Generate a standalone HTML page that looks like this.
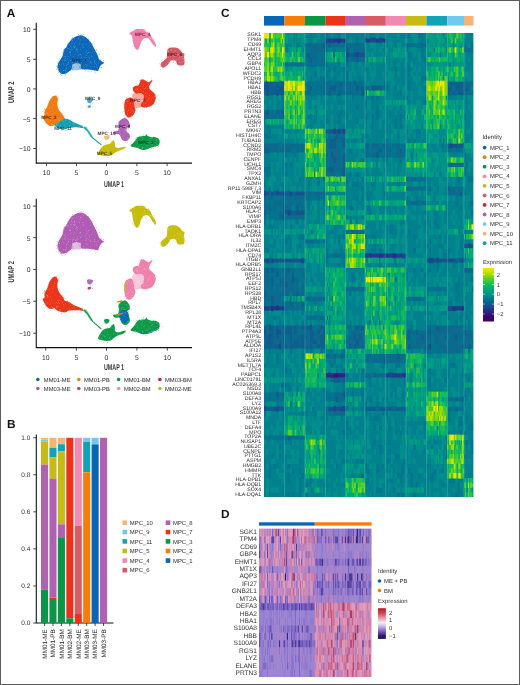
<!DOCTYPE html><html><head><meta charset="utf-8"><style>html,body{margin:0;padding:0;background:#fff;width:520px;height:685px;overflow:hidden}svg{display:block;will-change:transform}text{font-family:"Liberation Sans",sans-serif;text-rendering:geometricPrecision}</style></head><body>
<svg width="520" height="685" viewBox="0 0 520 685">
<rect x="0" y="0" width="520" height="685" fill="#fff"/>
<text x="6.80" y="16.60" font-size="11.8" text-anchor="start" fill="#111" font-weight="bold" >A</text>
<text x="7.10" y="428.00" font-size="11.8" text-anchor="start" fill="#111" font-weight="bold" >B</text>
<text x="221.00" y="16.80" font-size="11.8" text-anchor="start" fill="#111" font-weight="bold" >C</text>
<text x="221.00" y="517.80" font-size="11.8" text-anchor="start" fill="#111" font-weight="bold" >D</text>
<path d="M36.25,22.8 V163.1 H192" fill="none" stroke="#111" stroke-width="1.1"/>
<line x1="33.05" y1="29.3" x2="36.25" y2="29.3" stroke="#222" stroke-width="0.8"/>
<text x="30.50" y="32.20" font-size="6.8" text-anchor="end" fill="#333" >10</text>
<line x1="33.05" y1="59.3" x2="36.25" y2="59.3" stroke="#222" stroke-width="0.8"/>
<text x="30.50" y="62.20" font-size="6.8" text-anchor="end" fill="#333" >5</text>
<line x1="33.05" y1="88.9" x2="36.25" y2="88.9" stroke="#222" stroke-width="0.8"/>
<text x="30.50" y="91.80" font-size="6.8" text-anchor="end" fill="#333" >0</text>
<line x1="33.05" y1="118.6" x2="36.25" y2="118.6" stroke="#222" stroke-width="0.8"/>
<text x="30.50" y="121.50" font-size="6.8" text-anchor="end" fill="#333" >−5</text>
<line x1="33.05" y1="148.5" x2="36.25" y2="148.5" stroke="#222" stroke-width="0.8"/>
<text x="30.50" y="151.40" font-size="6.8" text-anchor="end" fill="#333" >−10</text>
<line x1="46.5" y1="163.1" x2="46.5" y2="166.1" stroke="#222" stroke-width="0.8"/>
<text x="46.50" y="175.40" font-size="6.8" text-anchor="middle" fill="#333" >10</text>
<line x1="76.5" y1="163.1" x2="76.5" y2="166.1" stroke="#222" stroke-width="0.8"/>
<text x="76.50" y="175.40" font-size="6.8" text-anchor="middle" fill="#333" >5</text>
<line x1="106.5" y1="163.1" x2="106.5" y2="166.1" stroke="#222" stroke-width="0.8"/>
<text x="106.50" y="175.40" font-size="6.8" text-anchor="middle" fill="#333" >0</text>
<line x1="136.9" y1="163.1" x2="136.9" y2="166.1" stroke="#222" stroke-width="0.8"/>
<text x="136.90" y="175.40" font-size="6.8" text-anchor="middle" fill="#333" >5</text>
<line x1="167.1" y1="163.1" x2="167.1" y2="166.1" stroke="#222" stroke-width="0.8"/>
<text x="167.10" y="175.40" font-size="6.8" text-anchor="middle" fill="#333" >10</text>
<text x="0" y="0" font-size="8.4" font-weight="bold" fill="#333" text-anchor="middle" transform="translate(114,186.8) scale(0.64,1)">UMAP 1</text>
<text x="0" y="0" font-size="8.4" font-weight="bold" fill="#333" text-anchor="middle" transform="translate(14.1,92.4) rotate(-90) scale(0.68,1)">UMAP 2</text>
<g >
<path d="M133.5,93.2 C134.3,92.8 135.9,93.8 137.0,93.8 C138.1,93.8 139.0,92.9 140.0,93.0 C141.0,93.1 142.5,93.6 143.1,94.5 C143.7,95.4 143.8,97.1 143.8,98.3 C143.8,99.5 143.6,100.5 143.1,101.4 C142.6,102.3 141.1,102.8 140.8,103.7 C140.5,104.6 142.0,106.1 141.5,106.8 C141.0,107.5 139.1,107.7 138.0,107.8 C136.9,107.9 135.5,108.1 134.8,107.2 C134.1,106.3 134.1,103.6 133.8,102.2 C133.5,100.8 133.4,100.1 133.1,99.1 C132.8,98.1 131.9,97.0 132.0,96.0 C132.1,95.0 132.7,93.6 133.5,93.2 Z" fill="#ec3419" fill-opacity="0.42"/>
<path d="M71.5,69.8 C70.9,68.8 71.8,65.5 72.5,64.5 C73.2,63.5 74.7,63.5 76.0,63.5 C77.3,63.5 79.6,63.5 80.5,64.5 C81.4,65.5 82.2,68.2 81.5,69.2 C80.8,70.2 77.7,70.1 76.0,70.2 C74.3,70.3 72.1,70.8 71.5,69.8 Z" fill="#0c68b8" fill-opacity="0.4"/>
<path d="M83.0,127.0 C83.3,126.6 85.2,126.2 86.0,126.5 C86.8,126.8 87.2,127.9 88.0,129.0 C88.8,130.1 89.8,131.8 90.5,133.0 C91.2,134.2 92.4,135.8 92.5,136.5 C92.6,137.2 91.7,137.9 91.0,137.5 C90.3,137.1 89.3,135.2 88.5,134.0 C87.7,132.8 86.8,131.3 86.0,130.5 C85.2,129.7 84.5,129.6 84.0,129.0 C83.5,128.4 82.7,127.4 83.0,127.0 Z" fill="#14a0b4" fill-opacity="0.55"/>
<path d="M69.0,71.5 C69.9,70.8 70.9,70.7 71.5,69.5 C72.1,68.3 71.8,65.5 72.5,64.5 C73.2,63.5 74.7,63.5 76.0,63.5 C77.3,63.5 79.6,63.6 80.5,64.5 C81.4,65.4 80.2,68.2 81.5,69.0 C82.8,69.8 85.8,69.2 88.0,69.5 C90.2,69.8 93.3,70.2 95.0,70.5 C96.7,70.8 97.3,71.3 98.0,71.0 C98.7,70.7 98.5,69.5 99.0,68.5 C99.5,67.5 100.2,65.9 101.0,65.0 C101.8,64.1 103.8,63.6 104.0,63.0 C104.2,62.4 102.8,62.2 102.0,61.5 C101.2,60.8 99.7,59.9 99.0,59.0 C98.3,58.1 98.7,57.5 98.0,56.0 C97.3,54.5 96.3,52.4 95.0,50.0 C93.7,47.6 91.9,43.9 90.4,41.8 C88.9,39.7 87.4,38.3 85.8,37.2 C84.2,36.1 82.3,35.4 80.6,35.3 C78.9,35.2 77.0,36.2 75.5,36.8 C74.0,37.4 73.2,37.8 71.9,39.0 C70.7,40.2 69.0,42.6 68.0,44.0 C67.0,45.4 66.8,46.6 66.1,47.6 C65.4,48.6 64.6,48.6 64.0,50.0 C63.4,51.4 63.2,54.2 62.5,56.0 C61.8,57.8 60.2,59.7 59.5,61.0 C58.8,62.3 58.3,62.8 58.0,64.0 C57.7,65.2 57.3,66.8 57.5,68.0 C57.7,69.2 58.2,70.5 59.0,71.5 C59.8,72.5 60.8,73.7 62.0,74.0 C63.2,74.3 64.8,73.9 66.0,73.5 C67.2,73.1 68.1,72.2 69.0,71.5 Z" fill="#0c68b8" />
<path d="M129.6,33.2 C129.9,32.7 131.1,32.0 131.9,31.5 C132.7,31.0 133.8,30.6 134.5,30.2 C135.2,29.8 134.3,29.4 135.8,29.2 C137.3,29.0 142.0,28.9 143.6,29.2 C145.2,29.5 144.7,30.6 145.6,31.2 C146.5,31.8 148.0,32.2 148.9,32.8 C149.8,33.4 150.3,33.9 150.8,34.8 C151.3,35.7 151.4,36.9 152.1,38.1 C152.8,39.3 154.2,40.7 154.8,42.0 C155.5,43.3 156.0,45.2 156.0,46.0 C156.0,46.8 155.5,47.1 154.8,46.6 C154.2,46.1 153.1,44.6 152.1,43.3 C151.1,42.0 150.0,39.6 148.9,38.7 C147.8,37.8 146.7,37.9 145.6,38.1 C144.5,38.3 143.2,39.0 142.3,40.0 C141.4,41.0 140.9,42.7 140.4,44.0 C139.9,45.3 139.7,46.9 139.1,47.9 C138.5,48.9 137.8,49.7 137.1,49.8 C136.4,49.9 135.8,49.4 135.2,48.5 C134.6,47.6 133.9,46.1 133.5,44.6 C133.1,43.1 132.8,40.9 132.5,39.4 C132.2,37.9 132.3,36.3 131.9,35.5 C131.5,34.7 130.3,34.9 129.9,34.5 C129.5,34.1 129.3,33.7 129.6,33.2 Z" fill="#ee80ac" />
<path d="M168.4,48.6 C169.1,48.0 170.0,47.6 171.3,47.5 C172.7,47.4 175.1,47.4 176.5,47.8 C177.9,48.2 179.0,49.0 179.9,49.8 C180.8,50.6 181.4,52.0 182.2,52.7 C183.0,53.4 184.2,53.1 184.5,53.8 C184.8,54.5 184.0,55.6 184.0,56.7 C184.0,57.9 184.5,59.4 184.5,60.7 C184.5,62.1 184.6,64.0 184.0,64.8 C183.4,65.6 182.2,65.4 181.1,65.4 C180.0,65.4 178.5,65.5 177.6,64.8 C176.7,64.1 176.6,62.1 175.9,61.3 C175.2,60.5 174.5,60.3 173.6,60.2 C172.7,60.1 171.4,60.3 170.7,60.7 C170.0,61.1 170.0,61.8 169.5,62.5 C169.0,63.2 168.6,64.0 167.8,64.8 C167.0,65.6 165.8,66.6 164.9,67.1 C164.0,67.6 163.3,68.1 162.6,67.7 C161.9,67.3 160.8,65.7 160.6,64.8 C160.4,63.9 160.9,63.3 161.5,62.5 C162.1,61.7 163.4,61.0 164.3,60.2 C165.2,59.4 166.2,58.8 166.7,57.8 C167.2,56.8 167.1,55.5 167.2,54.4 C167.3,53.2 167.0,51.9 167.2,50.9 C167.4,49.9 167.7,49.2 168.4,48.6 Z" fill="#d25a64" />
<path d="M140.8,79.8 C141.4,79.2 142.3,79.4 143.1,79.5 C143.9,79.6 144.5,80.1 145.4,80.6 C146.3,81.0 147.5,82.3 148.5,82.2 C149.5,82.1 150.9,80.4 151.5,80.2 C152.1,80.0 152.6,80.3 152.3,81.0 C152.1,81.7 150.5,83.3 150.0,84.5 C149.5,85.7 148.8,87.1 149.2,88.3 C149.6,89.5 151.4,90.5 152.3,91.4 C153.2,92.3 154.0,92.7 154.6,93.7 C155.2,94.7 155.8,96.1 155.8,97.5 C155.8,98.9 155.2,100.9 154.6,102.2 C154.0,103.5 153.3,104.4 152.3,105.2 C151.3,106.0 149.8,106.4 148.5,106.8 C147.2,107.2 145.8,107.5 144.6,107.5 C143.4,107.5 142.1,107.4 141.5,106.8 C140.9,106.2 140.5,104.6 140.8,103.7 C141.1,102.8 142.6,102.3 143.1,101.4 C143.6,100.5 143.8,99.5 143.8,98.3 C143.8,97.1 143.7,95.4 143.1,94.5 C142.5,93.6 141.0,93.0 140.0,92.9 C139.0,92.8 137.7,93.7 136.9,93.7 C136.1,93.7 135.6,93.4 135.0,92.9 C134.4,92.4 133.4,91.5 133.1,90.6 C132.8,89.7 132.7,88.3 133.1,87.5 C133.5,86.7 134.5,86.4 135.4,86.0 C136.3,85.6 137.8,85.7 138.5,85.2 C139.2,84.7 139.2,83.8 139.6,82.9 C140.0,82.0 140.2,80.4 140.8,79.8 Z" fill="#ec3419" />
<path d="M127.7,98.3 C128.5,98.0 129.9,97.4 130.8,97.5 C131.7,97.6 132.6,98.3 133.1,99.1 C133.6,99.9 133.6,100.9 133.8,102.2 C134.1,103.5 134.3,105.5 134.6,106.8 C134.9,108.1 135.4,108.8 135.4,109.8 C135.4,110.8 135.1,111.9 134.6,112.9 C134.1,113.9 133.2,115.2 132.3,116.0 C131.4,116.8 130.2,117.5 129.2,117.5 C128.2,117.5 127.0,117.0 126.2,116.0 C125.4,115.0 124.9,112.9 124.6,111.4 C124.3,109.9 124.2,108.3 124.2,106.8 C124.2,105.3 124.3,103.5 124.6,102.2 C124.9,100.9 125.7,99.8 126.2,99.1 C126.7,98.4 126.9,98.6 127.7,98.3 Z" fill="#ec3419" />
<path d="M122.4,118.7 C123.4,118.2 124.4,117.9 125.3,118.1 C126.2,118.3 126.9,119.0 127.6,119.8 C128.3,120.6 129.0,121.6 129.4,122.7 C129.8,123.8 130.1,125.4 129.9,126.2 C129.7,127.0 128.8,126.8 128.2,127.3 C127.6,127.8 126.7,128.2 126.5,129.0 C126.3,129.8 126.5,131.1 127.0,132.0 C127.5,132.9 128.9,133.3 129.4,134.2 C129.9,135.0 130.1,136.1 129.9,137.1 C129.7,138.1 129.0,139.3 128.2,140.0 C127.4,140.7 126.3,141.2 125.3,141.2 C124.3,141.2 123.2,140.7 122.4,140.0 C121.6,139.3 121.3,138.1 120.7,137.1 C120.1,136.1 120.0,134.7 119.0,134.2 C118.0,133.7 115.9,134.5 114.9,134.2 C113.9,133.9 113.3,133.0 113.2,132.5 C113.1,132.0 113.5,131.7 114.3,131.4 C115.1,131.1 117.0,131.5 117.8,130.8 C118.6,130.1 118.9,128.6 119.0,127.3 C119.1,126.0 118.3,124.3 118.4,123.3 C118.5,122.2 118.8,121.8 119.5,121.0 C120.2,120.2 121.4,119.2 122.4,118.7 Z" fill="#ac64b4" />
<path d="M130.6,145.6 C130.7,144.9 132.4,143.9 133.2,143.0 C134.0,142.1 134.4,141.4 135.2,140.4 C136.0,139.4 136.8,137.9 137.8,137.2 C138.8,136.5 139.9,136.4 141.1,136.2 C142.3,136.0 144.1,136.1 145.0,135.8 C145.9,135.5 145.9,134.2 146.3,134.2 C146.7,134.2 146.7,135.3 147.6,135.8 C148.5,136.3 150.2,137.0 151.5,137.2 C152.8,137.4 154.3,136.9 155.5,137.2 C156.7,137.5 158.0,138.1 158.7,138.8 C159.4,139.6 159.7,140.7 159.7,141.7 C159.7,142.7 159.4,144.2 158.7,145.0 C158.0,145.8 156.7,146.2 155.5,146.6 C154.3,147.0 152.8,147.2 151.5,147.6 C150.2,148.0 148.9,148.5 147.6,148.9 C146.3,149.3 145.0,149.9 143.7,149.9 C142.4,149.9 141.1,149.3 139.8,148.9 C138.5,148.5 137.0,147.9 135.8,147.6 C134.6,147.3 133.5,147.3 132.6,147.0 C131.7,146.7 130.5,146.3 130.6,145.6 Z" fill="#0e9a48" />
<path d="M98.2,152.8 C98.4,151.9 99.4,150.5 100.2,149.3 C101.0,148.2 102.0,146.7 103.0,145.9 C104.0,145.1 105.3,144.8 106.5,144.5 C107.7,144.2 109.0,144.3 109.9,143.8 C110.8,143.3 111.4,142.3 112.0,141.7 C112.6,141.1 113.2,140.1 113.7,140.3 C114.2,140.5 114.5,141.9 114.8,143.1 C115.1,144.2 114.7,146.4 115.5,147.2 C116.3,148.0 118.3,147.9 119.6,147.9 C120.9,147.9 122.0,147.1 123.1,146.9 C124.1,146.7 125.9,146.5 125.9,146.9 C125.9,147.3 124.3,148.7 123.1,149.3 C121.9,149.9 120.3,150.1 118.9,150.7 C117.5,151.3 116.1,152.0 114.8,152.8 C113.5,153.6 112.7,154.9 111.3,155.5 C109.9,156.1 108.0,156.2 106.5,156.2 C105.0,156.2 103.6,155.7 102.3,155.5 C101.0,155.3 99.5,155.3 98.8,154.9 C98.1,154.5 98.0,153.7 98.2,152.8 Z" fill="#c6bc0a" />
<path d="M55.0,95.5 C56.0,95.4 56.8,96.4 57.3,97.2 C57.8,98.0 57.9,99.0 57.9,100.1 C57.9,101.1 57.3,102.2 57.3,103.5 C57.3,104.8 57.5,106.3 57.9,107.6 C58.3,108.8 58.8,109.8 59.6,111.0 C60.4,112.2 61.7,113.4 62.5,114.5 C63.3,115.6 63.8,116.5 64.2,117.4 C64.6,118.3 65.2,118.9 64.8,119.7 C64.4,120.5 63.1,121.2 61.9,122.0 C60.6,122.8 58.8,123.6 57.3,124.3 C55.8,125.0 54.1,125.8 52.7,126.0 C51.3,126.2 49.9,126.1 48.7,125.5 C47.6,124.9 46.7,123.7 45.8,122.6 C44.9,121.5 44.0,120.1 43.5,119.1 C43.0,118.1 42.7,117.5 42.9,116.8 C43.1,116.1 44.3,116.1 44.6,115.1 C44.9,114.1 44.3,112.2 44.6,111.0 C44.9,109.8 45.7,109.2 46.3,108.2 C46.9,107.2 47.6,105.9 48.1,104.7 C48.6,103.5 48.6,102.4 49.2,101.2 C49.8,100.0 50.5,98.8 51.5,97.8 C52.5,96.8 54.0,95.6 55.0,95.5 Z" fill="#f27a10" />
<path d="M55.0,124.5 C55.5,123.5 58.2,122.6 59.8,121.6 C61.4,120.6 63.0,119.0 64.6,118.7 C66.2,118.4 67.8,119.1 69.4,119.7 C71.0,120.3 72.6,121.8 74.2,122.6 C75.8,123.4 77.6,123.9 79.0,124.5 C80.4,125.1 82.2,125.8 82.8,126.4 C83.4,127.0 83.6,127.7 82.8,127.9 C82.0,128.1 79.6,127.5 78.0,127.4 C76.4,127.3 74.8,127.3 73.2,127.4 C71.6,127.5 69.7,127.6 68.4,127.9 C67.1,128.2 66.8,129.2 65.5,129.3 C64.2,129.5 62.1,129.1 60.7,128.8 C59.3,128.5 57.9,128.1 56.9,127.4 C55.9,126.7 54.5,125.5 55.0,124.5 Z" fill="#14a0b4" />
<path d="M87.0,99.0 C87.3,98.3 89.0,98.2 90.0,98.3 C91.0,98.3 93.0,98.8 93.3,99.3 C93.6,99.8 92.5,100.8 92.0,101.5 C91.5,102.2 91.2,103.0 90.5,103.2 C89.8,103.4 88.6,103.2 88.0,102.5 C87.4,101.8 86.7,99.7 87.0,99.0 Z" fill="#48a8d4" />
<path d="M87.7,106.0 C88.0,105.6 89.4,105.2 90.0,105.3 C90.6,105.4 91.3,106.0 91.2,106.5 C91.1,107.0 90.0,107.8 89.5,108.0 C89.0,108.2 88.2,107.9 87.9,107.6 C87.6,107.3 87.4,106.4 87.7,106.0 Z" fill="#48a8d4" />
<path d="M104.0,136.5 C104.2,135.8 106.1,135.6 107.0,135.6 C107.9,135.6 109.2,135.9 109.4,136.5 C109.7,137.1 109.2,138.4 108.5,139.0 C107.8,139.6 106.2,140.2 105.5,139.8 C104.8,139.4 103.8,137.2 104.0,136.5 Z" fill="#f8b678" />
<path d="M84.5,127.5 L87.5,130.5 L90.3,134.5 L92.8,138.0 L96.3,140.8 L101.0,144.7" fill="none" stroke="#14a0b4" stroke-width="1.1" stroke-linecap="round" stroke-dasharray="2.2 0.8"/>
<path fill="#fff" fill-opacity="0.6" d="M63.2,63.1h0.5v0.5h-0.5zM79.7,42.0h0.6v0.6h-0.6zM96.9,55.2h0.5v0.5h-0.5zM74.0,58.5h0.3v0.3h-0.3zM71.8,54.5h0.3v0.3h-0.3zM62.6,68.8h0.3v0.3h-0.3zM83.5,47.6h0.5v0.5h-0.5zM94.1,66.4h0.5v0.5h-0.5zM65.1,73.6h0.6v0.6h-0.6zM76.0,48.6h0.5v0.5h-0.5zM59.4,64.4h0.6v0.6h-0.6zM80.5,54.3h0.5v0.5h-0.5zM86.5,57.2h0.5v0.5h-0.5zM72.7,59.0h0.4v0.4h-0.4zM97.2,67.0h0.4v0.4h-0.4zM90.4,62.5h0.6v0.6h-0.6zM80.3,49.1h0.4v0.4h-0.4zM58.1,68.3h0.6v0.6h-0.6zM69.7,51.1h0.4v0.4h-0.4zM93.7,53.7h0.4v0.4h-0.4zM65.6,69.8h0.6v0.6h-0.6zM82.6,44.6h0.6v0.6h-0.6zM85.7,61.1h0.6v0.6h-0.6zM85.2,43.8h0.4v0.4h-0.4zM78.0,38.6h0.6v0.6h-0.6zM82.8,46.8h0.5v0.5h-0.5zM57.8,66.4h0.4v0.4h-0.4zM74.9,46.1h0.6v0.6h-0.6zM70.0,54.8h0.5v0.5h-0.5zM86.1,55.0h0.6v0.6h-0.6zM91.2,55.8h0.5v0.5h-0.5zM57.8,68.7h0.6v0.6h-0.6zM73.1,46.5h0.6v0.6h-0.6zM58.3,68.7h0.6v0.6h-0.6zM78.0,60.1h0.3v0.3h-0.3zM88.3,52.1h0.5v0.5h-0.5zM74.9,50.2h0.4v0.4h-0.4zM67.5,63.8h0.6v0.6h-0.6zM92.5,52.7h0.4v0.4h-0.4zM74.7,54.1h0.5v0.5h-0.5zM79.7,54.3h0.6v0.6h-0.6zM94.3,62.2h0.6v0.6h-0.6zM91.2,62.8h0.4v0.4h-0.4zM86.8,69.2h0.6v0.6h-0.6zM70.9,46.2h0.4v0.4h-0.4zM62.1,57.0h0.3v0.3h-0.3zM93.5,53.0h0.3v0.3h-0.3zM72.1,61.0h0.5v0.5h-0.5zM71.4,43.7h0.6v0.6h-0.6zM62.6,62.7h0.4v0.4h-0.4zM85.9,44.7h0.4v0.4h-0.4zM77.4,59.9h0.4v0.4h-0.4zM83.1,36.5h0.4v0.4h-0.4zM73.9,38.3h0.6v0.6h-0.6zM97.7,56.0h0.3v0.3h-0.3zM64.3,50.3h0.5v0.5h-0.5zM66.3,68.2h0.6v0.6h-0.6zM87.1,53.4h0.6v0.6h-0.6zM72.2,44.4h0.4v0.4h-0.4zM70.1,60.3h0.6v0.6h-0.6zM81.4,62.6h0.4v0.4h-0.4zM90.2,61.5h0.4v0.4h-0.4zM75.9,63.2h0.6v0.6h-0.6zM73.0,56.1h0.5v0.5h-0.5zM63.6,64.0h0.5v0.5h-0.5zM63.0,70.3h0.6v0.6h-0.6zM102.1,62.7h0.4v0.4h-0.4zM86.7,59.4h0.6v0.6h-0.6zM83.6,67.0h0.6v0.6h-0.6zM63.9,56.4h0.6v0.6h-0.6zM73.5,38.2h0.3v0.3h-0.3zM76.7,58.2h0.3v0.3h-0.3zM89.4,41.7h0.3v0.3h-0.3zM76.8,60.9h0.6v0.6h-0.6zM93.9,61.4h0.4v0.4h-0.4zM77.1,49.2h0.5v0.5h-0.5zM68.4,56.3h0.5v0.5h-0.5zM96.6,65.2h0.6v0.6h-0.6zM89.4,58.3h0.5v0.5h-0.5zM66.4,65.1h0.6v0.6h-0.6zM74.9,60.4h0.5v0.5h-0.5zM74.2,43.5h0.6v0.6h-0.6zM64.9,70.2h0.6v0.6h-0.6zM68.4,62.8h0.4v0.4h-0.4zM80.6,64.2h0.4v0.4h-0.4zM90.5,47.3h0.5v0.5h-0.5zM73.8,40.9h0.3v0.3h-0.3zM61.0,71.7h0.5v0.5h-0.5zM85.7,52.1h0.5v0.5h-0.5zM87.9,60.7h0.4v0.4h-0.4zM78.5,55.3h0.4v0.4h-0.4zM88.3,52.6h0.4v0.4h-0.4zM85.3,58.4h0.3v0.3h-0.3zM80.2,39.7h0.6v0.6h-0.6zM71.7,47.0h0.4v0.4h-0.4zM62.5,60.2h0.6v0.6h-0.6zM82.6,37.5h0.4v0.4h-0.4zM91.2,56.4h0.3v0.3h-0.3zM67.2,59.1h0.3v0.3h-0.3zM65.2,58.1h0.6v0.6h-0.6zM81.8,62.0h0.3v0.3h-0.3zM70.4,46.5h0.6v0.6h-0.6zM95.0,58.2h0.4v0.4h-0.4zM92.3,56.0h0.4v0.4h-0.4zM72.4,62.0h0.5v0.5h-0.5zM96.1,66.0h0.4v0.4h-0.4zM89.3,52.1h0.4v0.4h-0.4zM76.8,63.2h0.5v0.5h-0.5zM79.4,57.2h0.4v0.4h-0.4zM64.9,54.4h0.4v0.4h-0.4zM71.8,40.6h0.6v0.6h-0.6zM76.8,41.3h0.3v0.3h-0.3zM65.7,71.1h0.4v0.4h-0.4zM89.5,42.6h0.5v0.5h-0.5zM74.2,44.8h0.5v0.5h-0.5zM98.2,63.2h0.5v0.5h-0.5zM90.2,66.8h0.5v0.5h-0.5zM71.7,49.3h0.6v0.6h-0.6zM68.8,44.2h0.6v0.6h-0.6zM86.7,65.6h0.6v0.6h-0.6zM80.7,63.7h0.5v0.5h-0.5zM77.1,62.0h0.4v0.4h-0.4zM70.0,52.2h0.5v0.5h-0.5zM76.2,49.8h0.6v0.6h-0.6zM91.3,69.6h0.6v0.6h-0.6zM68.0,60.2h0.4v0.4h-0.4zM73.0,60.6h0.6v0.6h-0.6zM69.1,67.3h0.3v0.3h-0.3zM72.4,39.8h0.4v0.4h-0.4zM84.6,57.1h0.6v0.6h-0.6zM99.0,60.1h0.4v0.4h-0.4zM96.1,70.5h0.6v0.6h-0.6zM70.5,51.7h0.6v0.6h-0.6zM78.7,63.3h0.6v0.6h-0.6zM64.3,59.8h0.6v0.6h-0.6zM58.9,64.2h0.5v0.5h-0.5zM83.3,37.7h0.6v0.6h-0.6zM77.6,58.0h0.4v0.4h-0.4zM86.3,50.1h0.5v0.5h-0.5zM70.2,66.4h0.4v0.4h-0.4zM68.2,48.1h0.5v0.5h-0.5zM67.1,47.6h0.4v0.4h-0.4zM98.4,61.7h0.5v0.5h-0.5zM95.0,63.0h0.4v0.4h-0.4zM86.8,65.6h0.5v0.5h-0.5zM94.0,60.6h0.6v0.6h-0.6zM68.4,62.3h0.6v0.6h-0.6zM59.5,64.6h0.4v0.4h-0.4zM93.9,51.2h0.5v0.5h-0.5zM88.3,60.4h0.3v0.3h-0.3zM65.2,56.3h0.5v0.5h-0.5zM81.3,57.1h0.6v0.6h-0.6zM77.1,51.1h0.5v0.5h-0.5zM89.9,44.0h0.5v0.5h-0.5zM69.8,49.1h0.4v0.4h-0.4zM80.3,58.5h0.6v0.6h-0.6zM74.1,47.5h0.4v0.4h-0.4zM85.7,64.5h0.5v0.5h-0.5zM86.1,39.8h0.4v0.4h-0.4zM85.3,61.1h0.5v0.5h-0.5zM72.5,62.3h0.4v0.4h-0.4zM81.5,40.3h0.3v0.3h-0.3zM88.8,56.8h0.6v0.6h-0.6zM79.6,36.1h0.6v0.6h-0.6zM67.6,48.3h0.5v0.5h-0.5zM75.4,61.6h0.6v0.6h-0.6zM76.1,61.1h0.3v0.3h-0.3zM96.2,63.9h0.4v0.4h-0.4zM79.3,44.4h0.6v0.6h-0.6zM74.5,47.6h0.6v0.6h-0.6zM69.4,52.2h0.6v0.6h-0.6zM71.8,42.5h0.4v0.4h-0.4zM65.1,60.4h0.5v0.5h-0.5zM76.3,42.4h0.4v0.4h-0.4zM151.8,38.3h0.5v0.5h-0.5zM143.4,30.5h0.4v0.4h-0.4zM152.4,39.5h0.3v0.3h-0.3zM132.1,33.6h0.4v0.4h-0.4zM145.1,31.3h0.5v0.5h-0.5zM142.3,36.2h0.3v0.3h-0.3zM144.3,33.8h0.5v0.5h-0.5zM153.5,41.0h0.6v0.6h-0.6zM133.2,31.1h0.3v0.3h-0.3zM149.5,33.8h0.4v0.4h-0.4zM138.3,39.6h0.4v0.4h-0.4zM153.8,42.1h0.4v0.4h-0.4zM147.3,33.4h0.4v0.4h-0.4zM137.3,29.8h0.3v0.3h-0.3zM134.4,36.6h0.6v0.6h-0.6zM135.8,48.2h0.4v0.4h-0.4zM148.1,33.5h0.4v0.4h-0.4zM135.7,46.2h0.4v0.4h-0.4zM153.7,44.7h0.6v0.6h-0.6zM143.8,33.7h0.5v0.5h-0.5zM148.3,37.7h0.5v0.5h-0.5zM139.1,41.2h0.4v0.4h-0.4zM144.6,36.1h0.6v0.6h-0.6zM131.7,35.2h0.4v0.4h-0.4zM135.2,41.1h0.5v0.5h-0.5zM149.9,38.5h0.6v0.6h-0.6zM145.3,36.4h0.3v0.3h-0.3zM154.2,44.3h0.4v0.4h-0.4zM135.0,47.9h0.4v0.4h-0.4zM149.1,37.3h0.6v0.6h-0.6zM151.0,36.2h0.6v0.6h-0.6zM140.4,30.3h0.5v0.5h-0.5zM143.4,37.7h0.6v0.6h-0.6zM144.8,31.2h0.5v0.5h-0.5zM133.4,42.2h0.4v0.4h-0.4zM136.9,37.3h0.5v0.5h-0.5zM139.2,30.3h0.3v0.3h-0.3zM140.0,43.0h0.6v0.6h-0.6zM133.7,39.3h0.4v0.4h-0.4zM135.4,31.6h0.3v0.3h-0.3zM150.3,37.9h0.6v0.6h-0.6zM133.6,43.7h0.6v0.6h-0.6zM146.9,34.7h0.6v0.6h-0.6zM177.3,55.0h0.6v0.6h-0.6zM173.7,56.5h0.6v0.6h-0.6zM167.7,54.1h0.5v0.5h-0.5zM180.9,62.6h0.5v0.5h-0.5zM161.6,63.4h0.5v0.5h-0.5zM166.8,57.4h0.5v0.5h-0.5zM179.5,55.9h0.6v0.6h-0.6zM180.6,57.7h0.5v0.5h-0.5zM172.5,57.8h0.3v0.3h-0.3zM183.5,58.6h0.5v0.5h-0.5zM184.2,59.0h0.5v0.5h-0.5zM168.7,56.3h0.3v0.3h-0.3zM167.1,65.1h0.5v0.5h-0.5zM176.3,59.8h0.6v0.6h-0.6zM167.9,52.2h0.4v0.4h-0.4zM170.5,57.7h0.4v0.4h-0.4zM168.0,51.0h0.6v0.6h-0.6zM177.4,54.7h0.6v0.6h-0.6zM181.6,59.4h0.5v0.5h-0.5zM170.1,49.3h0.4v0.4h-0.4zM179.4,57.5h0.5v0.5h-0.5zM169.5,60.3h0.6v0.6h-0.6zM182.7,56.5h0.6v0.6h-0.6zM173.8,57.9h0.5v0.5h-0.5zM180.2,54.3h0.5v0.5h-0.5zM178.1,54.6h0.4v0.4h-0.4zM182.6,62.6h0.4v0.4h-0.4zM182.6,57.8h0.4v0.4h-0.4zM180.8,56.0h0.5v0.5h-0.5zM168.4,50.0h0.5v0.5h-0.5zM182.4,58.5h0.5v0.5h-0.5zM168.6,60.2h0.3v0.3h-0.3zM179.7,62.1h0.6v0.6h-0.6zM168.2,57.6h0.5v0.5h-0.5zM178.3,59.4h0.6v0.6h-0.6zM171.3,50.2h0.6v0.6h-0.6zM167.6,51.5h0.6v0.6h-0.6zM181.1,56.0h0.5v0.5h-0.5zM170.6,55.9h0.5v0.5h-0.5zM171.3,49.1h0.5v0.5h-0.5zM183.3,61.1h0.5v0.5h-0.5zM183.1,58.1h0.5v0.5h-0.5zM166.1,64.5h0.4v0.4h-0.4zM173.4,59.4h0.5v0.5h-0.5zM171.1,52.2h0.5v0.5h-0.5zM175.5,50.3h0.6v0.6h-0.6zM141.7,103.1h0.4v0.4h-0.4zM138.2,87.9h0.4v0.4h-0.4zM143.3,101.7h0.6v0.6h-0.6zM137.2,89.6h0.6v0.6h-0.6zM147.6,87.8h0.5v0.5h-0.5zM137.1,88.9h0.6v0.6h-0.6zM141.2,83.4h0.3v0.3h-0.3zM154.9,96.0h0.6v0.6h-0.6zM144.0,79.9h0.3v0.3h-0.3zM140.0,89.2h0.6v0.6h-0.6zM144.7,88.4h0.6v0.6h-0.6zM141.5,103.0h0.5v0.5h-0.5zM145.3,103.0h0.6v0.6h-0.6zM145.4,93.4h0.6v0.6h-0.6zM143.5,85.2h0.5v0.5h-0.5zM135.6,89.3h0.6v0.6h-0.6zM143.9,88.2h0.4v0.4h-0.4zM143.5,95.5h0.5v0.5h-0.5zM147.5,100.6h0.6v0.6h-0.6zM143.1,105.1h0.4v0.4h-0.4zM141.5,91.2h0.4v0.4h-0.4zM143.9,102.6h0.3v0.3h-0.3zM143.3,91.0h0.6v0.6h-0.6zM148.6,99.5h0.5v0.5h-0.5zM136.5,90.2h0.6v0.6h-0.6zM150.9,92.2h0.4v0.4h-0.4zM148.5,104.0h0.6v0.6h-0.6zM152.5,97.3h0.4v0.4h-0.4zM149.7,97.5h0.5v0.5h-0.5zM142.1,93.9h0.3v0.3h-0.3zM138.5,85.7h0.6v0.6h-0.6zM155.0,98.2h0.5v0.5h-0.5zM148.1,83.8h0.6v0.6h-0.6zM143.9,87.9h0.4v0.4h-0.4zM154.1,96.1h0.5v0.5h-0.5zM149.4,95.3h0.6v0.6h-0.6zM146.1,86.1h0.4v0.4h-0.4zM133.9,90.7h0.5v0.5h-0.5zM148.3,98.2h0.6v0.6h-0.6zM148.6,86.6h0.5v0.5h-0.5zM152.2,104.6h0.4v0.4h-0.4zM140.4,85.4h0.3v0.3h-0.3zM136.4,87.8h0.4v0.4h-0.4zM143.9,104.9h0.4v0.4h-0.4zM143.5,103.8h0.5v0.5h-0.5zM151.0,99.0h0.4v0.4h-0.4zM150.8,81.2h0.6v0.6h-0.6zM142.8,84.0h0.4v0.4h-0.4zM152.8,96.4h0.4v0.4h-0.4zM144.1,99.1h0.3v0.3h-0.3zM142.6,86.1h0.5v0.5h-0.5zM137.8,91.2h0.6v0.6h-0.6zM154.0,102.3h0.5v0.5h-0.5zM146.0,103.7h0.4v0.4h-0.4zM140.3,81.2h0.5v0.5h-0.5zM146.6,96.5h0.5v0.5h-0.5zM142.1,80.8h0.5v0.5h-0.5zM139.3,86.2h0.6v0.6h-0.6zM128.0,99.4h0.3v0.3h-0.3zM127.5,111.2h0.5v0.5h-0.5zM130.1,107.9h0.6v0.6h-0.6zM133.9,103.1h0.3v0.3h-0.3zM125.7,108.9h0.5v0.5h-0.5zM125.6,107.4h0.3v0.3h-0.3zM128.3,98.8h0.4v0.4h-0.4zM125.7,101.4h0.4v0.4h-0.4zM127.3,103.2h0.4v0.4h-0.4zM130.9,106.1h0.4v0.4h-0.4zM132.0,103.6h0.3v0.3h-0.3zM133.1,105.7h0.5v0.5h-0.5zM133.1,114.8h0.4v0.4h-0.4zM132.9,111.3h0.6v0.6h-0.6zM130.5,112.2h0.6v0.6h-0.6zM132.5,99.3h0.4v0.4h-0.4zM127.4,113.8h0.5v0.5h-0.5zM128.4,110.3h0.6v0.6h-0.6zM132.7,99.3h0.3v0.3h-0.3zM131.5,115.2h0.6v0.6h-0.6zM126.6,101.4h0.5v0.5h-0.5zM132.3,113.3h0.5v0.5h-0.5zM131.9,109.8h0.6v0.6h-0.6zM130.0,103.0h0.4v0.4h-0.4zM127.3,101.5h0.5v0.5h-0.5zM125.7,105.2h0.5v0.5h-0.5zM131.4,100.8h0.6v0.6h-0.6zM126.3,115.3h0.6v0.6h-0.6zM123.2,131.8h0.4v0.4h-0.4zM127.8,138.1h0.6v0.6h-0.6zM124.9,126.1h0.5v0.5h-0.5zM119.3,130.0h0.5v0.5h-0.5zM124.7,129.3h0.6v0.6h-0.6zM120.9,124.2h0.4v0.4h-0.4zM124.5,124.5h0.3v0.3h-0.3zM118.9,124.4h0.4v0.4h-0.4zM125.5,130.3h0.6v0.6h-0.6zM124.7,132.7h0.5v0.5h-0.5zM127.7,139.5h0.5v0.5h-0.5zM122.0,136.3h0.4v0.4h-0.4zM126.1,121.9h0.6v0.6h-0.6zM118.7,132.1h0.6v0.6h-0.6zM123.6,119.0h0.3v0.3h-0.3zM125.6,128.0h0.5v0.5h-0.5zM128.2,124.6h0.5v0.5h-0.5zM121.6,119.7h0.3v0.3h-0.3zM121.2,125.2h0.6v0.6h-0.6zM120.5,136.0h0.3v0.3h-0.3zM127.6,137.4h0.5v0.5h-0.5zM119.4,125.4h0.6v0.6h-0.6zM122.0,130.5h0.4v0.4h-0.4zM119.2,127.0h0.5v0.5h-0.5zM128.0,139.1h0.6v0.6h-0.6zM126.8,122.8h0.4v0.4h-0.4zM122.7,124.5h0.6v0.6h-0.6zM120.4,134.5h0.6v0.6h-0.6zM125.7,129.7h0.3v0.3h-0.3zM115.7,131.3h0.5v0.5h-0.5zM126.1,130.6h0.3v0.3h-0.3zM124.1,126.4h0.5v0.5h-0.5zM126.6,125.9h0.4v0.4h-0.4zM124.7,129.6h0.3v0.3h-0.3zM122.9,126.2h0.6v0.6h-0.6zM152.5,137.7h0.3v0.3h-0.3zM137.6,141.5h0.4v0.4h-0.4zM153.8,145.9h0.5v0.5h-0.5zM142.0,139.1h0.5v0.5h-0.5zM138.6,146.8h0.4v0.4h-0.4zM143.4,142.3h0.5v0.5h-0.5zM157.6,144.7h0.6v0.6h-0.6zM141.1,148.7h0.3v0.3h-0.3zM137.3,143.5h0.6v0.6h-0.6zM156.4,139.0h0.4v0.4h-0.4zM142.2,137.2h0.5v0.5h-0.5zM141.7,139.9h0.4v0.4h-0.4zM151.9,144.2h0.5v0.5h-0.5zM149.9,144.0h0.5v0.5h-0.5zM147.6,148.7h0.5v0.5h-0.5zM152.4,140.8h0.6v0.6h-0.6zM145.1,145.2h0.3v0.3h-0.3zM153.6,139.8h0.3v0.3h-0.3zM149.6,138.6h0.4v0.4h-0.4zM153.3,146.5h0.3v0.3h-0.3zM149.3,137.9h0.4v0.4h-0.4zM141.3,141.0h0.5v0.5h-0.5zM147.9,144.8h0.5v0.5h-0.5zM146.2,140.5h0.3v0.3h-0.3zM156.5,140.1h0.3v0.3h-0.3zM148.6,142.6h0.4v0.4h-0.4zM150.8,138.3h0.6v0.6h-0.6zM135.7,140.5h0.5v0.5h-0.5zM141.5,143.8h0.5v0.5h-0.5zM156.0,139.0h0.6v0.6h-0.6zM140.9,140.6h0.3v0.3h-0.3zM142.3,147.0h0.6v0.6h-0.6zM144.6,141.4h0.5v0.5h-0.5zM146.7,145.7h0.6v0.6h-0.6zM143.9,142.6h0.4v0.4h-0.4zM142.5,147.3h0.6v0.6h-0.6zM150.8,138.5h0.3v0.3h-0.3zM157.5,144.2h0.4v0.4h-0.4zM144.9,147.7h0.4v0.4h-0.4zM135.0,146.4h0.5v0.5h-0.5zM151.1,141.7h0.6v0.6h-0.6zM141.4,136.4h0.6v0.6h-0.6zM152.4,142.6h0.3v0.3h-0.3zM145.0,149.5h0.4v0.4h-0.4zM140.4,136.7h0.4v0.4h-0.4zM142.5,148.3h0.5v0.5h-0.5zM145.5,149.3h0.4v0.4h-0.4zM110.6,155.0h0.3v0.3h-0.3zM100.9,149.9h0.4v0.4h-0.4zM108.5,155.8h0.6v0.6h-0.6zM119.3,149.7h0.4v0.4h-0.4zM102.5,150.3h0.5v0.5h-0.5zM101.2,155.2h0.4v0.4h-0.4zM106.8,150.3h0.6v0.6h-0.6zM105.5,154.7h0.4v0.4h-0.4zM110.6,154.6h0.6v0.6h-0.6zM107.2,147.4h0.5v0.5h-0.5zM104.5,151.2h0.5v0.5h-0.5zM109.3,153.0h0.6v0.6h-0.6zM99.0,152.8h0.5v0.5h-0.5zM109.1,155.7h0.3v0.3h-0.3zM101.6,153.5h0.5v0.5h-0.5zM113.5,148.8h0.6v0.6h-0.6zM106.5,148.6h0.4v0.4h-0.4zM107.9,150.0h0.5v0.5h-0.5zM110.2,147.7h0.3v0.3h-0.3zM112.6,153.7h0.3v0.3h-0.3zM103.6,147.0h0.3v0.3h-0.3zM112.4,143.1h0.3v0.3h-0.3zM104.5,146.3h0.5v0.5h-0.5zM104.9,152.1h0.6v0.6h-0.6zM111.4,150.0h0.4v0.4h-0.4zM106.6,154.0h0.5v0.5h-0.5zM114.0,144.7h0.6v0.6h-0.6zM104.6,152.1h0.6v0.6h-0.6zM107.0,144.6h0.3v0.3h-0.3zM103.4,150.7h0.4v0.4h-0.4zM116.8,150.0h0.5v0.5h-0.5zM110.4,151.6h0.4v0.4h-0.4zM105.5,147.6h0.3v0.3h-0.3zM60.9,117.9h0.5v0.5h-0.5zM47.0,114.7h0.6v0.6h-0.6zM52.0,119.6h0.4v0.4h-0.4zM52.7,110.8h0.4v0.4h-0.4zM46.3,112.6h0.4v0.4h-0.4zM47.7,106.1h0.3v0.3h-0.3zM47.6,120.4h0.5v0.5h-0.5zM55.6,118.2h0.3v0.3h-0.3zM53.6,124.8h0.5v0.5h-0.5zM56.3,119.8h0.6v0.6h-0.6zM57.4,120.7h0.4v0.4h-0.4zM48.5,114.7h0.5v0.5h-0.5zM60.6,115.9h0.3v0.3h-0.3zM49.0,121.4h0.4v0.4h-0.4zM45.9,121.3h0.3v0.3h-0.3zM56.5,115.6h0.3v0.3h-0.3zM58.9,118.2h0.5v0.5h-0.5zM51.4,118.0h0.4v0.4h-0.4zM50.5,99.3h0.4v0.4h-0.4zM52.3,124.2h0.6v0.6h-0.6zM58.1,119.4h0.5v0.5h-0.5zM52.7,124.8h0.5v0.5h-0.5zM50.9,124.3h0.4v0.4h-0.4zM62.5,119.8h0.6v0.6h-0.6zM64.0,117.0h0.3v0.3h-0.3zM50.7,102.7h0.5v0.5h-0.5zM54.2,102.5h0.3v0.3h-0.3zM49.2,118.4h0.5v0.5h-0.5zM47.0,113.3h0.5v0.5h-0.5zM47.6,119.6h0.5v0.5h-0.5zM51.7,98.6h0.4v0.4h-0.4zM57.8,122.4h0.5v0.5h-0.5zM49.5,107.0h0.6v0.6h-0.6zM50.1,111.3h0.4v0.4h-0.4zM52.2,104.9h0.3v0.3h-0.3zM49.9,115.1h0.3v0.3h-0.3zM58.2,117.4h0.4v0.4h-0.4zM53.1,104.4h0.6v0.6h-0.6zM51.0,123.8h0.5v0.5h-0.5zM56.5,123.6h0.6v0.6h-0.6zM59.9,113.7h0.4v0.4h-0.4zM45.6,111.5h0.4v0.4h-0.4zM56.9,117.4h0.6v0.6h-0.6zM59.0,120.8h0.6v0.6h-0.6zM45.3,118.4h0.4v0.4h-0.4zM45.7,118.9h0.5v0.5h-0.5zM51.8,115.9h0.4v0.4h-0.4zM46.5,112.9h0.5v0.5h-0.5zM53.3,125.4h0.5v0.5h-0.5zM47.3,107.3h0.4v0.4h-0.4zM52.9,120.7h0.3v0.3h-0.3zM49.2,108.1h0.4v0.4h-0.4zM45.7,116.0h0.4v0.4h-0.4zM55.5,120.7h0.3v0.3h-0.3zM49.9,120.4h0.5v0.5h-0.5zM54.7,112.8h0.5v0.5h-0.5zM52.2,106.8h0.5v0.5h-0.5zM57.1,123.8h0.5v0.5h-0.5zM54.8,119.5h0.4v0.4h-0.4zM52.6,109.7h0.4v0.4h-0.4zM54.9,97.9h0.3v0.3h-0.3zM54.2,100.7h0.5v0.5h-0.5zM50.7,114.5h0.4v0.4h-0.4zM59.5,114.2h0.4v0.4h-0.4zM56.6,124.6h0.6v0.6h-0.6zM65.6,125.2h0.3v0.3h-0.3zM72.8,123.0h0.5v0.5h-0.5zM74.4,125.7h0.5v0.5h-0.5zM60.0,126.9h0.4v0.4h-0.4zM63.1,123.2h0.4v0.4h-0.4zM63.2,121.4h0.5v0.5h-0.5zM69.3,125.4h0.5v0.5h-0.5zM79.3,126.5h0.6v0.6h-0.6zM59.6,126.1h0.6v0.6h-0.6zM68.2,119.9h0.3v0.3h-0.3zM76.8,126.6h0.4v0.4h-0.4zM82.1,127.4h0.4v0.4h-0.4zM73.8,123.6h0.6v0.6h-0.6zM72.4,125.7h0.4v0.4h-0.4zM71.7,126.7h0.3v0.3h-0.3zM63.9,125.4h0.4v0.4h-0.4zM56.4,125.8h0.4v0.4h-0.4zM73.1,124.1h0.3v0.3h-0.3zM59.5,127.1h0.6v0.6h-0.6zM65.1,120.4h0.6v0.6h-0.6zM56.8,124.9h0.5v0.5h-0.5zM69.2,120.9h0.5v0.5h-0.5zM58.4,123.3h0.4v0.4h-0.4zM61.5,127.5h0.3v0.3h-0.3zM70.3,122.7h0.6v0.6h-0.6zM56.6,124.4h0.4v0.4h-0.4zM90.8,100.5h0.3v0.3h-0.3zM89.5,99.3h0.4v0.4h-0.4zM92.5,100.5h0.3v0.3h-0.3zM89.8,106.8h0.4v0.4h-0.4zM106.1,138.4h0.5v0.5h-0.5zM105.8,137.7h0.5v0.5h-0.5z"/>
<path fill="#0c68b8" d="M100.4,59.8h0.3v0.3h-0.3zM100.8,59.2h0.4v0.4h-0.4zM85.0,70.3h0.4v0.4h-0.4zM64.2,49.2h0.5v0.5h-0.5zM83.4,34.4h0.5v0.5h-0.5zM100.4,66.9h0.5v0.5h-0.5zM91.9,43.6h0.5v0.5h-0.5zM101.3,67.1h0.5v0.5h-0.5zM104.7,63.8h0.4v0.4h-0.4zM63.7,49.5h0.4v0.4h-0.4zM64.4,75.2h0.3v0.3h-0.3zM80.8,34.1h0.5v0.5h-0.5zM91.3,43.0h0.3v0.3h-0.3zM58.7,72.5h0.5v0.5h-0.5zM57.6,68.7h0.5v0.5h-0.5zM60.0,73.9h0.5v0.5h-0.5zM82.0,35.8h0.5v0.5h-0.5zM95.3,72.7h0.5v0.5h-0.5zM88.5,39.5h0.6v0.6h-0.6zM56.4,69.1h0.5v0.5h-0.5zM79.8,34.8h0.4v0.4h-0.4zM97.9,54.6h0.4v0.4h-0.4zM90.9,71.0h0.5v0.5h-0.5zM87.8,38.8h0.5v0.5h-0.5zM57.5,63.4h0.4v0.4h-0.4zM72.7,66.0h0.5v0.5h-0.5zM73.3,67.4h0.3v0.3h-0.3zM78.1,65.2h0.5v0.5h-0.5zM63.3,50.0h0.5v0.5h-0.5zM87.9,37.3h0.5v0.5h-0.5zM91.3,70.1h0.3v0.3h-0.3zM67.8,42.0h0.4v0.4h-0.4zM92.8,43.2h0.4v0.4h-0.4zM70.8,38.6h0.5v0.5h-0.5zM62.9,50.7h0.4v0.4h-0.4zM60.6,56.1h0.3v0.3h-0.3zM67.5,43.8h0.6v0.6h-0.6zM103.4,60.4h0.6v0.6h-0.6zM57.5,62.7h0.6v0.6h-0.6zM72.1,67.9h0.4v0.4h-0.4zM99.0,53.8h0.6v0.6h-0.6zM97.6,53.0h0.3v0.3h-0.3zM72.2,37.4h0.4v0.4h-0.4zM94.5,71.8h0.5v0.5h-0.5zM73.5,67.5h0.5v0.5h-0.5zM96.7,50.1h0.6v0.6h-0.6zM59.4,58.3h0.4v0.4h-0.4zM57.1,65.6h0.4v0.4h-0.4zM79.4,67.3h0.4v0.4h-0.4zM62.7,53.6h0.5v0.5h-0.5zM66.2,73.5h0.5v0.5h-0.5zM65.1,74.4h0.6v0.6h-0.6zM71.0,71.0h0.3v0.3h-0.3zM71.0,39.2h0.3v0.3h-0.3zM82.1,69.5h0.5v0.5h-0.5zM81.7,34.2h0.4v0.4h-0.4zM79.9,68.6h0.5v0.5h-0.5zM58.5,71.8h0.5v0.5h-0.5zM94.8,70.7h0.5v0.5h-0.5zM96.0,49.0h0.5v0.5h-0.5zM58.3,59.8h0.4v0.4h-0.4zM72.6,67.2h0.4v0.4h-0.4zM92.1,43.9h0.5v0.5h-0.5zM101.7,60.8h0.4v0.4h-0.4zM58.6,61.2h0.5v0.5h-0.5zM79.7,66.3h0.6v0.6h-0.6zM79.9,35.1h0.4v0.4h-0.4zM88.8,71.4h0.5v0.5h-0.5zM61.8,75.4h0.4v0.4h-0.4zM97.9,52.3h0.4v0.4h-0.4zM63.9,48.8h0.5v0.5h-0.5zM55.9,66.2h0.6v0.6h-0.6zM100.4,60.0h0.5v0.5h-0.5zM76.6,65.4h0.4v0.4h-0.4zM66.5,73.4h0.3v0.3h-0.3zM101.7,59.4h0.4v0.4h-0.4zM72.5,68.7h0.5v0.5h-0.5zM60.8,73.3h0.6v0.6h-0.6zM72.5,37.0h0.5v0.5h-0.5zM67.7,44.3h0.5v0.5h-0.5zM78.2,34.3h0.5v0.5h-0.5zM62.6,52.2h0.5v0.5h-0.5zM59.2,59.7h0.3v0.3h-0.3zM61.5,75.0h0.6v0.6h-0.6zM101.6,67.5h0.4v0.4h-0.4zM60.9,74.0h0.4v0.4h-0.4zM81.5,70.4h0.3v0.3h-0.3zM79.5,67.1h0.6v0.6h-0.6zM101.2,58.8h0.3v0.3h-0.3zM87.7,70.8h0.5v0.5h-0.5z"/>
<path fill="#ee80ac" d="M145.3,29.4h0.6v0.6h-0.6zM142.0,27.8h0.4v0.4h-0.4zM139.6,27.6h0.4v0.4h-0.4zM153.7,38.1h0.5v0.5h-0.5zM146.0,39.4h0.4v0.4h-0.4zM132.0,45.8h0.6v0.6h-0.6zM154.5,38.9h0.5v0.5h-0.5zM153.3,38.1h0.4v0.4h-0.4zM133.7,46.5h0.4v0.4h-0.4zM150.5,43.0h0.4v0.4h-0.4zM130.7,30.8h0.5v0.5h-0.5zM142.6,40.6h0.5v0.5h-0.5zM132.3,45.4h0.4v0.4h-0.4zM137.0,27.8h0.3v0.3h-0.3zM148.6,31.5h0.5v0.5h-0.5zM145.5,40.2h0.5v0.5h-0.5zM149.7,41.9h0.4v0.4h-0.4zM128.9,34.0h0.4v0.4h-0.4zM140.7,27.6h0.4v0.4h-0.4zM154.3,47.3h0.4v0.4h-0.4zM133.7,29.2h0.4v0.4h-0.4zM138.6,49.7h0.6v0.6h-0.6zM131.3,38.9h0.3v0.3h-0.3zM149.0,31.3h0.3v0.3h-0.3z"/>
<path fill="#d25a64" d="M160.0,65.6h0.3v0.3h-0.3zM166.3,56.4h0.4v0.4h-0.4zM167.2,53.3h0.4v0.4h-0.4zM173.3,61.9h0.5v0.5h-0.5zM181.7,51.9h0.4v0.4h-0.4zM168.7,46.4h0.5v0.5h-0.5zM173.7,60.5h0.5v0.5h-0.5zM158.8,65.4h0.3v0.3h-0.3zM167.1,53.7h0.5v0.5h-0.5zM166.8,51.8h0.3v0.3h-0.3zM180.8,65.9h0.3v0.3h-0.3zM178.8,65.3h0.6v0.6h-0.6zM180.6,50.2h0.5v0.5h-0.5zM172.8,62.1h0.5v0.5h-0.5zM169.7,48.0h0.5v0.5h-0.5zM184.5,62.1h0.3v0.3h-0.3zM161.7,60.3h0.4v0.4h-0.4zM159.1,63.5h0.5v0.5h-0.5zM175.6,63.6h0.4v0.4h-0.4zM162.6,59.5h0.4v0.4h-0.4zM185.3,62.0h0.4v0.4h-0.4zM161.6,62.1h0.5v0.5h-0.5zM173.1,61.4h0.4v0.4h-0.4zM160.2,66.2h0.5v0.5h-0.5zM185.3,64.4h0.4v0.4h-0.4zM181.7,51.2h0.5v0.5h-0.5z"/>
<path fill="#ec3419" d="M139.2,80.7h0.4v0.4h-0.4zM141.1,79.3h0.5v0.5h-0.5zM139.2,93.4h0.4v0.4h-0.4zM142.9,99.5h0.5v0.5h-0.5zM147.1,80.3h0.5v0.5h-0.5zM139.3,105.5h0.4v0.4h-0.4zM151.5,78.6h0.5v0.5h-0.5zM139.2,83.0h0.4v0.4h-0.4zM140.6,104.4h0.4v0.4h-0.4zM139.8,81.5h0.4v0.4h-0.4zM138.1,94.7h0.5v0.5h-0.5zM154.7,103.9h0.5v0.5h-0.5zM154.9,93.9h0.5v0.5h-0.5zM156.3,96.5h0.3v0.3h-0.3zM141.6,99.7h0.3v0.3h-0.3zM139.3,83.2h0.3v0.3h-0.3zM149.6,87.5h0.5v0.5h-0.5zM137.4,84.3h0.5v0.5h-0.5zM142.6,99.2h0.5v0.5h-0.5zM137.0,83.5h0.3v0.3h-0.3zM143.5,79.5h0.5v0.5h-0.5zM146.1,107.3h0.6v0.6h-0.6zM149.0,106.7h0.5v0.5h-0.5zM156.4,102.4h0.4v0.4h-0.4zM142.6,109.0h0.5v0.5h-0.5zM140.8,103.6h0.4v0.4h-0.4zM156.7,95.4h0.4v0.4h-0.4zM148.8,80.3h0.3v0.3h-0.3zM150.2,86.1h0.3v0.3h-0.3zM132.7,87.1h0.3v0.3h-0.3zM139.5,104.7h0.3v0.3h-0.3zM150.0,80.7h0.4v0.4h-0.4zM123.6,103.8h0.4v0.4h-0.4zM124.9,113.8h0.6v0.6h-0.6zM137.0,111.5h0.3v0.3h-0.3zM125.2,100.2h0.6v0.6h-0.6zM124.0,115.5h0.5v0.5h-0.5zM135.6,110.6h0.5v0.5h-0.5zM123.1,111.0h0.5v0.5h-0.5zM131.1,118.1h0.3v0.3h-0.3zM133.4,98.8h0.3v0.3h-0.3zM136.4,106.9h0.5v0.5h-0.5zM126.2,97.5h0.5v0.5h-0.5zM122.6,102.7h0.5v0.5h-0.5zM134.2,100.9h0.3v0.3h-0.3zM134.8,100.3h0.4v0.4h-0.4zM134.5,100.4h0.5v0.5h-0.5zM125.8,116.9h0.5v0.5h-0.5zM135.3,103.7h0.4v0.4h-0.4z"/>
<path fill="#ac64b4" d="M127.9,129.2h0.3v0.3h-0.3zM128.1,131.6h0.3v0.3h-0.3zM124.5,117.6h0.6v0.6h-0.6zM126.8,129.5h0.4v0.4h-0.4zM126.9,141.2h0.5v0.5h-0.5zM129.7,137.8h0.4v0.4h-0.4zM128.2,128.2h0.6v0.6h-0.6zM120.3,139.9h0.3v0.3h-0.3zM117.8,127.4h0.6v0.6h-0.6zM130.9,126.0h0.6v0.6h-0.6zM119.9,119.1h0.4v0.4h-0.4zM128.1,129.1h0.5v0.5h-0.5zM116.4,130.6h0.5v0.5h-0.5zM130.8,136.4h0.5v0.5h-0.5zM115.6,135.1h0.3v0.3h-0.3zM127.3,130.7h0.3v0.3h-0.3zM127.4,142.1h0.4v0.4h-0.4zM125.5,142.5h0.5v0.5h-0.5zM113.4,130.5h0.5v0.5h-0.5zM130.0,122.4h0.3v0.3h-0.3z"/>
<path fill="#0e9a48" d="M137.3,137.3h0.5v0.5h-0.5zM137.0,137.4h0.6v0.6h-0.6zM143.0,135.4h0.4v0.4h-0.4zM153.2,136.4h0.3v0.3h-0.3zM158.5,146.2h0.4v0.4h-0.4zM160.7,139.3h0.4v0.4h-0.4zM136.2,149.7h0.4v0.4h-0.4zM135.3,138.0h0.4v0.4h-0.4zM151.4,148.2h0.6v0.6h-0.6zM130.6,145.9h0.3v0.3h-0.3zM136.9,137.2h0.4v0.4h-0.4zM143.1,134.0h0.5v0.5h-0.5zM145.6,151.0h0.5v0.5h-0.5zM139.2,135.8h0.5v0.5h-0.5zM153.5,136.8h0.5v0.5h-0.5zM150.6,149.1h0.3v0.3h-0.3zM134.9,139.6h0.4v0.4h-0.4zM135.4,147.7h0.4v0.4h-0.4zM131.6,146.6h0.3v0.3h-0.3zM141.7,134.9h0.4v0.4h-0.4zM146.8,151.0h0.3v0.3h-0.3zM158.2,146.1h0.4v0.4h-0.4zM159.7,139.9h0.3v0.3h-0.3zM161.1,142.3h0.5v0.5h-0.5zM131.9,143.2h0.3v0.3h-0.3zM136.2,137.0h0.5v0.5h-0.5z"/>
<path fill="#c6bc0a" d="M105.7,142.6h0.3v0.3h-0.3zM113.8,154.7h0.3v0.3h-0.3zM107.6,157.5h0.5v0.5h-0.5zM98.1,154.2h0.4v0.4h-0.4zM100.9,147.9h0.4v0.4h-0.4zM116.3,145.5h0.5v0.5h-0.5zM115.1,144.4h0.3v0.3h-0.3zM116.1,153.8h0.4v0.4h-0.4zM124.1,150.6h0.5v0.5h-0.5zM111.6,141.4h0.5v0.5h-0.5zM107.2,143.7h0.3v0.3h-0.3zM111.1,141.4h0.6v0.6h-0.6zM125.1,148.0h0.4v0.4h-0.4zM103.1,157.7h0.3v0.3h-0.3zM118.0,151.2h0.5v0.5h-0.5zM120.9,151.9h0.4v0.4h-0.4zM119.8,147.0h0.5v0.5h-0.5zM107.2,157.2h0.5v0.5h-0.5zM118.7,152.6h0.4v0.4h-0.4z"/>
<path fill="#f27a10" d="M51.9,96.3h0.6v0.6h-0.6zM44.0,113.6h0.4v0.4h-0.4zM53.2,96.5h0.5v0.5h-0.5zM65.4,119.6h0.5v0.5h-0.5zM44.7,109.0h0.4v0.4h-0.4zM43.0,110.8h0.4v0.4h-0.4zM40.8,117.0h0.5v0.5h-0.5zM59.2,107.3h0.4v0.4h-0.4zM54.7,127.2h0.4v0.4h-0.4zM47.0,104.7h0.6v0.6h-0.6zM56.2,94.9h0.6v0.6h-0.6zM60.0,107.6h0.3v0.3h-0.3zM52.8,127.6h0.3v0.3h-0.3zM63.7,114.8h0.5v0.5h-0.5zM65.5,116.3h0.3v0.3h-0.3zM49.7,125.8h0.3v0.3h-0.3zM58.2,96.6h0.4v0.4h-0.4zM58.8,101.9h0.3v0.3h-0.3zM58.0,98.5h0.6v0.6h-0.6zM41.8,115.8h0.4v0.4h-0.4zM45.1,122.0h0.5v0.5h-0.5zM62.4,113.0h0.6v0.6h-0.6zM63.8,115.4h0.4v0.4h-0.4zM58.3,104.2h0.4v0.4h-0.4zM48.1,103.1h0.6v0.6h-0.6zM45.6,123.4h0.5v0.5h-0.5zM44.2,109.1h0.6v0.6h-0.6zM48.5,101.3h0.4v0.4h-0.4zM44.1,108.7h0.5v0.5h-0.5zM42.9,121.5h0.5v0.5h-0.5zM42.4,111.2h0.5v0.5h-0.5zM64.8,115.7h0.5v0.5h-0.5zM44.1,112.1h0.3v0.3h-0.3zM42.9,117.5h0.6v0.6h-0.6zM64.6,118.1h0.5v0.5h-0.5z"/>
<path fill="#14a0b4" d="M57.6,122.4h0.4v0.4h-0.4zM81.9,125.3h0.6v0.6h-0.6zM71.1,119.0h0.4v0.4h-0.4zM56.2,121.7h0.5v0.5h-0.5zM58.2,128.3h0.3v0.3h-0.3zM69.8,119.7h0.5v0.5h-0.5zM64.3,117.9h0.4v0.4h-0.4zM77.0,129.5h0.4v0.4h-0.4zM64.1,118.5h0.4v0.4h-0.4zM67.6,118.3h0.5v0.5h-0.5zM65.8,130.6h0.4v0.4h-0.4zM69.4,129.1h0.4v0.4h-0.4zM61.2,130.2h0.6v0.6h-0.6zM66.7,128.8h0.3v0.3h-0.3zM54.6,126.6h0.5v0.5h-0.5zM54.3,124.3h0.3v0.3h-0.3z"/>
<path fill="#48a8d4" d="M86.8,101.9h0.5v0.5h-0.5zM90.7,96.9h0.3v0.3h-0.3zM94.2,99.1h0.3v0.3h-0.3zM92.0,103.5h0.5v0.5h-0.5zM89.2,105.4h0.5v0.5h-0.5zM90.6,104.2h0.6v0.6h-0.6zM92.5,106.5h0.5v0.5h-0.5z"/>
<path fill="#f8b678" d="M104.0,136.5h0.6v0.6h-0.6zM105.9,135.6h0.3v0.3h-0.3zM109.8,137.1h0.5v0.5h-0.5zM104.0,139.4h0.3v0.3h-0.3z"/>
</g>
<text x="79.5" y="61.5" font-size="4.6" font-weight="bold" text-anchor="middle" fill="#0a2a55" fill-opacity="0.85">MPC_1</text>
<text x="142.7" y="36" font-size="4.6" font-weight="bold" text-anchor="middle" fill="#6a1030" fill-opacity="0.85">MPC_4</text>
<text x="174.7" y="56" font-size="4.6" font-weight="bold" text-anchor="middle" fill="#5a1018" fill-opacity="0.85">MPC_6</text>
<text x="137.7" y="102" font-size="4.6" font-weight="bold" text-anchor="middle" fill="#222" fill-opacity="0.85">MPC_7</text>
<text x="122.7" y="128" font-size="4.6" font-weight="bold" text-anchor="middle" fill="#3a1040" fill-opacity="0.85">MPC_8</text>
<text x="146" y="143.5" font-size="4.6" font-weight="bold" text-anchor="middle" fill="#043018" fill-opacity="0.85">MPC_3</text>
<text x="104.5" y="154.5" font-size="4.6" font-weight="bold" text-anchor="middle" fill="#303000" fill-opacity="0.85">MPC_5</text>
<text x="49" y="119" font-size="4.6" font-weight="bold" text-anchor="middle" fill="#4a2000" fill-opacity="0.85">MPC_2</text>
<text x="63" y="130.2" font-size="4.6" font-weight="bold" text-anchor="middle" fill="#203038" fill-opacity="0.85">MPC_11</text>
<text x="92.6" y="99.7" font-size="4.6" font-weight="bold" text-anchor="middle" fill="#222" fill-opacity="0.85">MPC_9</text>
<text x="106.5" y="135.4" font-size="4.6" font-weight="bold" text-anchor="middle" fill="#222" fill-opacity="0.85">MPC_10</text>
<path d="M36.25,198.7 V347.6 H192" fill="none" stroke="#111" stroke-width="1.1"/>
<line x1="33.05" y1="206.1" x2="36.25" y2="206.1" stroke="#222" stroke-width="0.8"/>
<text x="30.50" y="209.00" font-size="6.8" text-anchor="end" fill="#333" >10</text>
<line x1="33.05" y1="237.6" x2="36.25" y2="237.6" stroke="#222" stroke-width="0.8"/>
<text x="30.50" y="240.50" font-size="6.8" text-anchor="end" fill="#333" >5</text>
<line x1="33.05" y1="269.4" x2="36.25" y2="269.4" stroke="#222" stroke-width="0.8"/>
<text x="30.50" y="272.30" font-size="6.8" text-anchor="end" fill="#333" >0</text>
<line x1="33.05" y1="301.2" x2="36.25" y2="301.2" stroke="#222" stroke-width="0.8"/>
<text x="30.50" y="304.10" font-size="6.8" text-anchor="end" fill="#333" >−5</text>
<line x1="33.05" y1="333.2" x2="36.25" y2="333.2" stroke="#222" stroke-width="0.8"/>
<text x="30.50" y="336.10" font-size="6.8" text-anchor="end" fill="#333" >−10</text>
<line x1="45.7" y1="347.6" x2="45.7" y2="350.6" stroke="#222" stroke-width="0.8"/>
<text x="45.70" y="359.60" font-size="6.8" text-anchor="middle" fill="#333" >10</text>
<line x1="76.4" y1="347.6" x2="76.4" y2="350.6" stroke="#222" stroke-width="0.8"/>
<text x="76.40" y="359.60" font-size="6.8" text-anchor="middle" fill="#333" >5</text>
<line x1="106.5" y1="347.6" x2="106.5" y2="350.6" stroke="#222" stroke-width="0.8"/>
<text x="106.50" y="359.60" font-size="6.8" text-anchor="middle" fill="#333" >0</text>
<line x1="136.9" y1="347.6" x2="136.9" y2="350.6" stroke="#222" stroke-width="0.8"/>
<text x="136.90" y="359.60" font-size="6.8" text-anchor="middle" fill="#333" >5</text>
<line x1="167.3" y1="347.6" x2="167.3" y2="350.6" stroke="#222" stroke-width="0.8"/>
<text x="167.30" y="359.60" font-size="6.8" text-anchor="middle" fill="#333" >10</text>
<text x="0" y="0" font-size="8.4" font-weight="bold" fill="#333" text-anchor="middle" transform="translate(114,369.8) scale(0.64,1)">UMAP 1</text>
<text x="0" y="0" font-size="8.4" font-weight="bold" fill="#333" text-anchor="middle" transform="translate(14.1,271.9) rotate(-90) scale(0.68,1)">UMAP 2</text>
<g transform="translate(0,174.85) scale(1,1.0635)">
<path d="M133.5,93.2 C134.3,92.8 135.9,93.8 137.0,93.8 C138.1,93.8 139.0,92.9 140.0,93.0 C141.0,93.1 142.5,93.6 143.1,94.5 C143.7,95.4 143.8,97.1 143.8,98.3 C143.8,99.5 143.6,100.5 143.1,101.4 C142.6,102.3 141.1,102.8 140.8,103.7 C140.5,104.6 142.0,106.1 141.5,106.8 C141.0,107.5 139.1,107.7 138.0,107.8 C136.9,107.9 135.5,108.1 134.8,107.2 C134.1,106.3 134.1,103.6 133.8,102.2 C133.5,100.8 133.4,100.1 133.1,99.1 C132.8,98.1 131.9,97.0 132.0,96.0 C132.1,95.0 132.7,93.6 133.5,93.2 Z" fill="#ee80ac" fill-opacity="0.42"/>
<path d="M71.5,69.8 C70.9,68.8 71.8,65.5 72.5,64.5 C73.2,63.5 74.7,63.5 76.0,63.5 C77.3,63.5 79.6,63.5 80.5,64.5 C81.4,65.5 82.2,68.2 81.5,69.2 C80.8,70.2 77.7,70.1 76.0,70.2 C74.3,70.3 72.1,70.8 71.5,69.8 Z" fill="#b05cb4" fill-opacity="0.4"/>
<path d="M83.0,127.0 C83.3,126.6 85.2,126.2 86.0,126.5 C86.8,126.8 87.2,127.9 88.0,129.0 C88.8,130.1 89.8,131.8 90.5,133.0 C91.2,134.2 92.4,135.8 92.5,136.5 C92.6,137.2 91.7,137.9 91.0,137.5 C90.3,137.1 89.3,135.2 88.5,134.0 C87.7,132.8 86.8,131.3 86.0,130.5 C85.2,129.7 84.5,129.6 84.0,129.0 C83.5,128.4 82.7,127.4 83.0,127.0 Z" fill="#0e9a48" fill-opacity="0.55"/>
<path d="M69.0,71.5 C69.9,70.8 70.9,70.7 71.5,69.5 C72.1,68.3 71.8,65.5 72.5,64.5 C73.2,63.5 74.7,63.5 76.0,63.5 C77.3,63.5 79.6,63.6 80.5,64.5 C81.4,65.4 80.2,68.2 81.5,69.0 C82.8,69.8 85.8,69.2 88.0,69.5 C90.2,69.8 93.3,70.2 95.0,70.5 C96.7,70.8 97.3,71.3 98.0,71.0 C98.7,70.7 98.5,69.5 99.0,68.5 C99.5,67.5 100.2,65.9 101.0,65.0 C101.8,64.1 103.8,63.6 104.0,63.0 C104.2,62.4 102.8,62.2 102.0,61.5 C101.2,60.8 99.7,59.9 99.0,59.0 C98.3,58.1 98.7,57.5 98.0,56.0 C97.3,54.5 96.3,52.4 95.0,50.0 C93.7,47.6 91.9,43.9 90.4,41.8 C88.9,39.7 87.4,38.3 85.8,37.2 C84.2,36.1 82.3,35.4 80.6,35.3 C78.9,35.2 77.0,36.2 75.5,36.8 C74.0,37.4 73.2,37.8 71.9,39.0 C70.7,40.2 69.0,42.6 68.0,44.0 C67.0,45.4 66.8,46.6 66.1,47.6 C65.4,48.6 64.6,48.6 64.0,50.0 C63.4,51.4 63.2,54.2 62.5,56.0 C61.8,57.8 60.2,59.7 59.5,61.0 C58.8,62.3 58.3,62.8 58.0,64.0 C57.7,65.2 57.3,66.8 57.5,68.0 C57.7,69.2 58.2,70.5 59.0,71.5 C59.8,72.5 60.8,73.7 62.0,74.0 C63.2,74.3 64.8,73.9 66.0,73.5 C67.2,73.1 68.1,72.2 69.0,71.5 Z" fill="#b05cb4" />
<path d="M129.6,33.2 C129.9,32.7 131.1,32.0 131.9,31.5 C132.7,31.0 133.8,30.6 134.5,30.2 C135.2,29.8 134.3,29.4 135.8,29.2 C137.3,29.0 142.0,28.9 143.6,29.2 C145.2,29.5 144.7,30.6 145.6,31.2 C146.5,31.8 148.0,32.2 148.9,32.8 C149.8,33.4 150.3,33.9 150.8,34.8 C151.3,35.7 151.4,36.9 152.1,38.1 C152.8,39.3 154.2,40.7 154.8,42.0 C155.5,43.3 156.0,45.2 156.0,46.0 C156.0,46.8 155.5,47.1 154.8,46.6 C154.2,46.1 153.1,44.6 152.1,43.3 C151.1,42.0 150.0,39.6 148.9,38.7 C147.8,37.8 146.7,37.9 145.6,38.1 C144.5,38.3 143.2,39.0 142.3,40.0 C141.4,41.0 140.9,42.7 140.4,44.0 C139.9,45.3 139.7,46.9 139.1,47.9 C138.5,48.9 137.8,49.7 137.1,49.8 C136.4,49.9 135.8,49.4 135.2,48.5 C134.6,47.6 133.9,46.1 133.5,44.6 C133.1,43.1 132.8,40.9 132.5,39.4 C132.2,37.9 132.3,36.3 131.9,35.5 C131.5,34.7 130.3,34.9 129.9,34.5 C129.5,34.1 129.3,33.7 129.6,33.2 Z" fill="#c6bc0a" />
<path d="M168.4,48.6 C169.1,48.0 170.0,47.6 171.3,47.5 C172.7,47.4 175.1,47.4 176.5,47.8 C177.9,48.2 179.0,49.0 179.9,49.8 C180.8,50.6 181.4,52.0 182.2,52.7 C183.0,53.4 184.2,53.1 184.5,53.8 C184.8,54.5 184.0,55.6 184.0,56.7 C184.0,57.9 184.5,59.4 184.5,60.7 C184.5,62.1 184.6,64.0 184.0,64.8 C183.4,65.6 182.2,65.4 181.1,65.4 C180.0,65.4 178.5,65.5 177.6,64.8 C176.7,64.1 176.6,62.1 175.9,61.3 C175.2,60.5 174.5,60.3 173.6,60.2 C172.7,60.1 171.4,60.3 170.7,60.7 C170.0,61.1 170.0,61.8 169.5,62.5 C169.0,63.2 168.6,64.0 167.8,64.8 C167.0,65.6 165.8,66.6 164.9,67.1 C164.0,67.6 163.3,68.1 162.6,67.7 C161.9,67.3 160.8,65.7 160.6,64.8 C160.4,63.9 160.9,63.3 161.5,62.5 C162.1,61.7 163.4,61.0 164.3,60.2 C165.2,59.4 166.2,58.8 166.7,57.8 C167.2,56.8 167.1,55.5 167.2,54.4 C167.3,53.2 167.0,51.9 167.2,50.9 C167.4,49.9 167.7,49.2 168.4,48.6 Z" fill="#c6bc0a" />
<path d="M140.8,79.8 C141.4,79.2 142.3,79.4 143.1,79.5 C143.9,79.6 144.5,80.1 145.4,80.6 C146.3,81.0 147.5,82.3 148.5,82.2 C149.5,82.1 150.9,80.4 151.5,80.2 C152.1,80.0 152.6,80.3 152.3,81.0 C152.1,81.7 150.5,83.3 150.0,84.5 C149.5,85.7 148.8,87.1 149.2,88.3 C149.6,89.5 151.4,90.5 152.3,91.4 C153.2,92.3 154.0,92.7 154.6,93.7 C155.2,94.7 155.8,96.1 155.8,97.5 C155.8,98.9 155.2,100.9 154.6,102.2 C154.0,103.5 153.3,104.4 152.3,105.2 C151.3,106.0 149.8,106.4 148.5,106.8 C147.2,107.2 145.8,107.5 144.6,107.5 C143.4,107.5 142.1,107.4 141.5,106.8 C140.9,106.2 140.5,104.6 140.8,103.7 C141.1,102.8 142.6,102.3 143.1,101.4 C143.6,100.5 143.8,99.5 143.8,98.3 C143.8,97.1 143.7,95.4 143.1,94.5 C142.5,93.6 141.0,93.0 140.0,92.9 C139.0,92.8 137.7,93.7 136.9,93.7 C136.1,93.7 135.6,93.4 135.0,92.9 C134.4,92.4 133.4,91.5 133.1,90.6 C132.8,89.7 132.7,88.3 133.1,87.5 C133.5,86.7 134.5,86.4 135.4,86.0 C136.3,85.6 137.8,85.7 138.5,85.2 C139.2,84.7 139.2,83.8 139.6,82.9 C140.0,82.0 140.2,80.4 140.8,79.8 Z" fill="#ee80ac" />
<path d="M127.7,98.3 C128.5,98.0 129.9,97.4 130.8,97.5 C131.7,97.6 132.6,98.3 133.1,99.1 C133.6,99.9 133.6,100.9 133.8,102.2 C134.1,103.5 134.3,105.5 134.6,106.8 C134.9,108.1 135.4,108.8 135.4,109.8 C135.4,110.8 135.1,111.9 134.6,112.9 C134.1,113.9 133.2,115.2 132.3,116.0 C131.4,116.8 130.2,117.5 129.2,117.5 C128.2,117.5 127.0,117.0 126.2,116.0 C125.4,115.0 124.9,112.9 124.6,111.4 C124.3,109.9 124.2,108.3 124.2,106.8 C124.2,105.3 124.3,103.5 124.6,102.2 C124.9,100.9 125.7,99.8 126.2,99.1 C126.7,98.4 126.9,98.6 127.7,98.3 Z" fill="#ee80ac" />
<path d="M125.5,100 C124,103 123.8,107 124.6,110.5 L125.8,110 C125.2,106.5 125.4,103 126.8,100.5 Z" fill="#c6bc0a"/>
<path d="M122.4,118.7 C123.4,118.2 124.4,117.9 125.3,118.1 C126.2,118.3 126.9,119.0 127.6,119.8 C128.3,120.6 129.0,121.6 129.4,122.7 C129.8,123.8 130.1,125.4 129.9,126.2 C129.7,127.0 128.8,126.8 128.2,127.3 C127.6,127.8 126.7,128.2 126.5,129.0 C126.3,129.8 126.5,131.1 127.0,132.0 C127.5,132.9 128.9,133.3 129.4,134.2 C129.9,135.0 130.1,136.1 129.9,137.1 C129.7,138.1 129.0,139.3 128.2,140.0 C127.4,140.7 126.3,141.2 125.3,141.2 C124.3,141.2 123.2,140.7 122.4,140.0 C121.6,139.3 121.3,138.1 120.7,137.1 C120.1,136.1 120.0,134.7 119.0,134.2 C118.0,133.7 115.9,134.5 114.9,134.2 C113.9,133.9 113.3,133.0 113.2,132.5 C113.1,132.0 113.5,131.7 114.3,131.4 C115.1,131.1 117.0,131.5 117.8,130.8 C118.6,130.1 118.9,128.6 119.0,127.3 C119.1,126.0 118.3,124.3 118.4,123.3 C118.5,122.2 118.8,121.8 119.5,121.0 C120.2,120.2 121.4,119.2 122.4,118.7 Z" fill="#0e9a48" />
<ellipse cx="124.3" cy="133" rx="4.6" ry="6.2" fill="#0c68b8"/>
<path d="M116,131.8 L123,129.5 L123.5,130.6 L116.5,132.8 Z" fill="#f27a10"/>
<path d="M117,119 L122,117.6 L122.5,119.2 L117.5,120.2 Z" fill="#f27a10"/>
<path d="M130.6,145.6 C130.7,144.9 132.4,143.9 133.2,143.0 C134.0,142.1 134.4,141.4 135.2,140.4 C136.0,139.4 136.8,137.9 137.8,137.2 C138.8,136.5 139.9,136.4 141.1,136.2 C142.3,136.0 144.1,136.1 145.0,135.8 C145.9,135.5 145.9,134.2 146.3,134.2 C146.7,134.2 146.7,135.3 147.6,135.8 C148.5,136.3 150.2,137.0 151.5,137.2 C152.8,137.4 154.3,136.9 155.5,137.2 C156.7,137.5 158.0,138.1 158.7,138.8 C159.4,139.6 159.7,140.7 159.7,141.7 C159.7,142.7 159.4,144.2 158.7,145.0 C158.0,145.8 156.7,146.2 155.5,146.6 C154.3,147.0 152.8,147.2 151.5,147.6 C150.2,148.0 148.9,148.5 147.6,148.9 C146.3,149.3 145.0,149.9 143.7,149.9 C142.4,149.9 141.1,149.3 139.8,148.9 C138.5,148.5 137.0,147.9 135.8,147.6 C134.6,147.3 133.5,147.3 132.6,147.0 C131.7,146.7 130.5,146.3 130.6,145.6 Z" fill="#0e9a48" />
<path d="M140,147.8 C145,149.8 150,148.5 154,146.8 L152,148.2 C147,150 143,150 140,148.8 Z" fill="#0c68b8"/>
<path d="M98.2,152.8 C98.4,151.9 99.4,150.5 100.2,149.3 C101.0,148.2 102.0,146.7 103.0,145.9 C104.0,145.1 105.3,144.8 106.5,144.5 C107.7,144.2 109.0,144.3 109.9,143.8 C110.8,143.3 111.4,142.3 112.0,141.7 C112.6,141.1 113.2,140.1 113.7,140.3 C114.2,140.5 114.5,141.9 114.8,143.1 C115.1,144.2 114.7,146.4 115.5,147.2 C116.3,148.0 118.3,147.9 119.6,147.9 C120.9,147.9 122.0,147.1 123.1,146.9 C124.1,146.7 125.9,146.5 125.9,146.9 C125.9,147.3 124.3,148.7 123.1,149.3 C121.9,149.9 120.3,150.1 118.9,150.7 C117.5,151.3 116.1,152.0 114.8,152.8 C113.5,153.6 112.7,154.9 111.3,155.5 C109.9,156.1 108.0,156.2 106.5,156.2 C105.0,156.2 103.6,155.7 102.3,155.5 C101.0,155.3 99.5,155.3 98.8,154.9 C98.1,154.5 98.0,153.7 98.2,152.8 Z" fill="#0e9a48" />
<path d="M55.0,95.5 C56.0,95.4 56.8,96.4 57.3,97.2 C57.8,98.0 57.9,99.0 57.9,100.1 C57.9,101.1 57.3,102.2 57.3,103.5 C57.3,104.8 57.5,106.3 57.9,107.6 C58.3,108.8 58.8,109.8 59.6,111.0 C60.4,112.2 61.7,113.4 62.5,114.5 C63.3,115.6 63.8,116.5 64.2,117.4 C64.6,118.3 65.2,118.9 64.8,119.7 C64.4,120.5 63.1,121.2 61.9,122.0 C60.6,122.8 58.8,123.6 57.3,124.3 C55.8,125.0 54.1,125.8 52.7,126.0 C51.3,126.2 49.9,126.1 48.7,125.5 C47.6,124.9 46.7,123.7 45.8,122.6 C44.9,121.5 44.0,120.1 43.5,119.1 C43.0,118.1 42.7,117.5 42.9,116.8 C43.1,116.1 44.3,116.1 44.6,115.1 C44.9,114.1 44.3,112.2 44.6,111.0 C44.9,109.8 45.7,109.2 46.3,108.2 C46.9,107.2 47.6,105.9 48.1,104.7 C48.6,103.5 48.6,102.4 49.2,101.2 C49.8,100.0 50.5,98.8 51.5,97.8 C52.5,96.8 54.0,95.6 55.0,95.5 Z" fill="#ec3419" />
<path d="M55.0,124.5 C55.5,123.5 58.2,122.6 59.8,121.6 C61.4,120.6 63.0,119.0 64.6,118.7 C66.2,118.4 67.8,119.1 69.4,119.7 C71.0,120.3 72.6,121.8 74.2,122.6 C75.8,123.4 77.6,123.9 79.0,124.5 C80.4,125.1 82.2,125.8 82.8,126.4 C83.4,127.0 83.6,127.7 82.8,127.9 C82.0,128.1 79.6,127.5 78.0,127.4 C76.4,127.3 74.8,127.3 73.2,127.4 C71.6,127.5 69.7,127.6 68.4,127.9 C67.1,128.2 66.8,129.2 65.5,129.3 C64.2,129.5 62.1,129.1 60.7,128.8 C59.3,128.5 57.9,128.1 56.9,127.4 C55.9,126.7 54.5,125.5 55.0,124.5 Z" fill="#ec3419" />
<path d="M87.0,99.0 C87.3,98.3 89.0,98.2 90.0,98.3 C91.0,98.3 93.0,98.8 93.3,99.3 C93.6,99.8 92.5,100.8 92.0,101.5 C91.5,102.2 91.2,103.0 90.5,103.2 C89.8,103.4 88.6,103.2 88.0,102.5 C87.4,101.8 86.7,99.7 87.0,99.0 Z" fill="#a870b8" />
<path d="M87.7,106.0 C88.0,105.6 89.4,105.2 90.0,105.3 C90.6,105.4 91.3,106.0 91.2,106.5 C91.1,107.0 90.0,107.8 89.5,108.0 C89.0,108.2 88.2,107.9 87.9,107.6 C87.6,107.3 87.4,106.4 87.7,106.0 Z" fill="#b84c5a" />
<path d="M104.0,136.5 C104.2,135.8 106.1,135.6 107.0,135.6 C107.9,135.6 109.2,135.9 109.4,136.5 C109.7,137.1 109.2,138.4 108.5,139.0 C107.8,139.6 106.2,140.2 105.5,139.8 C104.8,139.4 103.8,137.2 104.0,136.5 Z" fill="#0e9a48" />
<path d="M84.5,127.5 L87.5,130.5 L90.3,134.5 L92.8,138.0 L96.3,140.8 L101.0,144.7" fill="none" stroke="#0e9a48" stroke-width="1.1" stroke-linecap="round" stroke-dasharray="2.2 0.8"/>
<path fill="#fff" fill-opacity="0.6" d="M63.2,63.1h0.5v0.5h-0.5zM79.7,42.0h0.6v0.6h-0.6zM96.9,55.2h0.5v0.5h-0.5zM74.0,58.5h0.3v0.3h-0.3zM71.8,54.5h0.3v0.3h-0.3zM62.6,68.8h0.3v0.3h-0.3zM83.5,47.6h0.5v0.5h-0.5zM94.1,66.4h0.5v0.5h-0.5zM65.1,73.6h0.6v0.6h-0.6zM76.0,48.6h0.5v0.5h-0.5zM59.4,64.4h0.6v0.6h-0.6zM80.5,54.3h0.5v0.5h-0.5zM86.5,57.2h0.5v0.5h-0.5zM72.7,59.0h0.4v0.4h-0.4zM97.2,67.0h0.4v0.4h-0.4zM90.4,62.5h0.6v0.6h-0.6zM80.3,49.1h0.4v0.4h-0.4zM58.1,68.3h0.6v0.6h-0.6zM69.7,51.1h0.4v0.4h-0.4zM93.7,53.7h0.4v0.4h-0.4zM65.6,69.8h0.6v0.6h-0.6zM82.6,44.6h0.6v0.6h-0.6zM85.7,61.1h0.6v0.6h-0.6zM85.2,43.8h0.4v0.4h-0.4zM78.0,38.6h0.6v0.6h-0.6zM82.8,46.8h0.5v0.5h-0.5zM57.8,66.4h0.4v0.4h-0.4zM74.9,46.1h0.6v0.6h-0.6zM70.0,54.8h0.5v0.5h-0.5zM86.1,55.0h0.6v0.6h-0.6zM91.2,55.8h0.5v0.5h-0.5zM57.8,68.7h0.6v0.6h-0.6zM73.1,46.5h0.6v0.6h-0.6zM58.3,68.7h0.6v0.6h-0.6zM78.0,60.1h0.3v0.3h-0.3zM88.3,52.1h0.5v0.5h-0.5zM74.9,50.2h0.4v0.4h-0.4zM67.5,63.8h0.6v0.6h-0.6zM92.5,52.7h0.4v0.4h-0.4zM74.7,54.1h0.5v0.5h-0.5zM79.7,54.3h0.6v0.6h-0.6zM94.3,62.2h0.6v0.6h-0.6zM91.2,62.8h0.4v0.4h-0.4zM86.8,69.2h0.6v0.6h-0.6zM70.9,46.2h0.4v0.4h-0.4zM62.1,57.0h0.3v0.3h-0.3zM93.5,53.0h0.3v0.3h-0.3zM72.1,61.0h0.5v0.5h-0.5zM71.4,43.7h0.6v0.6h-0.6zM62.6,62.7h0.4v0.4h-0.4zM85.9,44.7h0.4v0.4h-0.4zM77.4,59.9h0.4v0.4h-0.4zM83.1,36.5h0.4v0.4h-0.4zM73.9,38.3h0.6v0.6h-0.6zM97.7,56.0h0.3v0.3h-0.3zM64.3,50.3h0.5v0.5h-0.5zM66.3,68.2h0.6v0.6h-0.6zM87.1,53.4h0.6v0.6h-0.6zM72.2,44.4h0.4v0.4h-0.4zM70.1,60.3h0.6v0.6h-0.6zM81.4,62.6h0.4v0.4h-0.4zM90.2,61.5h0.4v0.4h-0.4zM75.9,63.2h0.6v0.6h-0.6zM73.0,56.1h0.5v0.5h-0.5zM63.6,64.0h0.5v0.5h-0.5zM63.0,70.3h0.6v0.6h-0.6zM102.1,62.7h0.4v0.4h-0.4zM86.7,59.4h0.6v0.6h-0.6zM83.6,67.0h0.6v0.6h-0.6zM63.9,56.4h0.6v0.6h-0.6zM73.5,38.2h0.3v0.3h-0.3zM76.7,58.2h0.3v0.3h-0.3zM89.4,41.7h0.3v0.3h-0.3zM76.8,60.9h0.6v0.6h-0.6zM93.9,61.4h0.4v0.4h-0.4zM77.1,49.2h0.5v0.5h-0.5zM68.4,56.3h0.5v0.5h-0.5zM96.6,65.2h0.6v0.6h-0.6zM89.4,58.3h0.5v0.5h-0.5zM66.4,65.1h0.6v0.6h-0.6zM74.9,60.4h0.5v0.5h-0.5zM74.2,43.5h0.6v0.6h-0.6zM64.9,70.2h0.6v0.6h-0.6zM68.4,62.8h0.4v0.4h-0.4zM80.6,64.2h0.4v0.4h-0.4zM90.5,47.3h0.5v0.5h-0.5zM73.8,40.9h0.3v0.3h-0.3zM61.0,71.7h0.5v0.5h-0.5zM85.7,52.1h0.5v0.5h-0.5zM87.9,60.7h0.4v0.4h-0.4zM78.5,55.3h0.4v0.4h-0.4zM88.3,52.6h0.4v0.4h-0.4zM85.3,58.4h0.3v0.3h-0.3zM80.2,39.7h0.6v0.6h-0.6zM71.7,47.0h0.4v0.4h-0.4zM62.5,60.2h0.6v0.6h-0.6zM82.6,37.5h0.4v0.4h-0.4zM91.2,56.4h0.3v0.3h-0.3zM67.2,59.1h0.3v0.3h-0.3zM65.2,58.1h0.6v0.6h-0.6zM81.8,62.0h0.3v0.3h-0.3zM70.4,46.5h0.6v0.6h-0.6zM95.0,58.2h0.4v0.4h-0.4zM92.3,56.0h0.4v0.4h-0.4zM72.4,62.0h0.5v0.5h-0.5zM96.1,66.0h0.4v0.4h-0.4zM89.3,52.1h0.4v0.4h-0.4zM76.8,63.2h0.5v0.5h-0.5zM79.4,57.2h0.4v0.4h-0.4zM64.9,54.4h0.4v0.4h-0.4zM71.8,40.6h0.6v0.6h-0.6zM76.8,41.3h0.3v0.3h-0.3zM65.7,71.1h0.4v0.4h-0.4zM89.5,42.6h0.5v0.5h-0.5zM74.2,44.8h0.5v0.5h-0.5zM98.2,63.2h0.5v0.5h-0.5zM90.2,66.8h0.5v0.5h-0.5zM71.7,49.3h0.6v0.6h-0.6zM68.8,44.2h0.6v0.6h-0.6zM86.7,65.6h0.6v0.6h-0.6zM80.7,63.7h0.5v0.5h-0.5zM77.1,62.0h0.4v0.4h-0.4zM70.0,52.2h0.5v0.5h-0.5zM76.2,49.8h0.6v0.6h-0.6zM91.3,69.6h0.6v0.6h-0.6zM68.0,60.2h0.4v0.4h-0.4zM73.0,60.6h0.6v0.6h-0.6zM69.1,67.3h0.3v0.3h-0.3zM72.4,39.8h0.4v0.4h-0.4zM84.6,57.1h0.6v0.6h-0.6zM99.0,60.1h0.4v0.4h-0.4zM96.1,70.5h0.6v0.6h-0.6zM70.5,51.7h0.6v0.6h-0.6zM78.7,63.3h0.6v0.6h-0.6zM64.3,59.8h0.6v0.6h-0.6zM58.9,64.2h0.5v0.5h-0.5zM83.3,37.7h0.6v0.6h-0.6zM77.6,58.0h0.4v0.4h-0.4zM86.3,50.1h0.5v0.5h-0.5zM70.2,66.4h0.4v0.4h-0.4zM68.2,48.1h0.5v0.5h-0.5zM67.1,47.6h0.4v0.4h-0.4zM98.4,61.7h0.5v0.5h-0.5zM95.0,63.0h0.4v0.4h-0.4zM86.8,65.6h0.5v0.5h-0.5zM94.0,60.6h0.6v0.6h-0.6zM68.4,62.3h0.6v0.6h-0.6zM59.5,64.6h0.4v0.4h-0.4zM93.9,51.2h0.5v0.5h-0.5zM88.3,60.4h0.3v0.3h-0.3zM65.2,56.3h0.5v0.5h-0.5zM81.3,57.1h0.6v0.6h-0.6zM77.1,51.1h0.5v0.5h-0.5zM89.9,44.0h0.5v0.5h-0.5zM69.8,49.1h0.4v0.4h-0.4zM80.3,58.5h0.6v0.6h-0.6zM74.1,47.5h0.4v0.4h-0.4zM85.7,64.5h0.5v0.5h-0.5zM86.1,39.8h0.4v0.4h-0.4zM85.3,61.1h0.5v0.5h-0.5zM72.5,62.3h0.4v0.4h-0.4zM81.5,40.3h0.3v0.3h-0.3zM88.8,56.8h0.6v0.6h-0.6zM79.6,36.1h0.6v0.6h-0.6zM67.6,48.3h0.5v0.5h-0.5zM75.4,61.6h0.6v0.6h-0.6zM76.1,61.1h0.3v0.3h-0.3zM96.2,63.9h0.4v0.4h-0.4zM79.3,44.4h0.6v0.6h-0.6zM74.5,47.6h0.6v0.6h-0.6zM69.4,52.2h0.6v0.6h-0.6zM71.8,42.5h0.4v0.4h-0.4zM65.1,60.4h0.5v0.5h-0.5zM76.3,42.4h0.4v0.4h-0.4zM151.8,38.3h0.5v0.5h-0.5zM143.4,30.5h0.4v0.4h-0.4zM152.4,39.5h0.3v0.3h-0.3zM132.1,33.6h0.4v0.4h-0.4zM145.1,31.3h0.5v0.5h-0.5zM142.3,36.2h0.3v0.3h-0.3zM144.3,33.8h0.5v0.5h-0.5zM153.5,41.0h0.6v0.6h-0.6zM133.2,31.1h0.3v0.3h-0.3zM149.5,33.8h0.4v0.4h-0.4zM138.3,39.6h0.4v0.4h-0.4zM153.8,42.1h0.4v0.4h-0.4zM147.3,33.4h0.4v0.4h-0.4zM137.3,29.8h0.3v0.3h-0.3zM134.4,36.6h0.6v0.6h-0.6zM135.8,48.2h0.4v0.4h-0.4zM148.1,33.5h0.4v0.4h-0.4zM135.7,46.2h0.4v0.4h-0.4zM153.7,44.7h0.6v0.6h-0.6zM143.8,33.7h0.5v0.5h-0.5zM148.3,37.7h0.5v0.5h-0.5zM139.1,41.2h0.4v0.4h-0.4zM144.6,36.1h0.6v0.6h-0.6zM131.7,35.2h0.4v0.4h-0.4zM135.2,41.1h0.5v0.5h-0.5zM149.9,38.5h0.6v0.6h-0.6zM145.3,36.4h0.3v0.3h-0.3zM154.2,44.3h0.4v0.4h-0.4zM135.0,47.9h0.4v0.4h-0.4zM149.1,37.3h0.6v0.6h-0.6zM151.0,36.2h0.6v0.6h-0.6zM140.4,30.3h0.5v0.5h-0.5zM143.4,37.7h0.6v0.6h-0.6zM144.8,31.2h0.5v0.5h-0.5zM133.4,42.2h0.4v0.4h-0.4zM136.9,37.3h0.5v0.5h-0.5zM139.2,30.3h0.3v0.3h-0.3zM140.0,43.0h0.6v0.6h-0.6zM133.7,39.3h0.4v0.4h-0.4zM135.4,31.6h0.3v0.3h-0.3zM150.3,37.9h0.6v0.6h-0.6zM133.6,43.7h0.6v0.6h-0.6zM146.9,34.7h0.6v0.6h-0.6zM177.3,55.0h0.6v0.6h-0.6zM173.7,56.5h0.6v0.6h-0.6zM167.7,54.1h0.5v0.5h-0.5zM180.9,62.6h0.5v0.5h-0.5zM161.6,63.4h0.5v0.5h-0.5zM166.8,57.4h0.5v0.5h-0.5zM179.5,55.9h0.6v0.6h-0.6zM180.6,57.7h0.5v0.5h-0.5zM172.5,57.8h0.3v0.3h-0.3zM183.5,58.6h0.5v0.5h-0.5zM184.2,59.0h0.5v0.5h-0.5zM168.7,56.3h0.3v0.3h-0.3zM167.1,65.1h0.5v0.5h-0.5zM176.3,59.8h0.6v0.6h-0.6zM167.9,52.2h0.4v0.4h-0.4zM170.5,57.7h0.4v0.4h-0.4zM168.0,51.0h0.6v0.6h-0.6zM177.4,54.7h0.6v0.6h-0.6zM181.6,59.4h0.5v0.5h-0.5zM170.1,49.3h0.4v0.4h-0.4zM179.4,57.5h0.5v0.5h-0.5zM169.5,60.3h0.6v0.6h-0.6zM182.7,56.5h0.6v0.6h-0.6zM173.8,57.9h0.5v0.5h-0.5zM180.2,54.3h0.5v0.5h-0.5zM178.1,54.6h0.4v0.4h-0.4zM182.6,62.6h0.4v0.4h-0.4zM182.6,57.8h0.4v0.4h-0.4zM180.8,56.0h0.5v0.5h-0.5zM168.4,50.0h0.5v0.5h-0.5zM182.4,58.5h0.5v0.5h-0.5zM168.6,60.2h0.3v0.3h-0.3zM179.7,62.1h0.6v0.6h-0.6zM168.2,57.6h0.5v0.5h-0.5zM178.3,59.4h0.6v0.6h-0.6zM171.3,50.2h0.6v0.6h-0.6zM167.6,51.5h0.6v0.6h-0.6zM181.1,56.0h0.5v0.5h-0.5zM170.6,55.9h0.5v0.5h-0.5zM171.3,49.1h0.5v0.5h-0.5zM183.3,61.1h0.5v0.5h-0.5zM183.1,58.1h0.5v0.5h-0.5zM166.1,64.5h0.4v0.4h-0.4zM173.4,59.4h0.5v0.5h-0.5zM171.1,52.2h0.5v0.5h-0.5zM175.5,50.3h0.6v0.6h-0.6zM141.7,103.1h0.4v0.4h-0.4zM138.2,87.9h0.4v0.4h-0.4zM143.3,101.7h0.6v0.6h-0.6zM137.2,89.6h0.6v0.6h-0.6zM147.6,87.8h0.5v0.5h-0.5zM137.1,88.9h0.6v0.6h-0.6zM141.2,83.4h0.3v0.3h-0.3zM154.9,96.0h0.6v0.6h-0.6zM144.0,79.9h0.3v0.3h-0.3zM140.0,89.2h0.6v0.6h-0.6zM144.7,88.4h0.6v0.6h-0.6zM141.5,103.0h0.5v0.5h-0.5zM145.3,103.0h0.6v0.6h-0.6zM145.4,93.4h0.6v0.6h-0.6zM143.5,85.2h0.5v0.5h-0.5zM135.6,89.3h0.6v0.6h-0.6zM143.9,88.2h0.4v0.4h-0.4zM143.5,95.5h0.5v0.5h-0.5zM147.5,100.6h0.6v0.6h-0.6zM143.1,105.1h0.4v0.4h-0.4zM141.5,91.2h0.4v0.4h-0.4zM143.9,102.6h0.3v0.3h-0.3zM143.3,91.0h0.6v0.6h-0.6zM148.6,99.5h0.5v0.5h-0.5zM136.5,90.2h0.6v0.6h-0.6zM150.9,92.2h0.4v0.4h-0.4zM148.5,104.0h0.6v0.6h-0.6zM152.5,97.3h0.4v0.4h-0.4zM149.7,97.5h0.5v0.5h-0.5zM142.1,93.9h0.3v0.3h-0.3zM138.5,85.7h0.6v0.6h-0.6zM155.0,98.2h0.5v0.5h-0.5zM148.1,83.8h0.6v0.6h-0.6zM143.9,87.9h0.4v0.4h-0.4zM154.1,96.1h0.5v0.5h-0.5zM149.4,95.3h0.6v0.6h-0.6zM146.1,86.1h0.4v0.4h-0.4zM133.9,90.7h0.5v0.5h-0.5zM148.3,98.2h0.6v0.6h-0.6zM148.6,86.6h0.5v0.5h-0.5zM152.2,104.6h0.4v0.4h-0.4zM140.4,85.4h0.3v0.3h-0.3zM136.4,87.8h0.4v0.4h-0.4zM143.9,104.9h0.4v0.4h-0.4zM143.5,103.8h0.5v0.5h-0.5zM151.0,99.0h0.4v0.4h-0.4zM150.8,81.2h0.6v0.6h-0.6zM142.8,84.0h0.4v0.4h-0.4zM152.8,96.4h0.4v0.4h-0.4zM144.1,99.1h0.3v0.3h-0.3zM142.6,86.1h0.5v0.5h-0.5zM137.8,91.2h0.6v0.6h-0.6zM154.0,102.3h0.5v0.5h-0.5zM146.0,103.7h0.4v0.4h-0.4zM140.3,81.2h0.5v0.5h-0.5zM146.6,96.5h0.5v0.5h-0.5zM142.1,80.8h0.5v0.5h-0.5zM139.3,86.2h0.6v0.6h-0.6zM128.0,99.4h0.3v0.3h-0.3zM127.5,111.2h0.5v0.5h-0.5zM130.1,107.9h0.6v0.6h-0.6zM133.9,103.1h0.3v0.3h-0.3zM125.7,108.9h0.5v0.5h-0.5zM125.6,107.4h0.3v0.3h-0.3zM128.3,98.8h0.4v0.4h-0.4zM125.7,101.4h0.4v0.4h-0.4zM127.3,103.2h0.4v0.4h-0.4zM130.9,106.1h0.4v0.4h-0.4zM132.0,103.6h0.3v0.3h-0.3zM133.1,105.7h0.5v0.5h-0.5zM133.1,114.8h0.4v0.4h-0.4zM132.9,111.3h0.6v0.6h-0.6zM130.5,112.2h0.6v0.6h-0.6zM132.5,99.3h0.4v0.4h-0.4zM127.4,113.8h0.5v0.5h-0.5zM128.4,110.3h0.6v0.6h-0.6zM132.7,99.3h0.3v0.3h-0.3zM131.5,115.2h0.6v0.6h-0.6zM126.6,101.4h0.5v0.5h-0.5zM132.3,113.3h0.5v0.5h-0.5zM131.9,109.8h0.6v0.6h-0.6zM130.0,103.0h0.4v0.4h-0.4zM127.3,101.5h0.5v0.5h-0.5zM125.7,105.2h0.5v0.5h-0.5zM131.4,100.8h0.6v0.6h-0.6zM126.3,115.3h0.6v0.6h-0.6zM123.2,131.8h0.4v0.4h-0.4zM127.8,138.1h0.6v0.6h-0.6zM124.9,126.1h0.5v0.5h-0.5zM119.3,130.0h0.5v0.5h-0.5zM124.7,129.3h0.6v0.6h-0.6zM120.9,124.2h0.4v0.4h-0.4zM124.5,124.5h0.3v0.3h-0.3zM118.9,124.4h0.4v0.4h-0.4zM125.5,130.3h0.6v0.6h-0.6zM124.7,132.7h0.5v0.5h-0.5zM127.7,139.5h0.5v0.5h-0.5zM122.0,136.3h0.4v0.4h-0.4zM126.1,121.9h0.6v0.6h-0.6zM118.7,132.1h0.6v0.6h-0.6zM123.6,119.0h0.3v0.3h-0.3zM125.6,128.0h0.5v0.5h-0.5zM128.2,124.6h0.5v0.5h-0.5zM121.6,119.7h0.3v0.3h-0.3zM121.2,125.2h0.6v0.6h-0.6zM120.5,136.0h0.3v0.3h-0.3zM127.6,137.4h0.5v0.5h-0.5zM119.4,125.4h0.6v0.6h-0.6zM122.0,130.5h0.4v0.4h-0.4zM119.2,127.0h0.5v0.5h-0.5zM128.0,139.1h0.6v0.6h-0.6zM126.8,122.8h0.4v0.4h-0.4zM122.7,124.5h0.6v0.6h-0.6zM120.4,134.5h0.6v0.6h-0.6zM125.7,129.7h0.3v0.3h-0.3zM115.7,131.3h0.5v0.5h-0.5zM126.1,130.6h0.3v0.3h-0.3zM124.1,126.4h0.5v0.5h-0.5zM126.6,125.9h0.4v0.4h-0.4zM124.7,129.6h0.3v0.3h-0.3zM122.9,126.2h0.6v0.6h-0.6zM152.5,137.7h0.3v0.3h-0.3zM137.6,141.5h0.4v0.4h-0.4zM153.8,145.9h0.5v0.5h-0.5zM142.0,139.1h0.5v0.5h-0.5zM138.6,146.8h0.4v0.4h-0.4zM143.4,142.3h0.5v0.5h-0.5zM157.6,144.7h0.6v0.6h-0.6zM141.1,148.7h0.3v0.3h-0.3zM137.3,143.5h0.6v0.6h-0.6zM156.4,139.0h0.4v0.4h-0.4zM142.2,137.2h0.5v0.5h-0.5zM141.7,139.9h0.4v0.4h-0.4zM151.9,144.2h0.5v0.5h-0.5zM149.9,144.0h0.5v0.5h-0.5zM147.6,148.7h0.5v0.5h-0.5zM152.4,140.8h0.6v0.6h-0.6zM145.1,145.2h0.3v0.3h-0.3zM153.6,139.8h0.3v0.3h-0.3zM149.6,138.6h0.4v0.4h-0.4zM153.3,146.5h0.3v0.3h-0.3zM149.3,137.9h0.4v0.4h-0.4zM141.3,141.0h0.5v0.5h-0.5zM147.9,144.8h0.5v0.5h-0.5zM146.2,140.5h0.3v0.3h-0.3zM156.5,140.1h0.3v0.3h-0.3zM148.6,142.6h0.4v0.4h-0.4zM150.8,138.3h0.6v0.6h-0.6zM135.7,140.5h0.5v0.5h-0.5zM141.5,143.8h0.5v0.5h-0.5zM156.0,139.0h0.6v0.6h-0.6zM140.9,140.6h0.3v0.3h-0.3zM142.3,147.0h0.6v0.6h-0.6zM144.6,141.4h0.5v0.5h-0.5zM146.7,145.7h0.6v0.6h-0.6zM143.9,142.6h0.4v0.4h-0.4zM142.5,147.3h0.6v0.6h-0.6zM150.8,138.5h0.3v0.3h-0.3zM157.5,144.2h0.4v0.4h-0.4zM144.9,147.7h0.4v0.4h-0.4zM135.0,146.4h0.5v0.5h-0.5zM151.1,141.7h0.6v0.6h-0.6zM141.4,136.4h0.6v0.6h-0.6zM152.4,142.6h0.3v0.3h-0.3zM145.0,149.5h0.4v0.4h-0.4zM140.4,136.7h0.4v0.4h-0.4zM142.5,148.3h0.5v0.5h-0.5zM145.5,149.3h0.4v0.4h-0.4zM110.6,155.0h0.3v0.3h-0.3zM100.9,149.9h0.4v0.4h-0.4zM108.5,155.8h0.6v0.6h-0.6zM119.3,149.7h0.4v0.4h-0.4zM102.5,150.3h0.5v0.5h-0.5zM101.2,155.2h0.4v0.4h-0.4zM106.8,150.3h0.6v0.6h-0.6zM105.5,154.7h0.4v0.4h-0.4zM110.6,154.6h0.6v0.6h-0.6zM107.2,147.4h0.5v0.5h-0.5zM104.5,151.2h0.5v0.5h-0.5zM109.3,153.0h0.6v0.6h-0.6zM99.0,152.8h0.5v0.5h-0.5zM109.1,155.7h0.3v0.3h-0.3zM101.6,153.5h0.5v0.5h-0.5zM113.5,148.8h0.6v0.6h-0.6zM106.5,148.6h0.4v0.4h-0.4zM107.9,150.0h0.5v0.5h-0.5zM110.2,147.7h0.3v0.3h-0.3zM112.6,153.7h0.3v0.3h-0.3zM103.6,147.0h0.3v0.3h-0.3zM112.4,143.1h0.3v0.3h-0.3zM104.5,146.3h0.5v0.5h-0.5zM104.9,152.1h0.6v0.6h-0.6zM111.4,150.0h0.4v0.4h-0.4zM106.6,154.0h0.5v0.5h-0.5zM114.0,144.7h0.6v0.6h-0.6zM104.6,152.1h0.6v0.6h-0.6zM107.0,144.6h0.3v0.3h-0.3zM103.4,150.7h0.4v0.4h-0.4zM116.8,150.0h0.5v0.5h-0.5zM110.4,151.6h0.4v0.4h-0.4zM105.5,147.6h0.3v0.3h-0.3zM60.9,117.9h0.5v0.5h-0.5zM47.0,114.7h0.6v0.6h-0.6zM52.0,119.6h0.4v0.4h-0.4zM52.7,110.8h0.4v0.4h-0.4zM46.3,112.6h0.4v0.4h-0.4zM47.7,106.1h0.3v0.3h-0.3zM47.6,120.4h0.5v0.5h-0.5zM55.6,118.2h0.3v0.3h-0.3zM53.6,124.8h0.5v0.5h-0.5zM56.3,119.8h0.6v0.6h-0.6zM57.4,120.7h0.4v0.4h-0.4zM48.5,114.7h0.5v0.5h-0.5zM60.6,115.9h0.3v0.3h-0.3zM49.0,121.4h0.4v0.4h-0.4zM45.9,121.3h0.3v0.3h-0.3zM56.5,115.6h0.3v0.3h-0.3zM58.9,118.2h0.5v0.5h-0.5zM51.4,118.0h0.4v0.4h-0.4zM50.5,99.3h0.4v0.4h-0.4zM52.3,124.2h0.6v0.6h-0.6zM58.1,119.4h0.5v0.5h-0.5zM52.7,124.8h0.5v0.5h-0.5zM50.9,124.3h0.4v0.4h-0.4zM62.5,119.8h0.6v0.6h-0.6zM64.0,117.0h0.3v0.3h-0.3zM50.7,102.7h0.5v0.5h-0.5zM54.2,102.5h0.3v0.3h-0.3zM49.2,118.4h0.5v0.5h-0.5zM47.0,113.3h0.5v0.5h-0.5zM47.6,119.6h0.5v0.5h-0.5zM51.7,98.6h0.4v0.4h-0.4zM57.8,122.4h0.5v0.5h-0.5zM49.5,107.0h0.6v0.6h-0.6zM50.1,111.3h0.4v0.4h-0.4zM52.2,104.9h0.3v0.3h-0.3zM49.9,115.1h0.3v0.3h-0.3zM58.2,117.4h0.4v0.4h-0.4zM53.1,104.4h0.6v0.6h-0.6zM51.0,123.8h0.5v0.5h-0.5zM56.5,123.6h0.6v0.6h-0.6zM59.9,113.7h0.4v0.4h-0.4zM45.6,111.5h0.4v0.4h-0.4zM56.9,117.4h0.6v0.6h-0.6zM59.0,120.8h0.6v0.6h-0.6zM45.3,118.4h0.4v0.4h-0.4zM45.7,118.9h0.5v0.5h-0.5zM51.8,115.9h0.4v0.4h-0.4zM46.5,112.9h0.5v0.5h-0.5zM53.3,125.4h0.5v0.5h-0.5zM47.3,107.3h0.4v0.4h-0.4zM52.9,120.7h0.3v0.3h-0.3zM49.2,108.1h0.4v0.4h-0.4zM45.7,116.0h0.4v0.4h-0.4zM55.5,120.7h0.3v0.3h-0.3zM49.9,120.4h0.5v0.5h-0.5zM54.7,112.8h0.5v0.5h-0.5zM52.2,106.8h0.5v0.5h-0.5zM57.1,123.8h0.5v0.5h-0.5zM54.8,119.5h0.4v0.4h-0.4zM52.6,109.7h0.4v0.4h-0.4zM54.9,97.9h0.3v0.3h-0.3zM54.2,100.7h0.5v0.5h-0.5zM50.7,114.5h0.4v0.4h-0.4zM59.5,114.2h0.4v0.4h-0.4zM56.6,124.6h0.6v0.6h-0.6zM65.6,125.2h0.3v0.3h-0.3zM72.8,123.0h0.5v0.5h-0.5zM74.4,125.7h0.5v0.5h-0.5zM60.0,126.9h0.4v0.4h-0.4zM63.1,123.2h0.4v0.4h-0.4zM63.2,121.4h0.5v0.5h-0.5zM69.3,125.4h0.5v0.5h-0.5zM79.3,126.5h0.6v0.6h-0.6zM59.6,126.1h0.6v0.6h-0.6zM68.2,119.9h0.3v0.3h-0.3zM76.8,126.6h0.4v0.4h-0.4zM82.1,127.4h0.4v0.4h-0.4zM73.8,123.6h0.6v0.6h-0.6zM72.4,125.7h0.4v0.4h-0.4zM71.7,126.7h0.3v0.3h-0.3zM63.9,125.4h0.4v0.4h-0.4zM56.4,125.8h0.4v0.4h-0.4zM73.1,124.1h0.3v0.3h-0.3zM59.5,127.1h0.6v0.6h-0.6zM65.1,120.4h0.6v0.6h-0.6zM56.8,124.9h0.5v0.5h-0.5zM69.2,120.9h0.5v0.5h-0.5zM58.4,123.3h0.4v0.4h-0.4zM61.5,127.5h0.3v0.3h-0.3zM70.3,122.7h0.6v0.6h-0.6zM56.6,124.4h0.4v0.4h-0.4zM90.8,100.5h0.3v0.3h-0.3zM89.5,99.3h0.4v0.4h-0.4zM92.5,100.5h0.3v0.3h-0.3zM89.8,106.8h0.4v0.4h-0.4zM106.1,138.4h0.5v0.5h-0.5zM105.8,137.7h0.5v0.5h-0.5z"/>
<path fill="#b05cb4" d="M100.4,59.8h0.3v0.3h-0.3zM100.8,59.2h0.4v0.4h-0.4zM85.0,70.3h0.4v0.4h-0.4zM64.2,49.2h0.5v0.5h-0.5zM83.4,34.4h0.5v0.5h-0.5zM100.4,66.9h0.5v0.5h-0.5zM91.9,43.6h0.5v0.5h-0.5zM101.3,67.1h0.5v0.5h-0.5zM104.7,63.8h0.4v0.4h-0.4zM63.7,49.5h0.4v0.4h-0.4zM64.4,75.2h0.3v0.3h-0.3zM80.8,34.1h0.5v0.5h-0.5zM91.3,43.0h0.3v0.3h-0.3zM58.7,72.5h0.5v0.5h-0.5zM57.6,68.7h0.5v0.5h-0.5zM60.0,73.9h0.5v0.5h-0.5zM82.0,35.8h0.5v0.5h-0.5zM95.3,72.7h0.5v0.5h-0.5zM88.5,39.5h0.6v0.6h-0.6zM56.4,69.1h0.5v0.5h-0.5zM79.8,34.8h0.4v0.4h-0.4zM97.9,54.6h0.4v0.4h-0.4zM90.9,71.0h0.5v0.5h-0.5zM87.8,38.8h0.5v0.5h-0.5zM57.5,63.4h0.4v0.4h-0.4zM72.7,66.0h0.5v0.5h-0.5zM73.3,67.4h0.3v0.3h-0.3zM78.1,65.2h0.5v0.5h-0.5zM63.3,50.0h0.5v0.5h-0.5zM87.9,37.3h0.5v0.5h-0.5zM91.3,70.1h0.3v0.3h-0.3zM67.8,42.0h0.4v0.4h-0.4zM92.8,43.2h0.4v0.4h-0.4zM70.8,38.6h0.5v0.5h-0.5zM62.9,50.7h0.4v0.4h-0.4zM60.6,56.1h0.3v0.3h-0.3zM67.5,43.8h0.6v0.6h-0.6zM103.4,60.4h0.6v0.6h-0.6zM57.5,62.7h0.6v0.6h-0.6zM72.1,67.9h0.4v0.4h-0.4zM99.0,53.8h0.6v0.6h-0.6zM97.6,53.0h0.3v0.3h-0.3zM72.2,37.4h0.4v0.4h-0.4zM94.5,71.8h0.5v0.5h-0.5zM73.5,67.5h0.5v0.5h-0.5zM96.7,50.1h0.6v0.6h-0.6zM59.4,58.3h0.4v0.4h-0.4zM57.1,65.6h0.4v0.4h-0.4zM79.4,67.3h0.4v0.4h-0.4zM62.7,53.6h0.5v0.5h-0.5zM66.2,73.5h0.5v0.5h-0.5zM65.1,74.4h0.6v0.6h-0.6zM71.0,71.0h0.3v0.3h-0.3zM71.0,39.2h0.3v0.3h-0.3zM82.1,69.5h0.5v0.5h-0.5zM81.7,34.2h0.4v0.4h-0.4zM79.9,68.6h0.5v0.5h-0.5zM58.5,71.8h0.5v0.5h-0.5zM94.8,70.7h0.5v0.5h-0.5zM96.0,49.0h0.5v0.5h-0.5zM58.3,59.8h0.4v0.4h-0.4zM72.6,67.2h0.4v0.4h-0.4zM92.1,43.9h0.5v0.5h-0.5zM101.7,60.8h0.4v0.4h-0.4zM58.6,61.2h0.5v0.5h-0.5zM79.7,66.3h0.6v0.6h-0.6zM79.9,35.1h0.4v0.4h-0.4zM88.8,71.4h0.5v0.5h-0.5zM61.8,75.4h0.4v0.4h-0.4zM97.9,52.3h0.4v0.4h-0.4zM63.9,48.8h0.5v0.5h-0.5zM55.9,66.2h0.6v0.6h-0.6zM100.4,60.0h0.5v0.5h-0.5zM76.6,65.4h0.4v0.4h-0.4zM66.5,73.4h0.3v0.3h-0.3zM101.7,59.4h0.4v0.4h-0.4zM72.5,68.7h0.5v0.5h-0.5zM60.8,73.3h0.6v0.6h-0.6zM72.5,37.0h0.5v0.5h-0.5zM67.7,44.3h0.5v0.5h-0.5zM78.2,34.3h0.5v0.5h-0.5zM62.6,52.2h0.5v0.5h-0.5zM59.2,59.7h0.3v0.3h-0.3zM61.5,75.0h0.6v0.6h-0.6zM101.6,67.5h0.4v0.4h-0.4zM60.9,74.0h0.4v0.4h-0.4zM81.5,70.4h0.3v0.3h-0.3zM79.5,67.1h0.6v0.6h-0.6zM101.2,58.8h0.3v0.3h-0.3zM87.7,70.8h0.5v0.5h-0.5z"/>
<path fill="#c6bc0a" d="M145.3,29.4h0.6v0.6h-0.6zM142.0,27.8h0.4v0.4h-0.4zM139.6,27.6h0.4v0.4h-0.4zM153.7,38.1h0.5v0.5h-0.5zM146.0,39.4h0.4v0.4h-0.4zM132.0,45.8h0.6v0.6h-0.6zM154.5,38.9h0.5v0.5h-0.5zM153.3,38.1h0.4v0.4h-0.4zM133.7,46.5h0.4v0.4h-0.4zM150.5,43.0h0.4v0.4h-0.4zM130.7,30.8h0.5v0.5h-0.5zM142.6,40.6h0.5v0.5h-0.5zM132.3,45.4h0.4v0.4h-0.4zM137.0,27.8h0.3v0.3h-0.3zM148.6,31.5h0.5v0.5h-0.5zM145.5,40.2h0.5v0.5h-0.5zM149.7,41.9h0.4v0.4h-0.4zM128.9,34.0h0.4v0.4h-0.4zM140.7,27.6h0.4v0.4h-0.4zM154.3,47.3h0.4v0.4h-0.4zM133.7,29.2h0.4v0.4h-0.4zM138.6,49.7h0.6v0.6h-0.6zM131.3,38.9h0.3v0.3h-0.3zM149.0,31.3h0.3v0.3h-0.3zM160.0,65.6h0.3v0.3h-0.3zM166.3,56.4h0.4v0.4h-0.4zM167.2,53.3h0.4v0.4h-0.4zM173.3,61.9h0.5v0.5h-0.5zM181.7,51.9h0.4v0.4h-0.4zM168.7,46.4h0.5v0.5h-0.5zM173.7,60.5h0.5v0.5h-0.5zM158.8,65.4h0.3v0.3h-0.3zM167.1,53.7h0.5v0.5h-0.5zM166.8,51.8h0.3v0.3h-0.3zM180.8,65.9h0.3v0.3h-0.3zM178.8,65.3h0.6v0.6h-0.6zM180.6,50.2h0.5v0.5h-0.5zM172.8,62.1h0.5v0.5h-0.5zM169.7,48.0h0.5v0.5h-0.5zM184.5,62.1h0.3v0.3h-0.3zM161.7,60.3h0.4v0.4h-0.4zM159.1,63.5h0.5v0.5h-0.5zM175.6,63.6h0.4v0.4h-0.4zM162.6,59.5h0.4v0.4h-0.4zM185.3,62.0h0.4v0.4h-0.4zM161.6,62.1h0.5v0.5h-0.5zM173.1,61.4h0.4v0.4h-0.4zM160.2,66.2h0.5v0.5h-0.5zM185.3,64.4h0.4v0.4h-0.4zM181.7,51.2h0.5v0.5h-0.5z"/>
<path fill="#ee80ac" d="M139.2,80.7h0.4v0.4h-0.4zM141.1,79.3h0.5v0.5h-0.5zM139.2,93.4h0.4v0.4h-0.4zM142.9,99.5h0.5v0.5h-0.5zM147.1,80.3h0.5v0.5h-0.5zM139.3,105.5h0.4v0.4h-0.4zM151.5,78.6h0.5v0.5h-0.5zM139.2,83.0h0.4v0.4h-0.4zM140.6,104.4h0.4v0.4h-0.4zM139.8,81.5h0.4v0.4h-0.4zM138.1,94.7h0.5v0.5h-0.5zM154.7,103.9h0.5v0.5h-0.5zM154.9,93.9h0.5v0.5h-0.5zM156.3,96.5h0.3v0.3h-0.3zM141.6,99.7h0.3v0.3h-0.3zM139.3,83.2h0.3v0.3h-0.3zM149.6,87.5h0.5v0.5h-0.5zM137.4,84.3h0.5v0.5h-0.5zM142.6,99.2h0.5v0.5h-0.5zM137.0,83.5h0.3v0.3h-0.3zM143.5,79.5h0.5v0.5h-0.5zM146.1,107.3h0.6v0.6h-0.6zM149.0,106.7h0.5v0.5h-0.5zM156.4,102.4h0.4v0.4h-0.4zM142.6,109.0h0.5v0.5h-0.5zM140.8,103.6h0.4v0.4h-0.4zM156.7,95.4h0.4v0.4h-0.4zM148.8,80.3h0.3v0.3h-0.3zM150.2,86.1h0.3v0.3h-0.3zM132.7,87.1h0.3v0.3h-0.3zM139.5,104.7h0.3v0.3h-0.3zM150.0,80.7h0.4v0.4h-0.4zM123.6,103.8h0.4v0.4h-0.4zM124.9,113.8h0.6v0.6h-0.6zM137.0,111.5h0.3v0.3h-0.3zM125.2,100.2h0.6v0.6h-0.6zM124.0,115.5h0.5v0.5h-0.5zM135.6,110.6h0.5v0.5h-0.5zM123.1,111.0h0.5v0.5h-0.5zM131.1,118.1h0.3v0.3h-0.3zM133.4,98.8h0.3v0.3h-0.3zM136.4,106.9h0.5v0.5h-0.5zM126.2,97.5h0.5v0.5h-0.5zM122.6,102.7h0.5v0.5h-0.5zM134.2,100.9h0.3v0.3h-0.3zM134.8,100.3h0.4v0.4h-0.4zM134.5,100.4h0.5v0.5h-0.5zM125.8,116.9h0.5v0.5h-0.5zM135.3,103.7h0.4v0.4h-0.4z"/>
<path fill="#0e9a48" d="M127.9,129.2h0.3v0.3h-0.3zM128.1,131.6h0.3v0.3h-0.3zM124.5,117.6h0.6v0.6h-0.6zM126.8,129.5h0.4v0.4h-0.4zM126.9,141.2h0.5v0.5h-0.5zM129.7,137.8h0.4v0.4h-0.4zM128.2,128.2h0.6v0.6h-0.6zM120.3,139.9h0.3v0.3h-0.3zM117.8,127.4h0.6v0.6h-0.6zM130.9,126.0h0.6v0.6h-0.6zM119.9,119.1h0.4v0.4h-0.4zM128.1,129.1h0.5v0.5h-0.5zM116.4,130.6h0.5v0.5h-0.5zM130.8,136.4h0.5v0.5h-0.5zM115.6,135.1h0.3v0.3h-0.3zM127.3,130.7h0.3v0.3h-0.3zM127.4,142.1h0.4v0.4h-0.4zM125.5,142.5h0.5v0.5h-0.5zM113.4,130.5h0.5v0.5h-0.5zM130.0,122.4h0.3v0.3h-0.3zM137.3,137.3h0.5v0.5h-0.5zM137.0,137.4h0.6v0.6h-0.6zM143.0,135.4h0.4v0.4h-0.4zM153.2,136.4h0.3v0.3h-0.3zM158.5,146.2h0.4v0.4h-0.4zM160.7,139.3h0.4v0.4h-0.4zM136.2,149.7h0.4v0.4h-0.4zM135.3,138.0h0.4v0.4h-0.4zM151.4,148.2h0.6v0.6h-0.6zM130.6,145.9h0.3v0.3h-0.3zM136.9,137.2h0.4v0.4h-0.4zM143.1,134.0h0.5v0.5h-0.5zM145.6,151.0h0.5v0.5h-0.5zM139.2,135.8h0.5v0.5h-0.5zM153.5,136.8h0.5v0.5h-0.5zM150.6,149.1h0.3v0.3h-0.3zM134.9,139.6h0.4v0.4h-0.4zM135.4,147.7h0.4v0.4h-0.4zM131.6,146.6h0.3v0.3h-0.3zM141.7,134.9h0.4v0.4h-0.4zM146.8,151.0h0.3v0.3h-0.3zM158.2,146.1h0.4v0.4h-0.4zM159.7,139.9h0.3v0.3h-0.3zM161.1,142.3h0.5v0.5h-0.5zM131.9,143.2h0.3v0.3h-0.3zM136.2,137.0h0.5v0.5h-0.5zM105.7,142.6h0.3v0.3h-0.3zM113.8,154.7h0.3v0.3h-0.3zM107.6,157.5h0.5v0.5h-0.5zM98.1,154.2h0.4v0.4h-0.4zM100.9,147.9h0.4v0.4h-0.4zM116.3,145.5h0.5v0.5h-0.5zM115.1,144.4h0.3v0.3h-0.3zM116.1,153.8h0.4v0.4h-0.4zM124.1,150.6h0.5v0.5h-0.5zM111.6,141.4h0.5v0.5h-0.5zM107.2,143.7h0.3v0.3h-0.3zM111.1,141.4h0.6v0.6h-0.6zM125.1,148.0h0.4v0.4h-0.4zM103.1,157.7h0.3v0.3h-0.3zM118.0,151.2h0.5v0.5h-0.5zM120.9,151.9h0.4v0.4h-0.4zM119.8,147.0h0.5v0.5h-0.5zM107.2,157.2h0.5v0.5h-0.5zM118.7,152.6h0.4v0.4h-0.4zM104.0,136.5h0.6v0.6h-0.6zM105.9,135.6h0.3v0.3h-0.3zM109.8,137.1h0.5v0.5h-0.5zM104.0,139.4h0.3v0.3h-0.3z"/>
<path fill="#ec3419" d="M51.9,96.3h0.6v0.6h-0.6zM44.0,113.6h0.4v0.4h-0.4zM53.2,96.5h0.5v0.5h-0.5zM65.4,119.6h0.5v0.5h-0.5zM44.7,109.0h0.4v0.4h-0.4zM43.0,110.8h0.4v0.4h-0.4zM40.8,117.0h0.5v0.5h-0.5zM59.2,107.3h0.4v0.4h-0.4zM54.7,127.2h0.4v0.4h-0.4zM47.0,104.7h0.6v0.6h-0.6zM56.2,94.9h0.6v0.6h-0.6zM60.0,107.6h0.3v0.3h-0.3zM52.8,127.6h0.3v0.3h-0.3zM63.7,114.8h0.5v0.5h-0.5zM65.5,116.3h0.3v0.3h-0.3zM49.7,125.8h0.3v0.3h-0.3zM58.2,96.6h0.4v0.4h-0.4zM58.8,101.9h0.3v0.3h-0.3zM58.0,98.5h0.6v0.6h-0.6zM41.8,115.8h0.4v0.4h-0.4zM45.1,122.0h0.5v0.5h-0.5zM62.4,113.0h0.6v0.6h-0.6zM63.8,115.4h0.4v0.4h-0.4zM58.3,104.2h0.4v0.4h-0.4zM48.1,103.1h0.6v0.6h-0.6zM45.6,123.4h0.5v0.5h-0.5zM44.2,109.1h0.6v0.6h-0.6zM48.5,101.3h0.4v0.4h-0.4zM44.1,108.7h0.5v0.5h-0.5zM42.9,121.5h0.5v0.5h-0.5zM42.4,111.2h0.5v0.5h-0.5zM64.8,115.7h0.5v0.5h-0.5zM44.1,112.1h0.3v0.3h-0.3zM42.9,117.5h0.6v0.6h-0.6zM64.6,118.1h0.5v0.5h-0.5zM57.6,122.4h0.4v0.4h-0.4zM81.9,125.3h0.6v0.6h-0.6zM71.1,119.0h0.4v0.4h-0.4zM56.2,121.7h0.5v0.5h-0.5zM58.2,128.3h0.3v0.3h-0.3zM69.8,119.7h0.5v0.5h-0.5zM64.3,117.9h0.4v0.4h-0.4zM77.0,129.5h0.4v0.4h-0.4zM64.1,118.5h0.4v0.4h-0.4zM67.6,118.3h0.5v0.5h-0.5zM65.8,130.6h0.4v0.4h-0.4zM69.4,129.1h0.4v0.4h-0.4zM61.2,130.2h0.6v0.6h-0.6zM66.7,128.8h0.3v0.3h-0.3zM54.6,126.6h0.5v0.5h-0.5zM54.3,124.3h0.3v0.3h-0.3z"/>
<path fill="#a870b8" d="M86.8,101.9h0.5v0.5h-0.5zM90.7,96.9h0.3v0.3h-0.3zM94.2,99.1h0.3v0.3h-0.3zM92.0,103.5h0.5v0.5h-0.5z"/>
<path fill="#b84c5a" d="M89.2,105.4h0.5v0.5h-0.5zM90.6,104.2h0.6v0.6h-0.6zM92.5,106.5h0.5v0.5h-0.5z"/>
</g>
<circle cx="37.8" cy="379.5" r="1.8" fill="#1d5f9e"/>
<text x="43.80" y="381.55" font-size="5.8" text-anchor="start" fill="#2a2a2a" >MM01-ME</text>
<circle cx="78.8" cy="379.5" r="1.8" fill="#ec7d22"/>
<text x="84.00" y="381.55" font-size="5.8" text-anchor="start" fill="#2a2a2a" >MM01-PB</text>
<circle cx="118.6" cy="379.5" r="1.8" fill="#17924a"/>
<text x="123.90" y="381.55" font-size="5.8" text-anchor="start" fill="#2a2a2a" >MM01-BM</text>
<circle cx="159.9" cy="379.5" r="1.8" fill="#c4232f"/>
<text x="165.00" y="381.55" font-size="5.8" text-anchor="start" fill="#2a2a2a" >MM03-BM</text>
<circle cx="37.8" cy="388.5" r="1.8" fill="#a263a3"/>
<text x="43.80" y="390.55" font-size="5.8" text-anchor="start" fill="#2a2a2a" >MM03-ME</text>
<circle cx="78.8" cy="388.5" r="1.8" fill="#b5505c"/>
<text x="84.00" y="390.55" font-size="5.8" text-anchor="start" fill="#2a2a2a" >MM03-PB</text>
<circle cx="118.6" cy="388.5" r="1.8" fill="#e693b4"/>
<text x="123.90" y="390.55" font-size="5.8" text-anchor="start" fill="#2a2a2a" >MM02-BM</text>
<circle cx="159.9" cy="388.5" r="1.8" fill="#a9c13a"/>
<text x="165.00" y="390.55" font-size="5.8" text-anchor="start" fill="#2a2a2a" >MM02-ME</text>
<path d="M36.3,434.6 V623 H113.5" fill="none" stroke="#111" stroke-width="1.1"/>
<line x1="33.2" y1="437.70" x2="36.3" y2="437.70" stroke="#222" stroke-width="0.8"/>
<text x="30.40" y="440.10" font-size="6.5" text-anchor="end" fill="#333" >1.0</text>
<line x1="33.2" y1="474.76" x2="36.3" y2="474.76" stroke="#222" stroke-width="0.8"/>
<text x="30.40" y="477.16" font-size="6.5" text-anchor="end" fill="#333" >0.8</text>
<line x1="33.2" y1="511.82" x2="36.3" y2="511.82" stroke="#222" stroke-width="0.8"/>
<text x="30.40" y="514.22" font-size="6.5" text-anchor="end" fill="#333" >0.6</text>
<line x1="33.2" y1="548.88" x2="36.3" y2="548.88" stroke="#222" stroke-width="0.8"/>
<text x="30.40" y="551.28" font-size="6.5" text-anchor="end" fill="#333" >0.4</text>
<line x1="33.2" y1="585.94" x2="36.3" y2="585.94" stroke="#222" stroke-width="0.8"/>
<text x="30.40" y="588.34" font-size="6.5" text-anchor="end" fill="#333" >0.2</text>
<line x1="33.2" y1="623.00" x2="36.3" y2="623.00" stroke="#222" stroke-width="0.8"/>
<text x="30.40" y="625.40" font-size="6.5" text-anchor="end" fill="#333" >0.0</text>
<rect x="41.00" y="437.8" width="7.1" height="1.80" fill="#f9b276"/>
<rect x="41.00" y="439.6" width="7.1" height="1.90" fill="#72c8ee"/>
<rect x="41.00" y="441.5" width="7.1" height="23.10" fill="#c6ba14"/>
<rect x="41.00" y="464.6" width="7.1" height="125.20" fill="#b062b0"/>
<rect x="41.00" y="589.8" width="7.1" height="33.20" fill="#0a9646"/>
<line x1="44.55" y1="623" x2="44.55" y2="626" stroke="#222" stroke-width="0.8"/>
<text x="0" y="0" font-size="6.4" fill="#222" text-anchor="end" transform="translate(46.80,629.2) rotate(-90)">MM01-ME</text>
<rect x="49.43" y="437.8" width="7.1" height="10.00" fill="#f9b276"/>
<rect x="49.43" y="447.8" width="7.1" height="9.40" fill="#12a2b6"/>
<rect x="49.43" y="457.2" width="7.1" height="21.60" fill="#c6ba14"/>
<rect x="49.43" y="478.8" width="7.1" height="118.80" fill="#b062b0"/>
<rect x="49.43" y="597.6" width="7.1" height="2.40" fill="#ec3218"/>
<rect x="49.43" y="600" width="7.1" height="23.00" fill="#0a9646"/>
<line x1="52.98" y1="623" x2="52.98" y2="626" stroke="#222" stroke-width="0.8"/>
<text x="0" y="0" font-size="6.4" fill="#222" text-anchor="end" transform="translate(55.23,629.2) rotate(-90)">MM01-PB</text>
<rect x="57.86" y="437.8" width="7.1" height="6.40" fill="#f9b276"/>
<rect x="57.86" y="444.2" width="7.1" height="7.00" fill="#12a2b6"/>
<rect x="57.86" y="451.2" width="7.1" height="73.10" fill="#c6ba14"/>
<rect x="57.86" y="524.3" width="7.1" height="13.70" fill="#b062b0"/>
<rect x="57.86" y="538" width="7.1" height="85.00" fill="#0a9646"/>
<line x1="61.41" y1="623" x2="61.41" y2="626" stroke="#222" stroke-width="0.8"/>
<text x="0" y="0" font-size="6.4" fill="#222" text-anchor="end" transform="translate(63.66,629.2) rotate(-90)">MM01-BM</text>
<rect x="66.29" y="437.8" width="7.1" height="180.50" fill="#ec3218"/>
<rect x="66.29" y="618.3" width="7.1" height="4.70" fill="#0a9646"/>
<line x1="69.84" y1="623" x2="69.84" y2="626" stroke="#222" stroke-width="0.8"/>
<text x="0" y="0" font-size="6.4" fill="#222" text-anchor="end" transform="translate(72.09,629.2) rotate(-90)">MM02-BM</text>
<rect x="74.72" y="437.8" width="7.1" height="88.20" fill="#f08ab2"/>
<rect x="74.72" y="526" width="7.1" height="88.00" fill="#d85c66"/>
<rect x="74.72" y="614" width="7.1" height="9.00" fill="#ec3218"/>
<line x1="78.27" y1="623" x2="78.27" y2="626" stroke="#222" stroke-width="0.8"/>
<text x="0" y="0" font-size="6.4" fill="#222" text-anchor="end" transform="translate(80.52,629.2) rotate(-90)">MM02-ME</text>
<rect x="83.15" y="437.8" width="7.1" height="4.20" fill="#72c8ee"/>
<rect x="83.15" y="442" width="7.1" height="30.40" fill="#12a2b6"/>
<rect x="83.15" y="472.4" width="7.1" height="150.60" fill="#f57d08"/>
<line x1="86.70" y1="623" x2="86.70" y2="626" stroke="#222" stroke-width="0.8"/>
<text x="0" y="0" font-size="6.4" fill="#222" text-anchor="end" transform="translate(88.95,629.2) rotate(-90)">MM03-BM</text>
<rect x="91.58" y="437.8" width="7.1" height="6.60" fill="#72c8ee"/>
<rect x="91.58" y="444.4" width="7.1" height="178.60" fill="#0866b4"/>
<line x1="95.13" y1="623" x2="95.13" y2="626" stroke="#222" stroke-width="0.8"/>
<text x="0" y="0" font-size="6.4" fill="#222" text-anchor="end" transform="translate(97.38,629.2) rotate(-90)">MM03-ME</text>
<rect x="100.01" y="437.8" width="7.1" height="185.20" fill="#b062b0"/>
<line x1="103.56" y1="623" x2="103.56" y2="626" stroke="#222" stroke-width="0.8"/>
<text x="0" y="0" font-size="6.4" fill="#222" text-anchor="end" transform="translate(105.81,629.2) rotate(-90)">MM03-PB</text>
<rect x="122.5" y="520.40" width="4.6" height="4.6" fill="#f9b276"/>
<text x="129.80" y="524.80" font-size="5.9" text-anchor="start" fill="#2a2a2a" >MPC_10</text>
<rect x="122.5" y="529.80" width="4.6" height="4.6" fill="#72c8ee"/>
<text x="129.80" y="534.20" font-size="5.9" text-anchor="start" fill="#2a2a2a" >MPC_9</text>
<rect x="122.5" y="539.10" width="4.6" height="4.6" fill="#12a2b6"/>
<text x="129.80" y="543.50" font-size="5.9" text-anchor="start" fill="#2a2a2a" >MPC_11</text>
<rect x="122.5" y="548.70" width="4.6" height="4.6" fill="#c6ba14"/>
<text x="129.80" y="553.10" font-size="5.9" text-anchor="start" fill="#2a2a2a" >MPC_5</text>
<rect x="122.5" y="558.30" width="4.6" height="4.6" fill="#f08ab2"/>
<text x="129.80" y="562.70" font-size="5.9" text-anchor="start" fill="#2a2a2a" >MPC_4</text>
<rect x="122.5" y="567.90" width="4.6" height="4.6" fill="#d85c66"/>
<text x="129.80" y="572.30" font-size="5.9" text-anchor="start" fill="#2a2a2a" >MPC_6</text>
<rect x="165.7" y="520.40" width="4.6" height="4.6" fill="#b062b0"/>
<text x="173.00" y="524.80" font-size="5.9" text-anchor="start" fill="#2a2a2a" >MPC_8</text>
<rect x="165.7" y="529.80" width="4.6" height="4.6" fill="#ec3218"/>
<text x="173.00" y="534.20" font-size="5.9" text-anchor="start" fill="#2a2a2a" >MPC_7</text>
<rect x="165.7" y="539.10" width="4.6" height="4.6" fill="#0a9646"/>
<text x="173.00" y="543.50" font-size="5.9" text-anchor="start" fill="#2a2a2a" >MPC_3</text>
<rect x="165.7" y="548.70" width="4.6" height="4.6" fill="#f57d08"/>
<text x="173.00" y="553.10" font-size="5.9" text-anchor="start" fill="#2a2a2a" >MPC_2</text>
<rect x="165.7" y="558.30" width="4.6" height="4.6" fill="#0866b4"/>
<text x="173.00" y="562.70" font-size="5.9" text-anchor="start" fill="#2a2a2a" >MPC_1</text>
<rect x="264.00" y="16" width="20.35" height="9.6" fill="#0866b4"/>
<rect x="284.30" y="16" width="20.75" height="9.6" fill="#f57d08"/>
<rect x="305.00" y="16" width="20.55" height="9.6" fill="#0a9646"/>
<rect x="325.50" y="16" width="20.30" height="9.6" fill="#ec3218"/>
<rect x="345.75" y="16" width="19.30" height="9.6" fill="#b062b0"/>
<rect x="365.00" y="16" width="20.85" height="9.6" fill="#d85c66"/>
<rect x="385.80" y="16" width="20.25" height="9.6" fill="#f08ab2"/>
<rect x="406.00" y="16" width="20.55" height="9.6" fill="#c6ba14"/>
<rect x="426.50" y="16" width="20.85" height="9.6" fill="#12a2b6"/>
<rect x="447.30" y="16" width="16.75" height="9.6" fill="#72c8ee"/>
<rect x="464.00" y="16" width="9.55" height="9.6" fill="#f9b276"/>
<defs><filter id="bl" x="0" y="0" width="1" height="1"><feGaussianBlur stdDeviation="0.35"/></filter></defs>
<defs><clipPath id="cc"><rect x="264" y="33.0" width="209.5" height="464.0"/></clipPath></defs>
<g clip-path="url(#cc)"><g filter="url(#bl)"><rect x="264" y="33.0" width="209.5" height="464.0" fill="#02818d"/><g transform="scale(0.1)">
<path stroke="#2d2282" stroke-width="54" fill="none" d="M3255 3753H3458"/>
<path stroke="#213b89" stroke-width="54" fill="none" d="M3255 405H3458M3650 405H3858M3650 2557H3858M3858 2557H4060M2640 3084H2843M4473 3084H4640M3858 3753H4060"/>
<path stroke="#15538d" stroke-width="54" fill="none" d="M3458 548H3650M3255 1314H3458M4473 1457H4640M2640 1935H2843M2843 1935H3050M2843 2127H3050M4640 2462H4735M2640 2605H2843M2843 2605H3050M4265 2605H4473M4473 2605H4640M2640 4088H2843M3255 4088H3458"/>
<path stroke="#0f5e8d" stroke-width="54" fill="none" d="M2640 835H2843M4473 835H4640M2640 883H2843M4473 883H4640M2640 931H2843M4473 931H4640M2640 3275H2843M2843 3275H3050M3050 3275H3255M2640 3323H2843M2843 3323H3050M3050 3323H3255M2640 3371H2843M2843 3371H3050M3050 3371H3255M2640 3418H2843M2843 3418H3050M3050 3418H3255M2640 3466H2843M2843 3466H3050M3050 3466H3255M3650 4088H3858M3858 4088H4060"/>
<path stroke="#0a6a8e" stroke-width="54" fill="none" d="M3050 453H3255M3255 453H3458M3458 453H3650M4060 453H4265M3050 500H3255M3458 500H3650M4640 500H4735M3050 548H3255M3050 596H3255M3458 596H3650M2843 644H3050M3050 644H3255M3050 835H3255M3255 835H3458M3458 835H3650M4640 835H4735M3050 883H3255M3255 883H3458M3458 883H3650M3650 883H3858M4640 883H4735M3050 931H3255M3255 931H3458M3458 931H3650M4640 931H4735M2640 1122H2843M2640 1170H2843M3255 1361H3458M3255 1409H3458M2640 1457H2843M2843 1457H3050M3255 1457H3458M3650 1457H3858M3858 1457H4060M2640 1505H2843M2843 1505H3050M3255 1505H3458M3650 1505H3858M3858 1505H4060M4473 1505H4640M3255 1553H3458M3650 1553H3858M3858 1553H4060M3255 1601H3458M3255 1648H3458M4473 1648H4640M3255 1696H3458M3255 1744H3458M4060 1792H4265M4060 1888H4265M4473 1888H4640M3050 1935H3255M4473 1935H4640M2640 1983H2843M2843 1983H3050M3050 1983H3255M2640 2031H2843M2843 2031H3050M4060 2031H4265M2640 2079H2843M2843 2079H3050M2640 2127H2843M2640 2175H2843M2843 2175H3050M3458 2318H3650M3050 2414H3255M3255 2557H3458M2640 2701H2843M2843 2701H3050M4640 2701H4735M2640 2749H2843M2843 2749H3050M2640 2797H2843M2843 2797H3050M2640 2844H2843M2843 2844H3050M2640 2892H2843M2843 2892H3050M3458 2892H3650M4265 2892H4473M2640 2940H2843M2843 2940H3050M2640 2988H2843M3050 2988H3255M4060 2988H4265M2640 3036H2843M2843 3036H3050M2843 3084H3050M3050 3179H3255M3458 3275H3650M4265 3275H4473M4473 3275H4640M3458 3323H3650M4060 3323H4265M4265 3323H4473M4473 3323H4640M4640 3323H4735M3458 3371H3650M4060 3371H4265M4265 3371H4473M4473 3371H4640M4640 3371H4735M3458 3418H3650M4060 3418H4265M4265 3418H4473M4473 3418H4640M4640 3418H4735M3458 3466H3650M4060 3466H4265M4265 3466H4473M4473 3466H4640M4640 3466H4735M4265 3514H4473M4473 3514H4640M3255 3562H3458M3650 3562H3858M3858 3562H4060M3650 3610H3858M3858 3610H4060M3650 3753H3858M3255 3801H3458M2640 3945H2843M3255 3945H3458M2640 3992H2843M3255 3992H3458M4473 3992H4640M4473 4088H4640M3255 4136H3458M2640 4375H2843M2843 4375H3050"/>
<path stroke="#02818d" stroke-width="54" fill="none" d="M3050 357H3255M3255 357H3458M3458 357H3650M3650 357H3858M3858 357H4060M4060 357H4265M4640 357H4735M3050 405H3255M3458 405H3650M3858 405H4060M4060 405H4265M4640 405H4735M2843 453H3050M3650 453H3858M3858 453H4060M4640 453H4735M3255 500H3458M3650 500H3858M4060 500H4265M3650 548H3858M4060 548H4265M4640 548H4735M3858 596H4060M4060 596H4265M4640 596H4735M3255 644H3458M3458 644H3650M3650 644H3858M3858 644H4060M4060 644H4265M4640 644H4735M3050 692H3255M3255 692H3458M3458 692H3650M3650 692H3858M3858 692H4060M4060 692H4265M4640 692H4735M3050 740H3255M3255 740H3458M3458 740H3650M3650 740H3858M3858 740H4060M4060 740H4265M4640 740H4735M3050 787H3255M3255 787H3458M3458 787H3650M3650 787H3858M3858 787H4060M4060 787H4265M4640 787H4735M3650 835H3858M3858 835H4060M4060 835H4265M3858 883H4060M4060 883H4265M3858 931H4060M4060 931H4265M2640 979H2843M3050 979H3255M3255 979H3458M3458 979H3650M3650 979H3858M3858 979H4060M4060 979H4265M4473 979H4640M4640 979H4735M2640 1027H2843M3050 1027H3255M3255 1027H3458M3458 1027H3650M3650 1027H3858M4060 1027H4265M4640 1027H4735M2640 1074H2843M3050 1074H3255M3255 1074H3458M3458 1074H3650M3650 1074H3858M3858 1074H4060M4640 1074H4735M3255 1122H3458M3458 1122H3650M3650 1122H3858M3858 1122H4060M4640 1122H4735M3050 1170H3255M3255 1170H3458M3458 1170H3650M3650 1170H3858M3858 1170H4060M4640 1170H4735M3050 1218H3255M3255 1218H3458M3458 1218H3650M3650 1218H3858M3858 1218H4060M4640 1218H4735M2640 1266H2843M3050 1266H3255M3255 1266H3458M3458 1266H3650M3650 1266H3858M3858 1266H4060M4640 1266H4735M2640 1314H2843M2843 1314H3050M3650 1314H3858M3858 1314H4060M4060 1314H4265M4640 1314H4735M2640 1361H2843M3650 1361H3858M3858 1361H4060M4060 1361H4265M4640 1361H4735M2640 1409H2843M2843 1409H3050M3458 1409H3650M3650 1409H3858M3858 1409H4060M4060 1409H4265M4640 1409H4735M4265 1457H4473M3458 1505H3650M4265 1505H4473M2640 1553H2843M2843 1553H3050M3458 1553H3650M4473 1553H4640M4640 1553H4735M2640 1601H2843M2843 1601H3050M3458 1601H3650M3650 1601H3858M3858 1601H4060M4640 1601H4735M2640 1648H2843M2843 1648H3050M3858 1648H4060M4640 1648H4735M2640 1696H2843M2843 1696H3050M3650 1696H3858M3858 1696H4060M4640 1696H4735M2640 1744H2843M2843 1744H3050M3458 1744H3650M3650 1744H3858M3858 1744H4060M4640 1744H4735M2640 1792H2843M2843 1792H3050M3050 1792H3255M3458 1792H3650M4265 1792H4473M4473 1792H4640M4640 1792H4735M2640 1840H2843M2843 1840H3050M3050 1840H3255M3458 1840H3650M3650 1840H3858M3858 1840H4060M4060 1840H4265M4265 1840H4473M4473 1840H4640M4640 1840H4735M2640 1888H2843M2843 1888H3050M3050 1888H3255M3458 1888H3650M3650 1888H3858M4265 1888H4473M4640 1888H4735M3255 1935H3458M3458 1935H3650M3650 1935H3858M3858 1935H4060M4060 1935H4265M4265 1935H4473M4640 1935H4735M3458 1983H3650M3650 1983H3858M3858 1983H4060M4060 1983H4265M4473 1983H4640M4640 1983H4735M3050 2031H3255M3458 2031H3650M4265 2031H4473M4473 2031H4640M4640 2031H4735M3050 2079H3255M3458 2079H3650M3650 2079H3858M3858 2079H4060M4060 2079H4265M4473 2079H4640M4640 2079H4735M3050 2127H3255M3650 2127H3858M3858 2127H4060M4060 2127H4265M4265 2127H4473M4473 2127H4640M4640 2127H4735M3050 2175H3255M3458 2175H3650M4060 2175H4265M4265 2175H4473M4473 2175H4640M4640 2175H4735M2640 2222H2843M2843 2222H3050M3050 2222H3255M3650 2222H3858M3858 2222H4060M4060 2222H4265M4265 2222H4473M4473 2222H4640M2640 2270H2843M2843 2270H3050M3255 2270H3458M3650 2270H3858M3858 2270H4060M4060 2270H4265M4265 2270H4473M4473 2270H4640M3255 2318H3458M3650 2318H3858M3858 2318H4060M4060 2318H4265M4640 2318H4735M2640 2366H2843M2843 2366H3050M3255 2366H3458M3650 2366H3858M3858 2366H4060M4060 2366H4265M4265 2366H4473M4473 2366H4640M2640 2414H2843M2843 2414H3050M3255 2414H3458M4060 2414H4265M4265 2414H4473M4473 2414H4640M4640 2414H4735M2640 2462H2843M2843 2462H3050M3050 2462H3255M3255 2462H3458M3650 2462H3858M3858 2462H4060M4060 2462H4265M4265 2462H4473M4473 2462H4640M2640 2509H2843M2843 2509H3050M3255 2509H3458M3650 2509H3858M3858 2509H4060M4060 2509H4265M4265 2509H4473M4473 2509H4640M4060 2557H4265M4265 2557H4473M4473 2557H4640M3255 2605H3458M4640 2605H4735M2640 2653H2843M2843 2653H3050M3050 2653H3255M3255 2653H3458M3650 2653H3858M3858 2653H4060M4060 2653H4265M4265 2653H4473M4473 2653H4640M3050 2701H3255M3458 2701H3650M4060 2701H4265M4265 2701H4473M4473 2701H4640M3050 2749H3255M3458 2749H3650M4060 2749H4265M4265 2749H4473M4473 2749H4640M4640 2749H4735M3050 2797H3255M3458 2797H3650M4060 2797H4265M4265 2797H4473M4473 2797H4640M4640 2797H4735M3050 2844H3255M4060 2844H4265M4265 2844H4473M4473 2844H4640M4640 2844H4735M4473 2892H4640M3050 2940H3255M3458 2940H3650M4265 2940H4473M4473 2940H4640M4640 2940H4735M3458 2988H3650M4473 2988H4640M4640 2988H4735M3050 3036H3255M3458 3036H3650M4060 3036H4265M4265 3036H4473M4473 3036H4640M4640 3036H4735M3458 3084H3650M4640 3084H4735M2640 3131H2843M2843 3131H3050M3050 3131H3255M3458 3131H3650M4060 3131H4265M4265 3131H4473M4473 3131H4640M4640 3131H4735M2640 3179H2843M2843 3179H3050M3458 3179H3650M4060 3179H4265M4265 3179H4473M4473 3179H4640M4640 3179H4735M2640 3227H2843M2843 3227H3050M3050 3227H3255M3458 3227H3650M4060 3227H4265M4265 3227H4473M4473 3227H4640M4640 3227H4735M4060 3275H4265M4640 3275H4735M2640 3514H2843M2843 3514H3050M3050 3514H3255M3255 3514H3458M4060 3514H4265M2640 3562H2843M2843 3562H3050M4265 3562H4473M4473 3562H4640M2640 3610H2843M2843 3610H3050M3255 3610H3458M4473 3610H4640M2640 3658H2843M2843 3658H3050M3255 3658H3458M3650 3658H3858M3858 3658H4060M4473 3658H4640M2640 3705H2843M2843 3705H3050M3255 3705H3458M3650 3705H3858M3858 3705H4060M4265 3705H4473M4473 3705H4640M2640 3753H2843M2843 3753H3050M3458 3753H3650M4265 3753H4473M4473 3753H4640M4640 3753H4735M3458 3801H3650M3650 3801H3858M3858 3801H4060M4265 3801H4473M4473 3801H4640M4640 3801H4735M2640 3849H2843M2843 3849H3050M3255 3849H3458M3650 3849H3858M3858 3849H4060M4265 3849H4473M4473 3849H4640M2640 3897H2843M2843 3897H3050M3050 3897H3255M3255 3897H3458M3458 3897H3650M3650 3897H3858M3858 3897H4060M4265 3897H4473M4473 3897H4640M4640 3897H4735M3050 3945H3255M3458 3945H3650M3650 3945H3858M3858 3945H4060M4473 3945H4640M4640 3945H4735M3050 3992H3255M3650 3992H3858M3858 3992H4060M4640 3992H4735M2640 4040H2843M3050 4040H3255M3255 4040H3458M3650 4040H3858M3858 4040H4060M4473 4040H4640M4640 4040H4735M3050 4088H3255M3458 4088H3650M4640 4088H4735M2640 4136H2843M2843 4136H3050M3050 4136H3255M3650 4136H3858M3858 4136H4060M4473 4136H4640M4640 4136H4735M2640 4184H2843M3050 4184H3255M3255 4184H3458M3458 4184H3650M3650 4184H3858M3858 4184H4060M4060 4184H4265M4473 4184H4640M4640 4184H4735M2640 4232H2843M3050 4232H3255M3255 4232H3458M3458 4232H3650M3650 4232H3858M3858 4232H4060M4060 4232H4265M4473 4232H4640M4640 4232H4735M2640 4279H2843M3050 4279H3255M3255 4279H3458M3458 4279H3650M3650 4279H3858M3858 4279H4060M4060 4279H4265M4473 4279H4640M4640 4279H4735M2640 4327H2843M3050 4327H3255M3255 4327H3458M3458 4327H3650M3650 4327H3858M3858 4327H4060M4060 4327H4265M4473 4327H4640M4640 4327H4735M3255 4375H3458M3458 4375H3650M3650 4375H3858M3858 4375H4060M4060 4375H4265M4640 4375H4735M2640 4423H2843M2843 4423H3050M3255 4423H3458M3650 4423H3858M3858 4423H4060M4265 4423H4473M4640 4423H4735M2640 4471H2843M2843 4471H3050M3255 4471H3458M3650 4471H3858M3858 4471H4060M4060 4471H4265M4265 4471H4473M4640 4471H4735M2640 4519H2843M2843 4519H3050M3255 4519H3458M3650 4519H3858M3858 4519H4060M4060 4519H4265M4640 4519H4735M2640 4566H2843M2843 4566H3050M3255 4566H3458M3650 4566H3858M3858 4566H4060M4060 4566H4265M4640 4566H4735M2640 4614H2843M2843 4614H3050M3255 4614H3458M3458 4614H3650M3650 4614H3858M3858 4614H4060M4060 4614H4265M4640 4614H4735M2640 4662H2843M2843 4662H3050M3255 4662H3458M3650 4662H3858M3858 4662H4060M4060 4662H4265M4265 4662H4473M4640 4662H4735M2640 4710H2843M2843 4710H3050M3255 4710H3458M3650 4710H3858M3858 4710H4060M4060 4710H4265M4265 4710H4473M4640 4710H4735M2640 4758H2843M2843 4758H3050M3255 4758H3458M3458 4758H3650M3650 4758H3858M3858 4758H4060M4060 4758H4265M4265 4758H4473M4640 4758H4735M2640 4806H2843M2843 4806H3050M3050 4806H3255M3255 4806H3458M3650 4806H3858M3858 4806H4060M4060 4806H4265M4265 4806H4473M4473 4806H4640M2640 4853H2843M2843 4853H3050M3050 4853H3255M3255 4853H3458M3650 4853H3858M3858 4853H4060M4060 4853H4265M4265 4853H4473M4473 4853H4640M2640 4901H2843M2843 4901H3050M3255 4901H3458M3650 4901H3858M3858 4901H4060M4265 4901H4473M4473 4901H4640M2640 4949H2843M2843 4949H3050M3050 4949H3255M3255 4949H3458M3650 4949H3858M3858 4949H4060M4060 4949H4265M4265 4949H4473M4473 4949H4640"/>
<path stroke="#009588" stroke-width="54" fill="none" d="M2843 357H3050M2843 405H3050M4265 405H4473M4265 453H4473M3858 500H4060M3858 548H4060M4265 644H4473M4473 644H4640M4473 1027H4640M4060 1074H4265M4473 1074H4640M3050 1122H3255M4060 1218H4265M4060 1266H4265M3458 1314H3650M4265 1314H4473M2843 1361H3050M3458 1361H3650M4265 1361H4473M4265 1409H4473M3458 1457H3650M4060 1505H4265M4640 1505H4735M4265 1553H4473M4265 1601H4473M4265 1648H4473M3458 1696H3650M4265 1696H4473M4060 1744H4265M4265 1744H4473M4265 1983H4473M3050 2270H3255M2640 2318H2843M2843 2318H3050M4265 2318H4473M3858 2414H4060M2640 2557H2843M2843 2557H3050M4060 2605H4265M3458 2844H3650M3050 2892H3255M4060 2892H4265M4265 3084H4473M3255 3227H3458M3458 3610H3650M4265 3610H4473M4265 3658H4473M2640 3801H2843M2843 3801H3050M4060 3897H4265M3458 4040H3650M2843 4088H3050M4060 4088H4265M4265 4375H4473M3458 4423H3650M4060 4423H4265M3458 4471H3650M3458 4519H3650M4265 4519H4473M3458 4566H3650M4265 4566H4473M4265 4614H4473M3458 4662H3650M3458 4710H3650M4060 4901H4265"/>
<path stroke="#009d82" stroke-width="54" fill="none" d="M4265 357H4473M4473 453H4640M2843 500H3050M4265 548H4473M3255 596H3458M3650 596H3858M2843 692H3050M3858 1027H4060M4060 1122H4265M4060 1170H4265M4473 1170H4640M2640 1218H2843M4060 1553H4265M4060 1601H4265M3650 1648H3858M4060 1696H4265M3650 1792H3858M3458 2127H3650M3458 2222H3650M3050 2318H3255M4473 2318H4640M3050 2366H3255M3650 2414H3858M3050 2509H3255M3050 2557H3255M3050 2605H3255M3650 2605H3858M3858 2605H4060M4640 2892H4735M4060 2940H4265M2843 2988H3050M4265 2988H4473M3050 3084H3255M4060 3084H4265M3255 3179H3458M3650 3179H3858M3650 3227H3858M3858 3227H4060M4640 3514H4735M3458 3562H3650M4640 3610H4735M3458 3658H3650M4640 3658H4735M3458 3705H3650M4640 3705H4735M4060 3753H4265M4060 3801H4265M4640 3849H4735M2843 3945H3050M4060 3945H4265M3458 3992H3650M4060 3992H4265M2843 4040H3050M4060 4040H4265M3458 4136H3650M4060 4136H4265M2843 4184H3050M3050 4375H3255M3050 4901H3255"/>
<path stroke="#00a57d" stroke-width="54" fill="none" d="M4265 500H4473M2843 548H3050M3255 548H3458M4473 548H4640M4473 596H4640M4265 692H4473M2843 740H3050M4473 787H4640M3650 931H3858M4473 1122H4640M4473 1218H4640M4473 1266H4640M4640 1457H4735M3858 1792H4060M3255 1840H3458M3858 1888H4060M3650 2031H3858M3858 2031H4060M3255 2079H3458M4265 2079H4473M3650 2175H3858M3858 2175H4060M4640 2222H4735M4640 2557H4735M4640 2653H4735M3255 2701H3458M3858 2749H4060M3255 2797H3458M3858 2797H4060M3255 2844H3458M3858 2844H4060M3255 2892H3458M3858 2892H4060M3255 2940H3458M3858 2940H4060M3255 2988H3458M3858 2988H4060M3255 3036H3458M3858 3036H4060M3255 3084H3458M3650 3084H3858M3858 3084H4060M3255 3131H3458M3650 3131H3858M3858 3131H4060M3255 3275H3458M3255 3323H3458M3255 3466H3458M3458 3514H3650M3650 3514H3858M3858 3514H4060M4640 3562H4735M4060 3610H4265M4060 3658H4265M4060 3705H4265M3050 3753H3255M3050 3801H3255M3050 3849H3255M2843 3992H3050M2843 4232H3050M3050 4519H3255M3050 4566H3255M3050 4614H3255M3050 4662H3255M3050 4758H3255M4640 4901H4735M3458 4949H3650"/>
<path stroke="#00ad72" stroke-width="54" fill="none" d="M4265 3992H4473M4265 4327H4473"/>
<path stroke="#08b564" stroke-width="54" fill="none" d="M4473 405H4640M2843 596H3050M4473 692H4640M4265 740H4473M4473 740H4640M2843 787H3050M4265 1218H4473M2843 1266H3050M4265 1266H4473M4473 1314H4640M4473 1361H4640M4473 1409H4640M4060 1457H4265M3050 1648H3255M4473 1744H4640M3255 2127H3458M3255 2222H3458M3458 2557H3650M3858 2701H4060M3255 2749H3458M3650 2892H3858M3650 2940H3858M3858 3179H4060M3650 3275H3858M3650 3371H3858M3255 3418H3458M3650 3466H3858M4060 3562H4265M3050 3610H3255M3050 3658H3255M3050 3705H3255M3458 3849H3650M4060 3849H4265M2843 4279H3050M4265 4279H4473M2843 4327H3050M3050 4423H3255M3050 4471H3255M3050 4710H3255M3458 4806H3650M4640 4806H4735M4640 4949H4735"/>
<path stroke="#14bd58" stroke-width="54" fill="none" d="M4473 357H4640M2640 405H2843M2640 453H2843M2640 596H2843M4265 596H4473M2640 644H2843M2640 740H2843M4265 787H4473M2843 1074H3050M4265 1074H4473M2843 1122H3050M2843 1170H3050M4265 1170H4473M2843 1218H3050M3050 1361H3255M3050 1409H3255M3050 1553H3255M3050 1601H3255M4473 1601H4640M4060 1648H4265M3050 1696H3255M4473 1696H4640M3255 1983H3458M3255 2031H3458M4640 2509H4735M3650 2701H3858M3650 2749H3858M3650 2844H3858M3650 2988H3858M3650 3036H3858M3858 3275H4060M3858 3323H4060M3255 3371H3458M3858 3466H4060M3458 4901H3650"/>
<path stroke="#29c349" stroke-width="54" fill="none" d="M3650 3323H3858M3650 3418H3858M4265 3945H4473M4265 4040H4473M4265 4232H4473M4473 4423H4640M4473 4519H4640M4473 4566H4640M4473 4662H4640M4473 4710H4640"/>
<path stroke="#40ca38" stroke-width="54" fill="none" d="M4473 500H4640M2640 692H2843M2640 787H2843M2843 1027H3050M4265 1027H4473M4265 1122H4473M3050 1314H3255M3458 1648H3650M3050 1744H3255M3255 1792H3458M3255 1888H3458M3255 2175H3458M4640 2270H4735M4640 2366H4735M3458 2414H3650M3458 2509H3650M3458 2653H3650M3858 3371H4060M3858 3418H4060M3050 3562H3255M3458 4853H3650M4640 4853H4735"/>
<path stroke="#57d027" stroke-width="54" fill="none" d="M2640 357H2843M2640 500H2843M2640 548H2843M2843 931H3050M4265 931H4473M2843 979H3050M4265 979H4473M3050 1457H3255M3050 1505H3255M3458 2270H3650M3458 2366H3650M3458 2462H3650M3458 2605H3650M4265 4088H4473M4265 4136H4473M4473 4471H4640M4473 4614H4640M4473 4758H4640"/>
<path stroke="#92da00" stroke-width="54" fill="none" d="M4265 4184H4473M4473 4375H4640"/>
<path stroke="#b3df00" stroke-width="54" fill="none" d="M2843 835H3050M4265 835H4473M2843 883H3050M4265 883H4473"/>
<path stroke="#e7e300" stroke-width="54" fill="none" d="M3650 2797H3858"/>
<path stroke="#32157c" stroke-width="54" fill="none" d="M3335 3753H3380"/>
<path stroke="#2d2282" stroke-width="54" fill="none" d="M4623 3084H4640"/>
<path stroke="#272f87" stroke-width="54" fill="none" d="M3380 405H3405M3455 405H3458M3650 2557H3670M3695 2557H3715M3790 2557H3820M3858 2557H3883M3928 2557H3968M2710 3084H2735M2760 3084H2790M2840 3084H2843M4523 3084H4553M3255 3753H3335M4043 3753H4060"/>
<path stroke="#1b468c" stroke-width="54" fill="none" d="M3255 405H3285M3305 405H3335M3650 405H3670M3695 405H3760M3790 405H3820M3458 548H3488M3558 548H3588M3638 548H3650M3335 1314H3360M3380 1314H3405M3425 1314H3455M4498 1457H4523M2640 1935H2660M2760 1935H2790M2898 1935H2918M2873 2127H2898M4680 2462H4705M3670 2557H3695M3840 2557H3858M3968 2557H3998M4018 2557H4060M2660 2605H2690M2710 2605H2735M3013 2605H3043M4285 2605H4335M4365 2605H4390M4498 2605H4523M4623 2605H4640M2690 3084H2710M4473 3084H4523M2790 3466H2815M3883 3753H3928M3998 3753H4018M2640 4088H2660M2760 4088H2790M3335 4088H3360M3405 4088H3455"/>
<path stroke="#15538d" stroke-width="54" fill="none" d="M2660 835H2690M2815 835H2840M2640 883H2690M2790 883H2815M3715 883H3735M2660 931H2690M2760 931H2790M2815 931H2840M4473 1170H4483M3790 3227H3805M2690 3275H2710M3100 3275H3120M2640 3323H2660M2760 3323H2815M2690 3371H2710M4285 3466H4310"/>
<path stroke="#0f5e8d" stroke-width="54" fill="none" d="M3230 453H3250M3285 453H3305M3458 500H3488M3638 500H3650M3075 548H3100M3488 548H3538M3100 596H3120M3458 596H3488M3558 596H3588M3638 596H3650M3405 835H3425M3538 835H3558M3100 883H3120M3285 883H3360M3558 883H3588M3612 883H3638M3735 883H3820M4660 883H4680M3285 931H3305M3380 931H3405M3612 931H3638M3660 931H3670M2660 1122H2690M2815 1122H2840M3255 1314H3285M3405 1314H3425M3455 1314H3458M3360 1361H3380M3305 1409H3360M3425 1409H3455M3285 1457H3360M3425 1457H3458M3650 1457H3670M4473 1457H4498M4578 1457H4598M4623 1457H4640M2640 1505H2690M3790 1505H3820M3998 1505H4018M3305 1553H3335M3425 1553H3455M3760 1553H3790M3335 1601H3360M3425 1601H3455M3425 1648H3455M3765 1648H3775M4498 1648H4523M3285 1696H3335M3425 1696H3455M3425 1744H3458M4473 1888H4498M2735 1935H2760M2843 1935H2898M2918 1935H2963M4598 1935H4623M2963 2079H2988M3043 2079H3050M2640 2127H2660M2843 2127H2873M2918 2127H2963M2815 2175H2840M3043 2175H3050M2690 2605H2710M2790 2605H2815M2943 2605H2963M4470 2605H4473M4553 2605H4598M2660 2701H2690M2710 2701H2735M2873 2701H2898M4640 2701H4660M4680 2701H4705M2760 2749H2790M2918 2749H2943M3043 2749H3050M2710 2797H2735M2918 2797H2943M3043 2797H3050M2710 2844H2735M2843 2844H2873M2840 2892H2843M2640 2940H2660M2963 2940H2988M2710 2988H2735M2898 2988H2918M2710 3036H2735M2840 3036H2843M2898 3036H2918M3013 3036H3043M3270 3179H3280M3558 3275H3588M3612 3275H3638M4365 3275H4390M4470 3275H4473M4080 3323H4105M4160 3323H4180M4285 3323H4310M4640 3323H4660M3538 3371H3558M3588 3371H3612M4080 3371H4105M4210 3371H4235M4553 3371H4578M3558 3418H3588M3488 3466H3518M3538 3466H3558M3638 3466H3650M4080 3466H4105M4623 3466H4640M4640 3466H4660M4680 3466H4705M4470 3514H4473M3335 3562H3360M3405 3562H3425M3968 3562H3998M3840 3610H3858M3735 3753H3760M3335 3801H3405M3425 3801H3458M2760 3945H2790M3425 3945H3455M3360 3992H3380M4553 3992H4578M4623 3992H4640M2660 4088H2735M2790 4088H2815M4553 4088H4578M2840 4375H2843M2873 4375H2898M3638 4471H3648M3235 4901H3245"/>
<path stroke="#0a6a8e" stroke-width="54" fill="none" d="M2863 500H2878M3033 500H3043M3330 548H3350M3385 548H3395M4538 787H4548M2735 835H2760M2790 835H2815M2840 835H2843M4473 835H4498M2640 931H2660M4498 931H4523M4553 931H4578M3715 979H3735M3650 1027H3670M3715 1170H3735M4070 1170H4080M4640 1505H4650M4125 1553H4135M4165 1553H4175M2640 1696H2660M4125 1696H4135M2690 1935H2710M3290 2079H3305M3498 2222H3518M3558 2222H3578M3105 2318H3125M4583 2318H4603M3790 2605H3805M4260 2605H4265M4715 2892H4735M3043 2988H3050M4105 3084H4125M4185 3084H4195M4265 3084H4285M3290 3179H3305M3685 3227H3700M2660 3275H2690M2735 3275H2760M2790 3275H2843M2843 3275H2873M2918 3275H2943M2963 3275H3013M3120 3275H3140M3170 3275H3200M3250 3275H3255M2660 3323H2690M2735 3323H2760M2815 3323H2840M2918 3323H2943M2963 3323H2988M3013 3323H3043M3050 3323H3100M3140 3323H3170M3200 3323H3230M3290 3323H3305M2735 3371H2760M2790 3371H2840M2873 3371H2898M2918 3371H3013M3140 3371H3200M2640 3418H2660M2735 3418H2790M2815 3418H2843M2843 3418H2898M2918 3418H2943M2988 3418H3013M3043 3418H3050M3050 3418H3100M3170 3418H3200M2815 3466H2840M2873 3466H2898M3043 3466H3050M3050 3466H3100M3120 3466H3170M3250 3466H3255M2898 3514H2918M4680 3514H4690M3618 3705H3638M2815 3849H2840M2968 3945H2978M3013 3945H3023M3618 3992H3638M3695 3992H3715M2898 4040H2918M3255 4088H3285M3760 4088H3790M3928 4088H3948M4365 4279H4380M3225 4375H3235M3612 4758H3638M3105 4901H3125"/>
<path stroke="#06748e" stroke-width="54" fill="none" d="M2958 357H2968M3100 357H3120M3250 357H3255M3255 357H3285M3380 357H3405M3455 357H3458M3458 357H3488M3695 357H3715M4043 357H4060M4080 357H4105M4180 357H4235M3100 405H3120M3558 405H3588M3638 405H3650M4210 405H4235M2963 453H2988M3043 453H3050M3405 453H3425M3612 453H3638M3948 453H3968M4130 453H4210M4355 453H4365M4640 453H4660M4705 453H4735M3050 500H3100M3255 500H3285M3335 500H3360M3488 500H3538M3883 500H3903M3913 500H3933M4060 500H4080M4210 500H4235M4335 500H4355M4455 500H4473M4660 500H4680M4705 500H4735M3170 548H3230M4013 548H4023M4080 548H4105M4210 548H4235M4400 548H4415M3050 596H3075M3170 596H3200M3385 596H3395M3488 596H3518M4235 596H4265M2873 644H2943M2988 644H3013M3050 644H3075M3120 644H3140M3170 644H3200M3255 644H3285M3380 644H3405M3458 644H3488M3638 644H3650M4080 644H4105M4493 644H4508M4633 644H4640M3285 692H3305M3335 692H3360M3425 692H3455M3638 692H3650M3650 692H3670M3948 692H3968M4080 692H4105M3140 740H3170M3255 740H3285M3380 740H3405M3455 740H3458M3458 740H3488M3948 740H3968M4080 740H4105M3033 787H3043M3100 787H3120M3200 787H3255M3285 787H3305M3335 787H3360M3455 787H3458M3458 787H3488M3588 787H3612M4210 787H4265M3050 835H3075M3100 835H3120M3140 835H3230M3305 835H3335M3425 835H3455M3518 835H3538M3612 835H3650M3840 835H3858M4080 835H4105M3120 883H3200M3230 883H3250M3255 883H3285M3425 883H3455M3538 883H3558M3638 883H3650M3695 883H3715M3858 883H3883M3948 883H3968M4080 883H4105M4235 883H4265M4523 883H4553M3100 931H3230M3360 931H3380M3538 931H3558M3588 931H3612M3805 931H3815M3998 931H4018M4705 931H4735M2815 979H2840M3518 979H3538M3760 979H3790M4060 979H4080M2815 1027H2840M3380 1027H3405M3715 1027H3735M4080 1027H4105M4235 1027H4265M2815 1074H2840M3558 1074H3588M3650 1074H3670M3715 1074H3735M3760 1074H3790M3998 1074H4018M2690 1122H2710M2735 1122H2760M2840 1122H2843M3155 1122H3170M3405 1122H3425M3760 1122H3790M4165 1122H4175M2760 1170H2790M2840 1170H2843M3075 1170H3120M3380 1170H3405M3458 1170H3488M3650 1170H3670M3760 1170H3790M3998 1170H4018M4260 1170H4265M4640 1170H4660M2640 1218H2650M2795 1218H2805M3255 1218H3285M3380 1218H3405M3558 1218H3588M3715 1218H3735M3948 1218H3968M3998 1218H4018M2660 1266H2690M2815 1266H2840M3100 1266H3120M3715 1266H3735M3948 1266H3968M3998 1266H4018M4210 1266H4225M4400 1266H4415M2690 1314H2710M3528 1314H3538M4060 1314H4080M4160 1314H4210M2640 1361H2710M3305 1361H3335M3618 1361H3638M3650 1361H3670M3968 1361H3998M3538 1409H3558M3612 1409H3638M3858 1409H3883M4080 1409H4105M4130 1409H4160M4400 1409H4415M4425 1409H4445M2790 1457H2815M2943 1457H2963M2988 1457H3013M3380 1457H3425M3790 1457H3820M3883 1457H3928M3948 1457H3968M3998 1457H4018M4043 1457H4060M4415 1457H4440M2840 1505H2843M2918 1505H2963M2988 1505H3013M3255 1505H3285M3405 1505H3455M3488 1505H3518M3638 1505H3650M3670 1505H3715M3735 1505H3760M3820 1505H3840M3908 1505H3968M4018 1505H4043M4125 1505H4135M4523 1505H4553M4598 1505H4640M2843 1553H2873M2943 1553H2963M3285 1553H3305M3405 1553H3425M3695 1553H3715M3790 1553H3840M3908 1553H3968M4043 1553H4060M4105 1553H4125M4155 1553H4165M4640 1553H4660M3255 1601H3285M3405 1601H3425M3612 1601H3638M3858 1601H3883M3998 1601H4018M4640 1601H4660M2843 1648H2873M2898 1648H2918M3255 1648H3285M3405 1648H3425M3755 1648H3765M3805 1648H3815M4473 1648H4498M4660 1648H4680M2660 1696H2710M3043 1696H3050M4640 1696H4660M2660 1744H2710M2843 1744H2873M3140 1744H3155M3255 1744H3285M3360 1744H3405M3488 1744H3518M3558 1744H3588M4640 1744H4660M2988 1792H3013M3043 1792H3050M3230 1792H3250M3612 1792H3638M3745 1792H3765M4080 1792H4105M4160 1792H4210M4235 1792H4265M4578 1792H4598M4680 1792H4735M2640 1840H2660M2815 1840H2840M3043 1840H3050M3075 1840H3100M3170 1840H3200M3458 1840H3488M3518 1840H3588M3715 1840H3735M3968 1840H3998M2690 1888H2710M3612 1888H3638M3903 1888H3913M4180 1888H4210M4235 1888H4265M4285 1888H4310M4365 1888H4390M4553 1888H4578M4598 1888H4640M3050 1935H3075M3120 1935H3140M3250 1935H3255M3695 1935H3715M3840 1935H3858M4473 1935H4498M4640 1935H4660M2660 1983H2690M2735 1983H2815M2843 1983H2873M2918 1983H2943M3050 1983H3075M3100 1983H3170M3200 1983H3230M3250 1983H3255M3558 1983H3588M3612 1983H3638M3670 1983H3695M4060 1983H4080M4160 1983H4180M4335 1983H4355M4553 1983H4578M2660 2031H2690M2710 2031H2735M2843 2031H2873M2918 2031H2963M3013 2031H3043M3075 2031H3100M3230 2031H3250M4060 2031H4105M4180 2031H4210M4553 2031H4578M4705 2031H4735M2710 2079H2735M2760 2079H2815M2840 2079H2843M2943 2079H2963M2988 2079H3013M3075 2079H3100M3488 2079H3538M3670 2079H3695M4455 2079H4473M4598 2079H4623M2660 2127H2690M2710 2127H2790M2840 2127H2843M3695 2127H3715M4235 2127H4265M4335 2127H4365M4705 2127H4735M2690 2175H2710M2735 2175H2790M2840 2175H2843M2843 2175H2873M2918 2175H2943M3458 2175H3488M3612 2175H3638M3755 2175H3765M2640 2222H2660M2963 2222H2988M3998 2222H4043M4335 2222H4365M2690 2270H2735M2898 2270H2918M3908 2270H3928M4365 2270H4390M2830 2318H2843M3305 2318H3335M3488 2318H3518M3638 2318H3650M3908 2318H3928M3948 2318H3968M4080 2318H4105M4415 2318H4425M4455 2318H4473M4473 2318H4483M4613 2318H4623M4640 2318H4660M2873 2366H2898M2988 2366H3043M3380 2366H3405M3425 2366H3455M3650 2366H3670M3715 2366H3760M4130 2366H4160M4390 2366H4415M4623 2366H4640M2735 2414H2760M2843 2414H2873M2898 2414H2918M3140 2414H3200M3380 2414H3405M3755 2414H3765M3858 2414H3868M4285 2414H4310M4623 2414H4640M2898 2462H2918M2988 2462H3013M3455 2462H3458M3735 2462H3760M3908 2462H3928M4265 2462H4285M4390 2462H4415M4598 2462H4623M2660 2509H2690M3255 2509H3285M3405 2509H3425M3715 2509H3760M3790 2509H3820M4130 2509H4160M4285 2509H4310M4473 2509H4498M4623 2509H4640M2700 2557H2710M3285 2557H3335M3425 2557H3455M4440 2557H4470M4473 2557H4498M4623 2557H4640M4650 2557H4660M3050 2605H3060M3245 2605H3255M3255 2605H3285M3660 2605H3670M3943 2605H3963M4043 2605H4060M4640 2605H4660M3075 2653H3100M3380 2653H3405M3425 2653H3455M3695 2653H3715M3790 2653H3820M3948 2653H3968M4365 2653H4390M4523 2653H4553M4623 2653H4640M2790 2701H2815M2943 2701H2963M4130 2701H4160M4210 2701H4235M4285 2701H4310M4365 2701H4390M2690 2749H2710M2790 2749H2840M2898 2749H2918M2943 2749H3013M3518 2749H3538M3883 2749H3903M4060 2749H4080M4235 2749H4265M4470 2749H4473M4623 2749H4640M2735 2797H2790M2988 2797H3043M3100 2797H3120M3518 2797H3558M3943 2797H3973M4060 2797H4080M4578 2797H4598M4705 2797H4735M2690 2844H2710M2735 2844H2760M2943 2844H2963M3315 2844H3330M3478 2844H3488M4553 2844H4598M4623 2844H4640M2660 2892H2690M2735 2892H2760M2790 2892H2815M2943 2892H2963M2988 2892H3013M3225 2892H3235M3488 2892H3518M3588 2892H3612M4285 2892H4365M4415 2892H4473M4553 2892H4578M2690 2940H2710M3488 2940H3518M4125 2940H4135M4265 2940H4285M4578 2940H4598M2815 2988H2840M2933 2988H2948M2958 2988H2968M3050 2988H3075M3100 2988H3120M3250 2988H3255M3315 2988H3330M4105 2988H4130M4210 2988H4235M4553 2988H4578M2660 3036H2710M2790 3036H2815M2843 3036H2898M2943 3036H2963M2988 3036H3013M3140 3036H3170M4003 3036H4013M4473 3036H4523M4623 3036H4640M2943 3084H2963M2988 3084H3013M3105 3084H3125M2918 3131H2943M3013 3131H3043M4623 3131H4640M2735 3179H2760M2840 3179H2843M3043 3179H3050M3050 3179H3100M3170 3179H3200M3230 3179H3255M4473 3179H4498M4598 3179H4623M4660 3179H4680M2790 3227H2815M3013 3227H3043M3050 3227H3075M3963 3227H3973M4060 3227H4080M4553 3227H4578M4680 3227H4705M3140 3275H3170M3458 3275H3488M4105 3275H4130M4310 3275H4335M4623 3275H4640M4640 3275H4660M4680 3275H4705M2988 3323H3013M3488 3323H3518M4598 3323H4623M2843 3371H2873M3075 3371H3100M3458 3371H3488M4105 3371H4160M4310 3371H4335M4415 3371H4440M4473 3371H4498M4578 3371H4598M4623 3371H4640M4130 3418H4160M4265 3418H4285M4310 3418H4335M4415 3418H4470M4578 3418H4640M4660 3418H4680M4705 3418H4735M4060 3466H4080M4210 3466H4235M4310 3466H4390M4470 3466H4473M2690 3514H2710M2815 3514H2840M3100 3514H3120M3200 3514H3230M3285 3514H3335M3425 3514H3455M3973 3514H3983M4105 3514H4130M4235 3514H4265M4310 3514H4365M4390 3514H4440M4598 3514H4640M4640 3514H4650M4690 3514H4705M2760 3562H2790M3013 3562H3043M3305 3562H3335M3360 3562H3405M3650 3562H3670M3715 3562H3735M3760 3562H3790M4470 3562H4473M2760 3610H2790M3285 3610H3305M3335 3610H3360M3538 3610H3558M3695 3610H3715M3858 3610H3883M4018 3610H4043M4640 3610H4650M2640 3658H2660M3305 3658H3335M3405 3658H3425M3820 3658H3840M3948 3658H3998M4145 3658H4155M4498 3658H4553M2843 3705H2873M2898 3705H2918M3043 3705H3050M3360 3705H3380M3425 3705H3458M3638 3705H3648M4043 3705H4060M4285 3705H4310M4473 3705H4498M4623 3705H4640M2840 3753H2843M3043 3753H3050M3458 3753H3488M3558 3753H3588M3612 3753H3638M3715 3753H3735M4095 3753H4105M4125 3753H4135M4473 3753H4498M4623 3753H4640M2795 3801H2805M2958 3801H2978M3013 3801H3023M3255 3801H3285M3612 3801H3638M3695 3801H3715M4043 3801H4060M4105 3801H4125M4195 3801H4210M4285 3801H4310M4440 3801H4470M4680 3801H4705M2843 3849H2898M3043 3849H3050M3425 3849H3455M3695 3849H3715M3908 3849H3928M4043 3849H4060M4285 3849H4310M4623 3849H4640M2873 3897H2918M2963 3897H2988M3043 3897H3050M3075 3897H3100M3230 3897H3250M3360 3897H3380M3425 3897H3455M3518 3897H3538M3612 3897H3638M3948 3897H3968M4680 3897H4705M2660 3945H2690M2735 3945H2760M2840 3945H2843M2918 3945H2933M2958 3945H2968M3255 3945H3335M3518 3945H3538M3612 3945H3638M3908 3945H3928M3948 3945H3968M4018 3945H4043M4640 3945H4660M2640 3992H2690M2710 3992H2760M2790 3992H2815M3250 3992H3255M3255 3992H3285M3305 3992H3335M3455 3992H3458M3528 3992H3538M3820 3992H3840M3858 3992H3883M4523 3992H4553M4578 3992H4598M2760 4040H2790M3380 4040H3425M3608 4040H3618M3650 4040H3670M3760 4040H3790M4260 4040H4265M4623 4040H4640M2958 4088H2968M3013 4088H3023M3120 4088H3140M3458 4088H3488M3518 4088H3538M3612 4088H3638M4095 4088H4105M4498 4088H4553M4578 4088H4623M2640 4136H2660M3013 4136H3043M3050 4136H3075M3140 4136H3170M3250 4136H3255M3255 4136H3285M3305 4136H3335M3648 4136H3650M3650 4136H3670M3820 4136H3840M3858 4136H3883M4043 4136H4060M4260 4136H4265M4473 4136H4498M4623 4136H4640M2840 4184H2843M3255 4184H3285M3405 4184H3425M3695 4184H3715M3735 4184H3790M4473 4184H4498M4598 4184H4623M4660 4184H4680M2840 4232H2843M3458 4232H3488M3883 4232H3908M3948 4232H3968M4235 4232H4265M4578 4232H4623M4705 4232H4735M2998 4279H3013M3455 4279H3458M3458 4279H3488M3735 4279H3760M3790 4279H3820M3883 4279H3908M4235 4279H4265M4680 4279H4735M3425 4327H3455M3948 4327H3968M3998 4327H4018M4060 4327H4080M4598 4327H4623M4640 4327H4660M2640 4375H2690M2710 4375H2815M2843 4375H2873M4455 4375H4473M2898 4423H2918M3455 4423H3458M3528 4423H3538M3735 4423H3760M3883 4423H3908M4335 4423H4365M4660 4423H4680M4705 4423H4735M2790 4471H2815M2840 4471H2843M3455 4471H3458M3715 4471H3735M3790 4471H3820M4130 4471H4160M4310 4471H4335M4705 4471H4735M3190 4519H3205M3405 4519H3425M3468 4519H3478M3618 4519H3638M3648 4519H3650M3790 4519H3820M3883 4519H3908M4235 4519H4265M4455 4519H4473M4705 4519H4735M2710 4566H2735M2790 4566H2815M2840 4566H2843M3638 4566H3648M3948 4566H3998M4390 4566H4400M4425 4566H4445M4455 4566H4473M4640 4566H4660M2640 4614H2660M2840 4614H2843M2988 4614H3013M3425 4614H3455M3558 4614H3588M3612 4614H3638M3858 4614H3908M4043 4614H4060M4285 4614H4305M2640 4662H2660M2690 4662H2710M2735 4662H2790M2873 4662H2898M3360 4662H3380M3650 4662H3670M3760 4662H3790M3820 4662H3840M3908 4662H3928M4018 4662H4043M4265 4662H4285M2690 4710H2710M2918 4710H2943M2988 4710H3013M3650 4710H3695M3760 4710H3790M3928 4710H3948M4018 4710H4043M4080 4710H4105M4335 4710H4365M4415 4710H4440M2690 4758H2710M2873 4758H2898M3013 4758H3043M3968 4758H4018M4105 4758H4130M4180 4758H4210M4310 4758H4335M4680 4758H4705M2873 4806H2898M2988 4806H3013M3100 4806H3120M3650 4806H3695M3908 4806H3928M3998 4806H4018M4105 4806H4130M4310 4806H4335M4498 4806H4553M2988 4853H3013M3050 4853H3075M4105 4853H4130M4160 4853H4180M4415 4853H4440M4578 4853H4598M2988 4901H3013M3760 4901H3820M3928 4901H3948M4578 4901H4598M2690 4949H2710M2873 4949H2898M2918 4949H2943M2988 4949H3013M3050 4949H3075M3715 4949H3735M3968 4949H3998M4018 4949H4043M4130 4949H4160M4553 4949H4578"/>
<path stroke="#02818d" stroke-width="54" fill="none" d="M2933 357H2948M4425 357H4445M2933 405H2948M2958 405H2968M2978 405H2998M3013 405H3023M4265 405H4285M4455 405H4473M4633 405H4640M4425 453H4445M4528 453H4538M2958 500H2968M3013 500H3023M4013 500H4023M3858 548H3868M3883 548H3903M3993 548H4003M4285 548H4305M4528 548H4538M3670 596H3685M3825 596H3845M4528 596H4538M4285 644H4305M4473 644H4483M4538 644H4548M2863 692H2878M3033 692H3043M3033 740H3043M4483 787H4493M4623 787H4633M3050 883H3075M4705 883H4735M3913 1027H3933M4548 1027H4563M4613 1027H4623M4175 1074H4185M4210 1074H4225M4473 1074H4483M4583 1074H4603M2948 1122H2958M4185 1122H4210M4175 1170H4185M4195 1170H4210M4225 1170H4240M4125 1218H4135M4185 1218H4195M4060 1266H4080M4613 1266H4623M4390 1314H4400M4425 1314H4455M2878 1361H2898M2958 1361H2968M3255 1361H3285M3488 1361H3498M3638 1361H3648M4400 1361H4415M4390 1409H4400M3478 1457H3498M3695 1457H3715M4125 1457H4135M4390 1553H4400M4105 1601H4135M4155 1601H4165M4315 1601H4335M4390 1601H4400M3730 1648H3745M3825 1648H3845M4400 1648H4415M3458 1696H3468M3648 1696H3650M4365 1696H4380M4455 1696H4473M4060 1744H4070M4125 1744H4135M4210 1744H4225M4335 1744H4355M4390 1744H4425M3720 1792H3730M3775 1792H3790M3815 1792H3825M3858 1792H3868M4623 1935H4640M4315 1983H4335M4445 1983H4455M3685 2031H3700M2918 2079H2943M3558 2127H3578M2660 2175H2690M3290 2222H3305M3050 2270H3060M3245 2270H3255M2710 2318H2730M2745 2318H2765M2775 2318H2795M2805 2318H2830M3013 2318H3023M3050 2318H3060M4265 2318H4285M4335 2318H4355M4425 2318H4445M4650 2366H4660M3200 2414H3230M3660 2414H3670M3868 2414H3883M3983 2414H4013M3215 2509H3225M2710 2557H2730M2745 2557H2765M2820 2557H2830M2918 2557H2948M2968 2557H2978M3043 2557H3050M3080 2557H3090M3190 2557H3205M3245 2557H3255M3140 2605H3155M3190 2605H3205M3670 2605H3685M4003 2605H4013M3305 2701H3315M3290 2749H3305M2988 2844H3013M3270 2844H3280M3468 2844H3478M3518 2844H3528M3578 2844H3608M3648 2844H3650M3280 2892H3290M3973 2892H3983M4070 2892H4080M4640 2892H4650M4690 2892H4705M2898 2940H2918M2863 2988H2878M3858 2988H3868M3943 2988H3963M4235 2988H4265M4355 2988H4380M4390 2988H4400M3883 3036H3903M3973 3036H3983M3170 3084H3190M3305 3084H3330M3993 3084H4003M3365 3131H3385M3450 3131H3458M3775 3131H3790M3450 3179H3458M3845 3179H3858M3255 3227H3270M3280 3227H3305M3450 3227H3458M3700 3227H3710M3745 3227H3765M3518 3275H3538M3825 3275H3845M3458 3323H3488M3435 3418H3450M3528 3514H3538M3963 3514H3973M3468 3562H3478M3245 3610H3255M3488 3610H3498M4145 3610H4155M4400 3610H4415M3468 3658H3478M4240 3658H4260M4335 3658H4355M4380 3658H4390M4400 3658H4415M3538 3705H3558M3578 3705H3598M3608 3705H3618M3648 3705H3650M4155 3705H4165M4225 3705H4240M3170 3753H3190M4105 3753H4125M2700 3801H2710M2820 3801H2830M2918 3801H2933M3285 3801H3305M4095 3801H4105M3488 3849H3498M4095 3897H4105M4155 3897H4165M2843 3945H2853M4125 3945H4135M3013 3992H3023M3468 3992H3478M3488 3992H3498M3608 3992H3618M3648 3992H3650M2843 4040H2853M2958 4040H2968M3013 4040H3023M3478 4040H3488M3498 4040H3518M3528 4040H3538M3578 4040H3598M3618 4040H3648M2863 4088H2878M2898 4088H2918M2948 4088H2958M2968 4088H2978M3528 4136H3538M3618 4136H3638M4095 4136H4105M4125 4136H4135M2843 4184H2853M2863 4184H2878M2933 4184H2948M2958 4184H2968M3023 4184H3033M4305 4375H4315M4335 4375H4355M4365 4375H4380M4400 4375H4415M3488 4423H3498M3598 4423H3608M3638 4423H3650M4070 4423H4080M4145 4423H4155M4210 4423H4225M3468 4471H3478M3528 4471H3538M3225 4519H3235M3478 4519H3488M3638 4519H3648M4335 4519H4355M4365 4519H4380M4425 4519H4445M3090 4566H3105M3225 4566H3235M3498 4566H3518M3598 4566H3608M4285 4566H4305M4445 4566H4455M3225 4614H3235M4305 4614H4315M4365 4614H4380M4425 4614H4445M3235 4662H3245M3538 4662H3578M3235 4710H3245M3518 4710H3528M3598 4710H3608M3648 4710H3650M3235 4758H3245M3648 4853H3650M3125 4901H3140M3205 4901H3215M4155 4901H4165M4240 4901H4265M3648 4949H3650"/>
<path stroke="#008d8c" stroke-width="54" fill="none" d="M2878 357H2898M3170 357H3200M3305 357H3335M3405 357H3455M3670 357H3695M3760 357H3790M3968 357H3998M4105 357H4180M4355 357H4365M4640 357H4660M2690 405H2700M2853 405H2863M2878 405H2918M2998 405H3013M3033 405H3050M3050 405H3075M3140 405H3170M3488 405H3518M3883 405H3908M4043 405H4060M4060 405H4080M4130 405H4180M4355 405H4365M4445 405H4455M4483 405H4493M2918 453H2963M3013 453H3043M3650 453H3670M3695 453H3760M3820 453H3840M3883 453H3928M3968 453H4018M4400 453H4415M4603 453H4623M4680 453H4705M2853 500H2863M2878 500H2898M3650 500H3670M3735 500H3760M3790 500H3820M3903 500H3913M4003 500H4013M4105 500H4160M4528 500H4538M3033 548H3043M3650 548H3695M3820 548H3840M3868 548H3883M3913 548H3933M4060 548H4080M4130 548H4160M4180 548H4210M4640 548H4660M3720 596H3730M3775 596H3790M3908 596H3928M3998 596H4018M4043 596H4060M4060 596H4080M4180 596H4210M4640 596H4660M4680 596H4705M3425 644H3455M3518 644H3538M3588 644H3612M3650 644H3695M3735 644H3760M3858 644H3883M3908 644H3928M3968 644H3998M4043 644H4060M4265 644H4285M4305 644H4335M4365 644H4380M4425 644H4445M4455 644H4473M4603 644H4613M4640 644H4660M3050 692H3075M3170 692H3200M3518 692H3538M3612 692H3638M3695 692H3715M3735 692H3760M3858 692H3883M4130 692H4160M4180 692H4210M3013 740H3023M3075 740H3100M3170 740H3200M3230 740H3250M3305 740H3335M3405 740H3425M3488 740H3518M3538 740H3558M3612 740H3638M3650 740H3670M3695 740H3760M3820 740H3840M3908 740H3948M3968 740H3998M4105 740H4130M4160 740H4180M4473 740H4483M4640 740H4705M3013 787H3023M3050 787H3075M3405 787H3425M3488 787H3518M3650 787H3670M3715 787H3735M3858 787H3928M4130 787H4210M4425 787H4445M4633 787H4640M4680 787H4705M3670 835H3695M3908 835H3948M4160 835H4180M4235 835H4265M3908 883H3928M3968 883H3998M4018 883H4060M4180 883H4210M3845 931H3858M3908 931H3928M4018 931H4043M4060 931H4080M4105 931H4130M4180 931H4235M2640 979H2660M2735 979H2760M2790 979H2815M2840 979H2843M3170 979H3200M3230 979H3250M3255 979H3285M3335 979H3360M3425 979H3458M3488 979H3518M3840 979H3858M3883 979H3928M4105 979H4130M4455 979H4473M4578 979H4598M4680 979H4735M2690 1027H2710M2735 1027H2760M2840 1027H2843M3050 1027H3075M3140 1027H3200M3250 1027H3255M3670 1027H3715M3820 1027H3858M3983 1027H3993M4003 1027H4013M4060 1027H4080M4105 1027H4130M4160 1027H4210M4473 1027H4493M4583 1027H4603M4705 1027H4735M2640 1074H2660M2735 1074H2760M2840 1074H2843M3120 1074H3140M3170 1074H3200M3250 1074H3255M3255 1074H3285M3305 1074H3335M3380 1074H3405M3425 1074H3455M3670 1074H3715M3790 1074H3820M3840 1074H3858M3883 1074H3928M3968 1074H3998M4018 1074H4060M4060 1074H4070M4080 1074H4105M4125 1074H4135M4165 1074H4175M4185 1074H4210M4305 1074H4315M4548 1074H4563M4613 1074H4623M4680 1074H4705M2968 1122H2978M3060 1122H3080M3140 1122H3155M3170 1122H3190M3695 1122H3715M3820 1122H3858M3948 1122H3968M4080 1122H4105M4175 1122H4185M4240 1122H4260M4305 1122H4315M4583 1122H4603M4705 1122H4735M3050 1170H3075M3170 1170H3250M3305 1170H3335M3488 1170H3518M3695 1170H3715M3820 1170H3858M4043 1170H4060M4165 1170H4175M4548 1170H4563M4603 1170H4613M2820 1218H2830M3050 1218H3100M3170 1218H3200M3230 1218H3250M3305 1218H3335M3425 1218H3458M3588 1218H3638M3670 1218H3715M3790 1218H3820M3883 1218H3908M4018 1218H4060M4080 1218H4105M4145 1218H4165M4175 1218H4185M4195 1218H4225M4445 1218H4455M4548 1218H4563M4613 1218H4623M4705 1218H4735M2840 1266H2843M3050 1266H3075M3140 1266H3200M3250 1266H3255M3255 1266H3285M3305 1266H3335M3360 1266H3380M3558 1266H3588M3638 1266H3650M3670 1266H3695M3790 1266H3820M3840 1266H3858M3908 1266H3928M4043 1266H4060M4095 1266H4105M4155 1266H4175M4315 1266H4335M4583 1266H4603M4705 1266H4735M2710 1314H2790M2918 1314H2943M2988 1314H3043M3488 1314H3498M3558 1314H3578M3648 1314H3650M3670 1314H3715M3928 1314H3948M3998 1314H4060M4080 1314H4130M4210 1314H4235M4315 1314H4335M4400 1314H4415M4660 1314H4705M2790 1361H2815M2840 1361H2843M2898 1361H2933M2998 1361H3013M3498 1361H3518M3695 1361H3715M3840 1361H3858M3858 1361H3883M3948 1361H3968M3998 1361H4043M4080 1361H4105M4130 1361H4160M4210 1361H4235M4335 1361H4380M4390 1361H4400M4425 1361H4445M4455 1361H4473M4603 1361H4613M2943 1409H2963M2988 1409H3043M3588 1409H3612M3638 1409H3650M3820 1409H3840M3908 1409H3928M3948 1409H3968M3998 1409H4060M4305 1409H4335M4355 1409H4365M4455 1409H4473M4705 1409H4735M3518 1457H3558M3648 1457H3650M4285 1457H4310M4365 1457H4390M4640 1457H4650M3538 1505H3558M3588 1505H3612M4095 1505H4125M4195 1505H4210M4265 1505H4285M4310 1505H4335M4390 1505H4415M4690 1505H4715M2735 1553H2760M2790 1553H2815M2840 1553H2843M2988 1553H3043M3235 1553H3245M3588 1553H3638M4265 1553H4285M4305 1553H4315M4400 1553H4415M4425 1553H4445M4598 1553H4623M4705 1553H4735M2790 1601H2815M2840 1601H2843M2843 1601H2873M2898 1601H2918M2943 1601H2963M2988 1601H3043M3140 1601H3155M3558 1601H3588M3670 1601H3715M3790 1601H3820M3883 1601H3928M4043 1601H4060M4060 1601H4095M4165 1601H4175M4335 1601H4355M4415 1601H4425M4455 1601H4473M2710 1648H2735M2760 1648H2815M2943 1648H3043M3660 1648H3670M3908 1648H3928M4018 1648H4043M4285 1648H4305M4315 1648H4355M4390 1648H4400M4425 1648H4445M4455 1648H4473M4680 1648H4735M2710 1696H2735M2760 1696H2790M2943 1696H2963M2988 1696H3013M3478 1696H3518M3528 1696H3558M3578 1696H3598M3790 1696H3840M3858 1696H3883M3908 1696H3928M3948 1696H3968M4018 1696H4043M4195 1696H4210M4305 1696H4335M4355 1696H4365M4380 1696H4415M4680 1696H4705M2710 1744H2735M2943 1744H2963M2988 1744H3013M3518 1744H3538M3612 1744H3638M3695 1744H3715M3820 1744H3858M3858 1744H3928M3948 1744H3968M3998 1744H4043M4070 1744H4080M4105 1744H4125M4155 1744H4175M4240 1744H4260M4305 1744H4315M4445 1744H4455M2690 1792H2760M2815 1792H2840M2843 1792H2898M2943 1792H2988M3050 1792H3075M3120 1792H3170M3200 1792H3230M3250 1792H3255M3538 1792H3558M3588 1792H3612M3638 1792H3650M3660 1792H3670M3845 1792H3858M3993 1792H4003M4473 1792H4498M4523 1792H4553M4623 1792H4640M4640 1792H4660M2660 1840H2690M2710 1840H2735M2840 1840H2843M2843 1840H2873M2898 1840H2918M3050 1840H3075M3120 1840H3170M3200 1840H3250M3290 1840H3305M3365 1840H3385M3488 1840H3518M3760 1840H3820M3840 1840H3858M3858 1840H3883M4043 1840H4060M4130 1840H4180M4210 1840H4235M4310 1840H4335M4390 1840H4473M4523 1840H4553M4640 1840H4660M2710 1888H2735M2790 1888H2815M2840 1888H2843M2843 1888H2873M2898 1888H2963M2988 1888H3013M3050 1888H3075M3100 1888H3140M3170 1888H3230M3650 1888H3670M3695 1888H3715M3760 1888H3820M3840 1888H3858M4335 1888H4365M4390 1888H4440M4470 1888H4473M3360 1935H3380M3588 1935H3612M3735 1935H3820M3883 1935H3908M4060 1935H4105M4180 1935H4210M4235 1935H4265M4310 1935H4335M4390 1935H4415M4470 1935H4473M3588 1983H3612M3638 1983H3650M3650 1983H3670M3760 1983H3820M4043 1983H4060M4105 1983H4130M4305 1983H4315M4355 1983H4365M4380 1983H4425M4455 1983H4473M4473 1983H4498M4523 1983H4553M4623 1983H4640M4640 1983H4705M3050 2031H3075M3120 2031H3170M3200 2031H3230M3250 2031H3255M3518 2031H3558M3638 2031H3650M3720 2031H3730M4265 2031H4310M4623 2031H4640M4660 2031H4680M3050 2079H3075M3100 2079H3120M3250 2079H3255M3350 2079H3365M3538 2079H3558M3588 2079H3612M3650 2079H3670M3715 2079H3790M3908 2079H3928M3968 2079H3998M4043 2079H4060M4060 2079H4080M4130 2079H4160M4210 2079H4265M4390 2079H4400M4623 2079H4640M4660 2079H4680M3050 2127H3075M3120 2127H3170M3200 2127H3230M3250 2127H3255M3290 2127H3305M3395 2127H3415M3468 2127H3478M3488 2127H3498M3528 2127H3538M3650 2127H3670M3735 2127H3760M3840 2127H3858M3858 2127H3883M3928 2127H3948M3968 2127H3998M4043 2127H4060M4060 2127H4105M4285 2127H4335M4390 2127H4440M4523 2127H4553M4623 2127H4640M4640 2127H4660M4680 2127H4705M3100 2175H3170M3200 2175H3230M3588 2175H3612M3638 2175H3650M4105 2175H4160M4180 2175H4210M4235 2175H4265M4285 2175H4335M4415 2175H4440M4498 2175H4523M4553 2175H4578M4623 2175H4640M2660 2222H2690M2710 2222H2735M2873 2222H2898M2918 2222H2943M2988 2222H3013M3050 2222H3075M3120 2222H3140M3200 2222H3230M3608 2222H3618M3650 2222H3670M3760 2222H3790M3858 2222H3908M3928 2222H3948M3968 2222H3998M4043 2222H4060M4180 2222H4210M4310 2222H4335M4415 2222H4440M4523 2222H4553M4578 2222H4598M4623 2222H4640M4640 2222H4650M2790 2270H2815M2840 2270H2843M2873 2270H2898M2943 2270H2988M3080 2270H3090M3125 2270H3140M3190 2270H3205M3305 2270H3335M3425 2270H3455M3760 2270H3790M3820 2270H3858M4018 2270H4060M4060 2270H4080M4210 2270H4235M4265 2270H4285M4310 2270H4335M4415 2270H4470M4553 2270H4578M2700 2318H2710M2898 2318H2918M2968 2318H2978M3080 2318H3090M3125 2318H3140M3380 2318H3425M3455 2318H3458M3670 2318H3695M3840 2318H3858M3968 2318H3998M4043 2318H4060M4060 2318H4080M4180 2318H4235M4285 2318H4305M4315 2318H4335M4355 2318H4380M4400 2318H4415M4603 2318H4613M2735 2366H2760M2790 2366H2840M2918 2366H2963M3080 2366H3090M3155 2366H3170M3305 2366H3335M3820 2366H3858M3883 2366H3908M3968 2366H3998M4018 2366H4060M4180 2366H4265M4265 2366H4285M4415 2366H4440M4553 2366H4598M2690 2414H2735M2760 2414H2790M2840 2414H2843M2918 2414H2988M3285 2414H3305M3360 2414H3380M3405 2414H3455M3670 2414H3685M3700 2414H3710M3730 2414H3745M3790 2414H3805M3943 2414H3963M4043 2414H4060M4060 2414H4080M4160 2414H4180M4210 2414H4235M4265 2414H4285M4335 2414H4365M4415 2414H4440M4553 2414H4598M4705 2414H4735M2760 2462H2815M2918 2462H2963M3050 2462H3075M3140 2462H3170M3200 2462H3250M3305 2462H3380M3425 2462H3455M3670 2462H3695M3840 2462H3858M3858 2462H3908M3968 2462H3998M4018 2462H4043M4060 2462H4080M4210 2462H4235M4440 2462H4473M4553 2462H4598M2690 2509H2710M2735 2509H2760M2918 2509H2943M2988 2509H3013M3043 2509H3050M3190 2509H3205M3245 2509H3255M3285 2509H3335M3455 2509H3458M3650 2509H3670M3840 2509H3858M3858 2509H3908M3948 2509H3998M4018 2509H4060M4060 2509H4080M4160 2509H4235M4265 2509H4285M4390 2509H4415M4553 2509H4578M2650 2557H2670M2730 2557H2745M2765 2557H2775M2830 2557H2843M3013 2557H3023M3033 2557H3043M3105 2557H3125M3140 2557H3155M3598 2557H3608M4060 2557H4080M4235 2557H4265M4390 2557H4415M4498 2557H4523M4553 2557H4578M3080 2605H3090M3215 2605H3225M3285 2605H3405M3755 2605H3765M3993 2605H4003M4070 2605H4080M4145 2605H4155M4185 2605H4195M4210 2605H4225M4660 2605H4680M4705 2605H4735M2640 2653H2660M2790 2653H2843M3043 2653H3050M3050 2653H3075M3120 2653H3170M3230 2653H3250M3650 2653H3670M3715 2653H3735M3820 2653H3858M3858 2653H3883M4043 2653H4060M4060 2653H4080M4130 2653H4160M4210 2653H4265M4265 2653H4285M4415 2653H4440M4498 2653H4523M4578 2653H4598M4650 2653H4660M4690 2653H4705M3120 2701H3170M3200 2701H3230M3350 2701H3365M3638 2701H3650M4235 2701H4265M4390 2701H4415M3050 2749H3100M3120 2749H3140M3458 2749H3488M3558 2749H3588M3858 2749H3868M4023 2749H4043M4080 2749H4130M4210 2749H4235M4285 2749H4310M4365 2749H4390M4473 2749H4498M3075 2797H3100M3140 2797H3170M3250 2797H3255M3458 2797H3488M3558 2797H3612M4080 2797H4105M4160 2797H4180M4265 2797H4310M4335 2797H4390M4415 2797H4470M4473 2797H4523M4553 2797H4578M3075 2844H3120M3170 2844H3200M3250 2844H3255M3290 2844H3305M3538 2844H3558M3608 2844H3618M3638 2844H3648M4003 2844H4013M4060 2844H4080M4105 2844H4130M4160 2844H4180M4285 2844H4310M4335 2844H4365M4390 2844H4470M4498 2844H4523M4680 2844H4735M3050 2892H3060M3105 2892H3125M3170 2892H3190M3290 2892H3305M3650 2892H3660M4080 2892H4095M4105 2892H4145M4185 2892H4195M4473 2892H4498M4660 2892H4680M3050 2940H3075M3120 2940H3140M3230 2940H3255M3270 2940H3280M3290 2940H3305M3450 2940H3458M3518 2940H3538M3558 2940H3588M3638 2940H3650M3883 2940H3903M3993 2940H4003M4013 2940H4023M4145 2940H4155M4240 2940H4260M4285 2940H4310M4335 2940H4365M4415 2940H4440M4498 2940H4523M4640 2940H4660M2998 2988H3013M3290 2988H3305M3488 2988H3518M3558 2988H3612M3993 2988H4003M4265 2988H4285M4415 2988H4425M3050 3036H3075M3230 3036H3255M3290 3036H3305M3315 3036H3330M3558 3036H3588M3638 3036H3650M3858 3036H3868M3943 3036H3963M4105 3036H4130M4160 3036H4180M4210 3036H4235M4285 3036H4335M4415 3036H4470M4523 3036H4553M4640 3036H4660M3060 3084H3090M3125 3084H3140M3225 3084H3235M3245 3084H3255M3280 3084H3290M3395 3084H3415M3720 3084H3730M3858 3084H3868M3943 3084H3963M3973 3084H3983M4145 3084H4155M4175 3084H4185M4315 3084H4335M4365 3084H4390M4640 3084H4660M4705 3084H4735M2690 3131H2710M2735 3131H2815M2898 3131H2918M2943 3131H2963M2988 3131H3013M3075 3131H3100M3120 3131H3140M3230 3131H3255M3255 3131H3270M3415 3131H3435M3488 3131H3518M3638 3131H3650M3765 3131H3775M3963 3131H3973M4105 3131H4130M4335 3131H4390M4578 3131H4598M2640 3179H2660M2815 3179H2840M2843 3179H2873M2898 3179H2918M3013 3179H3043M3488 3179H3538M3558 3179H3588M3700 3179H3710M3775 3179H3790M4003 3179H4013M4080 3179H4130M4235 3179H4265M4285 3179H4310M4335 3179H4365M4415 3179H4470M4705 3179H4735M2640 3227H2660M2735 3227H2760M2843 3227H2873M2898 3227H2943M2988 3227H3013M3075 3227H3100M3120 3227H3140M3395 3227H3415M3435 3227H3450M3518 3227H3538M3558 3227H3588M3612 3227H3638M3670 3227H3685M3765 3227H3775M3943 3227H3963M3973 3227H4003M4365 3227H4390M4415 3227H4470M4473 3227H4498M4578 3227H4598M4660 3227H4680M4705 3227H4735M3755 3275H3765M3973 3275H3983M4130 3275H4160M3330 3466H3350M3933 3466H3943M4003 3466H4013M2840 3514H2843M2843 3514H2898M2963 3514H3013M3043 3514H3050M3140 3514H3200M3335 3514H3360M3380 3514H3405M3650 3514H3660M3805 3514H3815M3825 3514H3845M4210 3514H4235M2640 3562H2660M2735 3562H2760M2815 3562H2843M2918 3562H2943M2988 3562H3013M3043 3562H3050M3498 3562H3518M3558 3562H3578M4335 3562H4365M4415 3562H4470M4498 3562H4523M4553 3562H4623M4640 3562H4650M4690 3562H4705M2640 3610H2660M2735 3610H2760M2840 3610H2843M2843 3610H2873M2963 3610H3013M3043 3610H3050M3360 3610H3405M3478 3610H3488M3528 3610H3538M3608 3610H3618M4335 3610H4365M4553 3610H4578M4598 3610H4623M2840 3658H2843M2898 3658H2943M2988 3658H3013M3255 3658H3285M3425 3658H3458M3478 3658H3488M3528 3658H3578M3650 3658H3670M3735 3658H3790M3883 3658H3908M3928 3658H3948M4043 3658H4060M4225 3658H4240M4355 3658H4365M4445 3658H4473M4578 3658H4623M4640 3658H4650M2640 3705H2735M2760 3705H2790M2840 3705H2843M2943 3705H2963M3013 3705H3043M3225 3705H3235M3255 3705H3285M3305 3705H3360M3488 3705H3518M3528 3705H3538M3650 3705H3670M3790 3705H3820M3840 3705H3858M3858 3705H3883M3968 3705H4018M4365 3705H4415M4470 3705H4473M4498 3705H4553M4578 3705H4623M4680 3705H4715M2660 3753H2710M2760 3753H2790M2943 3753H2963M2988 3753H3013M3488 3753H3518M3588 3753H3612M4225 3753H4240M4365 3753H4415M4470 3753H4473M4498 3753H4523M4578 3753H4598M4705 3753H4735M2670 3801H2690M2730 3801H2745M2765 3801H2775M2843 3801H2898M2933 3801H2948M3588 3801H3612M3715 3801H3760M3790 3801H3820M3840 3801H3858M3883 3801H3908M4070 3801H4080M4225 3801H4240M4310 3801H4335M4415 3801H4440M4470 3801H4473M4578 3801H4598M4640 3801H4660M4705 3801H4735M2660 3849H2690M2943 3849H2963M3013 3849H3043M3255 3849H3335M3650 3849H3670M3790 3849H3820M3840 3849H3858M3883 3849H3908M4365 3849H4390M4470 3849H4473M4578 3849H4598M4705 3849H4715M2660 3897H2690M2790 3897H2815M2918 3897H2963M2988 3897H3043M3050 3897H3075M3100 3897H3120M3170 3897H3200M3305 3897H3335M3670 3897H3695M3715 3897H3735M3840 3897H3858M3883 3897H3908M3998 3897H4018M4060 3897H4080M4105 3897H4125M4145 3897H4155M4175 3897H4210M4260 3897H4265M4440 3897H4470M4498 3897H4553M4578 3897H4598M4705 3897H4735M2898 3945H2918M3120 3945H3140M3650 3945H3670M3790 3945H3858M3883 3945H3908M3928 3945H3948M3968 3945H4018M4105 3945H4125M4260 3945H4265M4523 3945H4578M2863 3992H2878M2948 3992H2958M3075 3992H3100M3170 3992H3200M3518 3992H3528M3578 3992H3598M3735 3992H3760M3790 3992H3820M3840 3992H3858M3883 3992H3908M3928 3992H3948M4195 3992H4210M4225 3992H4240M4260 3992H4265M4425 3992H4445M4680 3992H4705M2660 4040H2760M2840 4040H2843M2918 4040H2933M3120 4040H3140M3255 4040H3285M3305 4040H3335M3488 4040H3498M3518 4040H3528M3648 4040H3650M3670 4040H3695M3840 4040H3858M3968 4040H4018M4043 4040H4060M4155 4040H4165M4498 4040H4523M4553 4040H4598M4660 4040H4680M4705 4040H4735M2843 4088H2863M2918 4088H2933M3488 4088H3518M3638 4088H3650M4060 4088H4070M4135 4088H4145M4155 4088H4165M4195 4088H4210M4640 4088H4660M2690 4136H2710M2790 4136H2815M2843 4136H2873M3200 4136H3230M3538 4136H3558M3578 4136H3598M3608 4136H3618M3715 4136H3735M3883 4136H3908M4105 4136H4125M4145 4136H4155M4225 4136H4240M4598 4136H4623M4705 4136H4735M2660 4184H2690M2790 4184H2815M2998 4184H3023M3043 4184H3050M3075 4184H3100M3120 4184H3140M3170 4184H3200M3250 4184H3255M3285 4184H3305M3360 4184H3405M3488 4184H3538M3638 4184H3650M3670 4184H3695M3820 4184H3858M3908 4184H3928M4043 4184H4060M4060 4184H4105M4130 4184H4180M4235 4184H4265M4553 4184H4578M4623 4184H4640M2760 4232H2790M2863 4232H2878M2918 4232H2933M3013 4232H3023M3050 4232H3075M3100 4232H3230M3285 4232H3305M3335 4232H3360M3488 4232H3538M3558 4232H3588M3650 4232H3670M3820 4232H3858M3858 4232H3883M3908 4232H3948M2710 4279H2735M2760 4279H2815M3120 4279H3200M3250 4279H3255M3518 4279H3538M3638 4279H3650M3650 4279H3695M3760 4279H3790M3820 4279H3858M3858 4279H3883M3928 4279H3948M3998 4279H4018M4043 4279H4060M4080 4279H4105M4180 4279H4235M4473 4279H4523M4553 4279H4578M4640 4279H4660M2660 4327H2690M2735 4327H2790M3050 4327H3075M3250 4327H3255M3305 4327H3380M3558 4327H3588M3638 4327H3650M3670 4327H3695M3820 4327H3858M3928 4327H3948M4043 4327H4060M4080 4327H4105M4160 4327H4180M4623 4327H4640M3155 4375H3190M3360 4375H3380M3405 4375H3425M3488 4375H3518M3588 4375H3650M3670 4375H3695M3760 4375H3790M3820 4375H3858M3928 4375H3968M4018 4375H4043M4060 4375H4080M4130 4375H4160M4180 4375H4235M4380 4375H4400M4640 4375H4680M2640 4423H2660M2710 4423H2735M2918 4423H2943M2963 4423H2988M3043 4423H3050M3380 4423H3405M3468 4423H3488M3538 4423H3558M3820 4423H3840M4018 4423H4043M4080 4423H4095M4125 4423H4135M4165 4423H4185M4195 4423H4210M4260 4423H4265M4310 4423H4335M4415 4423H4470M2760 4471H2790M2873 4471H2898M3043 4471H3050M3170 4471H3190M3225 4471H3235M3360 4471H3425M3458 4471H3468M3488 4471H3498M3598 4471H3608M3618 4471H3638M3695 4471H3715M3840 4471H3858M3998 4471H4043M4080 4471H4130M4160 4471H4235M4285 4471H4310M4335 4471H4390M4640 4471H4660M4680 4471H4705M2660 4519H2690M2760 4519H2790M2843 4519H2873M2898 4519H2943M2963 4519H2988M3360 4519H3380M3458 4519H3468M3498 4519H3518M3528 4519H3578M3735 4519H3760M3840 4519H3858M3998 4519H4060M4080 4519H4105M4180 4519H4210M4305 4519H4315M4445 4519H4455M4640 4519H4660M2760 4566H2790M2918 4566H2943M2963 4566H2988M3155 4566H3170M3190 4566H3205M3360 4566H3380M3458 4566H3478M3538 4566H3558M3648 4566H3650M3670 4566H3715M3820 4566H3858M3908 4566H3948M3998 4566H4060M4080 4566H4105M4265 4566H4285M4335 4566H4355M4400 4566H4415M2710 4614H2760M2873 4614H2988M3043 4614H3050M3060 4614H3070M3305 4614H3335M3380 4614H3405M3488 4614H3518M3670 4614H3695M3820 4614H3858M3908 4614H3928M4080 4614H4105M4130 4614H4160M4265 4614H4285M4315 4614H4355M4390 4614H4400M4445 4614H4455M4640 4614H4660M4680 4614H4705M2660 4662H2690M2815 4662H2840M3043 4662H3050M3190 4662H3205M3335 4662H3360M3425 4662H3458M3528 4662H3538M3735 4662H3760M3840 4662H3858M3883 4662H3908M4335 4662H4365M4390 4662H4415M4440 4662H4470M2760 4710H2790M2898 4710H2918M3255 4710H3305M3425 4710H3458M3468 4710H3478M3488 4710H3498M3528 4710H3538M3558 4710H3578M3608 4710H3638M3735 4710H3760M3908 4710H3928M4060 4710H4080M4180 4710H4235M4365 4710H4390M4440 4710H4470M4640 4710H4660M2790 4758H2840M3405 4758H3425M3455 4758H3458M3458 4758H3488M3638 4758H3650M3650 4758H3670M3735 4758H3760M3858 4758H3928M3948 4758H3968M4235 4758H4265M4365 4758H4470M2660 4806H2690M2815 4806H2843M2963 4806H2988M3043 4806H3050M3140 4806H3170M3230 4806H3250M3285 4806H3305M3360 4806H3380M3405 4806H3458M3695 4806H3715M3735 4806H3760M3790 4806H3858M3968 4806H3998M4060 4806H4080M4365 4806H4390M4440 4806H4470M4553 4806H4578M4640 4806H4650M2660 4853H2690M2840 4853H2843M2963 4853H2988M3120 4853H3170M3335 4853H3360M3455 4853H3458M3735 4853H3760M3790 4853H3820M3883 4853H3908M3948 4853H3968M4043 4853H4060M4060 4853H4080M4210 4853H4235M4285 4853H4310M4335 4853H4390M4598 4853H4623M2710 4901H2790M2840 4901H2843M2963 4901H2988M3043 4901H3050M3080 4901H3105M3285 4901H3305M3360 4901H3380M3405 4901H3455M3735 4901H3760M3883 4901H3908M3968 4901H3998M4018 4901H4060M4135 4901H4145M4195 4901H4210M4285 4901H4310M4415 4901H4470M4523 4901H4553M4623 4901H4640M4660 4901H4680M4715 4901H4735M2660 4949H2690M3013 4949H3043M3255 4949H3305M3335 4949H3380M3405 4949H3458M3528 4949H3538M3695 4949H3715M3735 4949H3760M4060 4949H4105M4285 4949H4310M4335 4949H4390M4440 4949H4470M4473 4949H4498"/>
<path stroke="#009588" stroke-width="54" fill="none" d="M4335 357H4355M4415 357H4425M4528 405H4548M4473 453H4483M4493 453H4508M4538 453H4548M4583 453H4603M2843 500H2853M2898 500H2918M2933 500H2948M3023 500H3033M4265 500H4285M2898 548H2918M2933 548H2948M2958 548H2968M2998 548H3013M3415 548H3450M3715 548H3735M4305 548H4315M4365 548H4380M4390 548H4400M4415 548H4425M4538 548H4548M2690 596H2700M3255 596H3270M3450 596H3458M3660 596H3670M3710 596H3720M3755 596H3775M4305 596H4315M4473 596H4483M4603 596H4613M4623 596H4633M3405 644H3425M4105 644H4130M2843 692H2853M2878 692H2933M2968 692H2978M2998 692H3013M3023 692H3033M4528 692H4538M2933 740H2948M3883 740H3908M4285 740H4305M4425 740H4445M4483 740H4493M4528 787H4538M3120 1027H3140M3868 1027H3883M3943 1027H3963M4013 1027H4023M3050 1074H3075M3200 1074H3230M4473 1122H4483M4563 1122H4583M2898 1170H2918M4095 1170H4105M4185 1170H4195M4210 1170H4225M2650 1218H2670M2863 1218H2878M4315 1218H4335M2968 1266H2978M4455 1266H4473M4473 1266H4483M4563 1266H4583M2790 1314H2815M3948 1314H3968M3908 1361H3928M4548 1361H4563M3170 1409H3190M4483 1409H4508M4705 1457H4735M4070 1553H4080M4095 1553H4105M4135 1553H4145M4185 1553H4195M4473 1553H4498M3070 1648H3080M3815 1648H3825M3845 1648H3858M3948 1648H3968M3140 1696H3155M3695 1696H3715M4060 1696H4080M4105 1696H4125M4165 1696H4175M4260 1696H4265M4473 1744H4483M4493 1744H4508M4563 1744H4583M3290 1792H3305M3685 1792H3700M3765 1792H3775M4390 1792H4415M2690 1840H2710M3315 1840H3330M4623 1840H4640M3140 1888H3170M3350 1888H3365M3290 1983H3315M3745 2031H3755M3913 2031H3933M4390 2031H4415M3140 2079H3170M3255 2079H3270M3435 2079H3450M4335 2079H4355M3435 2127H3450M3498 2127H3518M3598 2127H3618M3648 2127H3650M3760 2127H3790M3050 2175H3075M3775 2175H3790M3815 2175H3845M4023 2175H4043M3385 2222H3395M3458 2222H3468M3578 2222H3608M3618 2222H3638M4705 2222H4735M3285 2270H3305M3968 2270H3998M3090 2318H3105M3140 2318H3155M3245 2318H3255M4508 2318H4528M4623 2318H4633M3070 2366H3080M3090 2366H3105M3140 2366H3155M3245 2366H3255M3305 2414H3335M3745 2414H3755M3825 2414H3845M3820 2462H3840M2943 2509H2963M3090 2509H3125M3478 2509H3488M3215 2557H3245M4640 2557H4650M3125 2605H3140M3730 2605H3745M3765 2605H3775M3845 2605H3858M2943 2653H2963M3200 2653H3230M4660 2653H4680M3280 2701H3290M3435 2701H3450M3660 2701H3670M4578 2701H4598M3943 2749H3963M4003 2749H4013M3280 2797H3290M3315 2797H3330M3883 2797H3903M3765 2892H3775M3883 2892H3903M3943 2892H3963M4705 2892H4715M3720 2940H3730M4070 2940H4080M4135 2940H4145M4185 2940H4195M2843 2988H2853M2968 2988H2978M3270 2988H3280M3305 2988H3315M4003 2988H4013M4335 2988H4355M4400 2988H4415M4425 2988H4445M3385 3036H3395M3450 3036H3458M3700 3036H3710M3993 3036H4003M3190 3084H3205M3290 3084H3305M3385 3084H3395M4125 3084H4135M4240 3084H4260M3330 3131H3350M3385 3131H3395M3903 3131H3913M3943 3131H3963M3973 3131H3983M3993 3131H4003M3415 3179H3435M3650 3179H3660M3730 3179H3745M3755 3179H3765M3790 3179H3805M3815 3179H3825M3858 3179H3868M3650 3227H3660M3730 3227H3745M3805 3227H3815M3913 3227H3943M4130 3227H4160M3290 3275H3305M3685 3275H3700M3933 3275H3943M3395 3323H3415M3315 3418H3330M3450 3418H3458M3365 3466H3385M3825 3466H3845M3468 3514H3478M3538 3514H3578M3618 3514H3638M3670 3514H3685M3765 3514H3775M3933 3514H3943M4705 3514H4715M2843 3562H2873M3125 3562H3140M3528 3562H3538M3608 3562H3618M2873 3610H2898M4225 3610H4260M4660 3610H4715M3140 3658H3155M3518 3658H3528M3608 3658H3618M4095 3658H4105M4185 3658H4195M4680 3658H4690M4705 3658H4735M2918 3705H2943M3215 3705H3225M3518 3705H3528M4095 3705H4105M4125 3705H4135M4660 3705H4680M4070 3753H4080M4145 3753H4155M4125 3801H4135M4145 3801H4155M4260 3801H4265M3170 3849H3190M4095 3849H4105M4650 3849H4660M4680 3849H4690M3968 3897H3998M2878 3945H2898M2998 3945H3013M4060 3945H4070M4155 3945H4165M4578 3945H4598M2843 3992H2853M2918 3992H2933M3538 3992H3558M3638 3992H3648M4070 3992H4080M4095 3992H4105M4125 3992H4135M4145 3992H4155M3043 4040H3050M4105 4040H4125M4145 4040H4155M3100 4088H3120M2660 4136H2690M3170 4136H3200M3458 4136H3468M3488 4136H3498M3518 4136H3528M4195 4136H4210M4578 4136H4598M2853 4184H2863M2843 4232H2853M2978 4232H2998M3043 4232H3050M3670 4232H3695M4553 4232H4578M2933 4279H2948M3013 4279H3023M2978 4327H2998M3120 4327H3140M3170 4327H3200M4365 4327H4380M3060 4375H3070M3090 4375H3105M4043 4375H4060M4080 4375H4105M3670 4423H3695M2843 4471H2873M3090 4471H3105M3670 4471H3695M4415 4471H4440M3080 4519H3090M3170 4519H3190M3695 4662H3715M3190 4710H3205M3050 4758H3060M3090 4758H3105M3190 4758H3205M4613 4758H4623M3478 4806H3488M4660 4806H4680M2660 4901H2690M3050 4901H3060M4640 4901H4650M3488 4949H3498M3618 4949H3638M4640 4949H4650"/>
<path stroke="#009d82" stroke-width="54" fill="none" d="M2843 357H2863M2918 357H2933M2978 357H2998M3023 357H3043M4473 357H4483M4623 357H4633M2843 405H2853M2863 405H2878M3023 405H3033M4305 405H4335M4380 405H4390M4425 405H4445M4285 453H4305M4335 453H4355M4365 453H4400M3868 500H3883M3933 500H3943M3993 500H4003M4043 500H4060M4305 500H4315M4365 500H4380M4613 500H4623M3023 548H3033M3255 548H3280M3963 548H3973M3983 548H3993M4003 548H4013M4023 548H4043M4483 548H4493M4583 548H4613M4633 548H4640M3043 596H3050M4483 596H4493M4548 596H4563M4335 644H4365M4380 644H4390M4400 644H4415M4445 644H4455M4508 644H4528M4548 644H4583M4623 644H4633M4265 692H4315M4390 692H4400M4425 692H4455M4493 692H4508M2853 740H2863M2878 740H2898M2958 740H2968M4538 740H4548M4473 787H4483M4508 787H4528M4315 979H4335M4528 1027H4538M4603 1027H4613M2948 1074H2958M4105 1074H4125M4135 1074H4145M4155 1074H4165M4225 1074H4260M4508 1074H4528M3043 1122H3050M3050 1122H3060M3080 1122H3090M3125 1122H3140M3190 1122H3245M4455 1122H4473M4548 1122H4563M4613 1122H4623M2968 1218H2978M4070 1218H4080M4135 1218H4145M4240 1218H4265M4305 1218H4315M4400 1218H4415M4455 1218H4473M4508 1218H4528M4633 1218H4640M2898 1266H2918M2948 1266H2958M3043 1266H3050M4195 1266H4210M4508 1266H4538M3478 1314H3488M3538 1314H3558M3578 1314H3598M4305 1314H4315M4335 1314H4380M4455 1314H4473M4508 1314H4528M4563 1314H4583M2843 1361H2853M3023 1361H3043M3070 1361H3080M3458 1361H3468M3478 1361H3488M3578 1361H3598M4315 1361H4335M4380 1361H4390M4445 1361H4455M4335 1409H4355M4380 1409H4390M4415 1409H4425M4563 1409H4583M4623 1409H4633M3468 1457H3478M3498 1457H3518M3608 1457H3648M4210 1457H4225M4680 1457H4690M3070 1505H3080M4060 1505H4070M4080 1505H4095M4145 1505H4165M4240 1505H4260M4680 1505H4690M4715 1505H4735M3140 1553H3155M4335 1553H4355M4455 1553H4473M4305 1601H4315M4365 1601H4390M4445 1601H4455M3080 1648H3090M3190 1648H3205M3235 1648H3245M4260 1648H4265M4365 1648H4380M4415 1648H4425M4445 1648H4455M3170 1696H3190M3468 1696H3478M3618 1696H3638M4445 1696H4455M4135 1744H4145M4175 1744H4185M4315 1744H4335M4380 1744H4390M4455 1744H4473M4623 1744H4633M3395 1792H3415M3330 1840H3350M3395 1840H3415M3435 1840H3450M3858 1888H3868M3883 1888H3903M3395 1983H3415M4265 1983H4285M4425 1983H4445M3660 2031H3670M3755 2031H3765M3815 2031H3845M3883 2031H3913M3943 2031H3963M3993 2031H4003M3395 2079H3435M4305 2079H4335M4400 2079H4425M3385 2127H3395M3660 2175H3670M3685 2175H3700M3745 2175H3755M3765 2175H3775M3903 2175H3933M4650 2222H4660M3155 2270H3170M3215 2270H3235M2690 2318H2700M2795 2318H2805M2843 2318H2898M2933 2318H2958M3023 2318H3033M4390 2318H4400M3903 2414H3933M3963 2414H3983M4660 2509H4680M2640 2557H2650M2670 2557H2690M2775 2557H2795M2878 2557H2918M2948 2557H2958M3478 2557H3488M4095 2605H4105M4155 2605H4165M4225 2605H4240M4640 2653H4650M3270 2701H3280M3450 2701H3458M3858 2701H3868M3435 2749H3450M3700 2749H3710M3255 2797H3270M3290 2797H3305M3395 2797H3415M3435 2797H3458M3973 2797H3983M3993 2797H4003M3395 2844H3435M3458 2844H3468M3558 2844H3578M3618 2844H3638M3943 2844H3983M3993 2844H4003M4023 2844H4043M3125 2892H3140M3155 2892H3170M3205 2892H3215M3235 2892H3255M3255 2892H3270M3305 2892H3315M3415 2892H3435M3775 2892H3790M3993 2892H4003M4060 2892H4070M4175 2892H4185M4195 2892H4240M4260 2892H4265M3255 2940H3270M3365 2940H3385M3395 2940H3415M3765 2940H3775M3858 2940H3868M3903 2940H3913M3933 2940H3943M4023 2940H4043M3255 2988H3270M3450 2988H3458M3700 2988H3710M3775 2988H3790M3963 2988H3983M4013 2988H4043M3255 3036H3270M3775 3036H3790M3913 3036H3933M3270 3084H3280M3650 3084H3660M3700 3084H3710M3755 3084H3765M3775 3084H3805M3913 3084H3933M4003 3084H4013M4285 3084H4305M4400 3084H4415M4425 3084H4455M3395 3131H3415M3720 3131H3730M3745 3131H3765M3883 3131H3903M3883 3179H3903M3993 3179H4003M3365 3227H3395M3330 3323H3350M3385 3323H3395M3973 3323H3983M3775 3371H3790M3650 3418H3660M3903 3418H3913M3255 3466H3270M3775 3466H3805M3478 3514H3498M3518 3514H3528M3608 3514H3618M3638 3514H3648M3685 3514H3720M3790 3514H3805M3903 3514H3913M4003 3514H4013M4125 3562H4135M4145 3562H4155M4165 3562H4175M4240 3562H4265M4680 3562H4690M3468 3610H3478M3498 3610H3518M3618 3610H3648M4165 3610H4175M4305 3610H4335M3190 3658H3215M4165 3658H4175M4265 3658H4285M4305 3658H4335M4390 3658H4400M4415 3658H4425M3205 3705H3215M4145 3705H4155M4195 3705H4210M4260 3705H4265M2650 3801H2670M2690 3801H2700M2710 3801H2730M2745 3801H2765M2775 3801H2795M2948 3801H2958M2998 3801H3013M3225 3801H3235M3528 3849H3538M3618 3849H3648M4105 3849H4125M4260 3849H4265M4080 3897H4095M4135 3897H4145M4240 3897H4260M4265 3945H4285M4335 3992H4355M4415 3992H4425M3538 4040H3558M2978 4088H3013M4185 4088H4195M4240 4088H4265M2933 4232H2948M2998 4232H3013M3023 4232H3033M2853 4279H2878M2933 4327H2948M4390 4327H4400M4265 4375H4285M4355 4375H4365M3155 4423H3170M3225 4423H3235M3458 4423H3468M3618 4423H3638M4060 4423H4070M4095 4423H4125M4185 4423H4195M4583 4423H4603M4613 4423H4623M3478 4471H3488M3498 4471H3528M3538 4471H3578M3608 4471H3618M3648 4471H3650M3070 4519H3080M3245 4519H3255M3608 4519H3618M4380 4519H4390M3050 4566H3060M3070 4566H3090M3125 4566H3140M3488 4566H3498M3618 4566H3638M3190 4614H3205M4400 4614H4425M3050 4662H3060M3205 4662H3215M3245 4662H3255M3478 4662H3498M3518 4662H3528M3598 4662H3608M3638 4662H3648M3458 4710H3468M3578 4710H3598M3638 4710H3648M4613 4710H4623M3105 4758H3125M3215 4758H3225M3245 4758H3255M3648 4806H3650M3558 4853H3578M3488 4901H3498M4060 4901H4070M4105 4901H4125M4145 4901H4155M4165 4901H4195M4210 4901H4240M3478 4949H3488"/>
<path stroke="#00a57d" stroke-width="54" fill="none" d="M3043 357H3050M4265 357H4305M4365 357H4380M4400 357H4415M4538 357H4563M4400 405H4415M4493 405H4508M4563 405H4583M2745 453H2765M4415 453H4425M4483 453H4493M4548 453H4563M4623 453H4633M3983 500H3993M4583 500H4603M3933 548H3963M4335 548H4355M4380 548H4390M4425 548H4445M2958 596H2968M3033 596H3043M3280 596H3305M3700 596H3710M3805 596H3825M2805 644H2820M2830 644H2843M2933 692H2958M3013 692H3023M4583 692H4603M4633 692H4640M2745 740H2775M4455 740H4473M4528 740H4538M4583 740H4613M2775 787H2795M2843 787H2853M2863 787H2878M4335 787H4355M2863 979H2878M2968 1027H2978M3043 1027H3050M3963 1027H3973M4315 1027H4335M4493 1027H4508M4538 1027H4548M4563 1027H4583M4623 1027H4640M2863 1074H2878M3043 1074H3050M4070 1074H4080M4445 1074H4455M4623 1074H4633M4060 1122H4070M4135 1122H4145M4210 1122H4225M4260 1122H4265M2863 1170H2878M4455 1170H4473M4508 1170H4528M4583 1170H4603M4613 1170H4623M4633 1170H4640M2745 1218H2775M4355 1218H4365M4415 1218H4425M2863 1266H2878M2998 1266H3013M4135 1266H4145M4240 1266H4260M4265 1314H4285M4483 1314H4493M4603 1314H4613M2853 1361H2878M3043 1361H3050M3468 1361H3478M4305 1361H4315M4633 1361H4640M3105 1409H3125M3140 1409H3155M3190 1409H3205M4285 1409H4305M4365 1409H4380M4508 1409H4528M3235 1457H3245M4060 1457H4070M4080 1457H4095M4195 1457H4210M4260 1457H4265M3050 1553H3060M3170 1553H3190M4080 1553H4095M4195 1553H4240M4355 1553H4365M3080 1601H3090M3170 1601H3190M3225 1601H3235M4135 1601H4145M4265 1601H4285M4563 1601H4583M3105 1648H3140M3170 1648H3190M3498 1648H3518M3700 1648H3710M3745 1648H3755M3790 1648H3805M4125 1648H4135M4355 1648H4365M4135 1696H4145M4175 1696H4185M4240 1696H4260M4493 1696H4508M4285 1744H4305M3650 1792H3660M3670 1792H3685M3700 1792H3710M3730 1792H3745M3450 1888H3458M4285 1983H4305M3478 2127H3488M3578 2127H3598M3618 2127H3638M3415 2175H3435M3450 2175H3458M3255 2222H3280M3315 2222H3330M3435 2222H3458M3488 2222H3498M3638 2222H3650M3090 2270H3125M4640 2270H4650M2765 2318H2775M3043 2318H3050M3070 2318H3080M4445 2318H4455M4483 2318H4493M3060 2366H3070M3105 2366H3125M3205 2366H3235M3538 2414H3558M3765 2414H3775M3845 2414H3858M3140 2509H3170M3205 2509H3215M4640 2509H4660M4690 2509H4705M4715 2509H4735M2795 2557H2805M2853 2557H2863M2978 2557H2998M3060 2557H3080M3090 2557H3105M3170 2557H3190M3538 2557H3558M3638 2557H3648M3105 2605H3125M3650 2605H3660M3700 2605H3730M3805 2605H3815M3858 2605H3883M4080 2605H4095M4165 2605H4175M3685 2701H3700M3755 2701H3775M3983 2701H3993M4043 2701H4060M3270 2749H3280M3305 2749H3315M3350 2749H3365M3765 2749H3775M3825 2749H3845M3488 2844H3498M3700 2844H3710M3720 2844H3730M3815 2844H3825M3060 2892H3080M3090 2892H3105M3140 2892H3155M3755 2892H3765M4165 2892H4175M3775 2940H3805M3825 2940H3845M4060 2940H4070M4105 2940H4125M4175 2940H4185M4260 2940H4265M2853 2988H2863M2918 2988H2933M2948 2988H2958M3720 2988H3730M3755 2988H3775M4285 2988H4305M3650 3036H3660M3720 3036H3730M3140 3084H3155M4155 3084H4165M4210 3084H4225M4415 3084H4425M4455 3084H4473M3305 3179H3315M3435 3179H3450M3670 3179H3700M3745 3179H3755M3963 3179H3983M3315 3227H3330M3350 3227H3365M3660 3227H3670M3710 3227H3720M3815 3227H3845M3670 3275H3685M3883 3275H3903M3815 3323H3825M3983 3323H3993M4023 3323H4043M3305 3371H3315M3450 3371H3458M3805 3371H3815M3330 3418H3350M3385 3418H3395M3825 3418H3845M3670 3466H3685M3745 3466H3755M3805 3466H3815M4660 3514H4680M4715 3514H4735M3245 3562H3255M3478 3562H3498M3538 3562H3558M3598 3562H3608M3638 3562H3648M3105 3610H3125M3190 3610H3205M3215 3610H3235M3558 3610H3578M4415 3610H4445M3215 3658H3225M3245 3658H3255M3488 3658H3498M3598 3658H3608M4285 3658H4305M4650 3658H4660M4690 3658H4705M3190 3705H3205M3458 3705H3468M3598 3705H3608M4080 3753H4095M4155 3753H4165M4175 3753H4210M4240 3753H4265M2640 3801H2650M2805 3801H2820M2978 3801H2998M4175 3801H4185M3578 3849H3598M3608 3849H3618M4145 3849H4165M4210 3897H4225M2853 3945H2878M4080 3945H4095M4145 3945H4155M4185 3945H4195M4240 3945H4260M4390 3945H4400M3598 3992H3608M4060 3992H4070M4135 3992H4145M4185 3992H4195M4210 3992H4225M4380 3992H4390M4455 3992H4473M2933 4040H2948M4080 4040H4095M4125 4040H4135M4175 4040H4185M4225 4040H4240M3033 4088H3043M4080 4088H4095M4105 4088H4125M4165 4088H4175M4225 4088H4240M3478 4136H3488M3638 4136H3648M4060 4136H4070M4080 4136H4095M4155 4136H4165M2918 4184H2933M2948 4184H2958M2978 4184H2998M4390 4232H4400M2918 4279H2933M4305 4279H4315M4445 4279H4455M2853 4327H2863M3013 4327H3023M3043 4327H3050M4265 4327H4285M4305 4327H4355M3105 4375H3125M3190 4375H3205M4415 4375H4425M4240 4423H4260M4483 4423H4493M3050 4471H3060M3235 4471H3245M3578 4471H3598M4265 4519H4285M4315 4519H4335M4483 4519H4493M4538 4519H4548M4355 4566H4365M4483 4566H4493M4380 4614H4390M3458 4662H3468M4483 4662H4493M4633 4662H4640M3060 4710H3070M3245 4710H3255M3498 4806H3518M3538 4806H3558M4690 4806H4705M3488 4853H3498M3245 4901H3255M3458 4901H3468M3558 4901H3578M4080 4901H4095"/>
<path stroke="#00ad72" stroke-width="54" fill="none" d="M4380 357H4390M4483 357H4493M4528 357H4538M2650 405H2670M2700 405H2710M2795 405H2805M4390 405H4400M4473 405H4483M4583 405H4603M4623 405H4633M2700 453H2710M4563 453H4583M4633 453H4640M2918 500H2933M2998 500H3013M3043 500H3050M4445 500H4455M3350 548H3365M3450 548H3458M4493 548H4508M4623 548H4633M2700 596H2710M2745 596H2765M2878 596H2898M2968 596H2978M3013 596H3023M3395 596H3435M4335 596H4355M4508 596H4528M4563 596H4603M4613 596H4623M2745 644H2765M4315 692H4365M4380 692H4390M4415 692H4425M4508 692H4528M2640 740H2650M2775 740H2795M2830 740H2843M2863 740H2878M2948 740H2958M2978 740H3013M3043 740H3050M4305 740H4315M4335 740H4355M4400 740H4415M4445 740H4455M4613 740H4623M2933 787H2948M2958 787H2968M4285 787H4305M4493 787H4508M4583 787H4603M3650 931H3660M3710 931H3730M3745 931H3755M3903 1027H3913M4043 1027H4060M4365 1027H4380M2898 1074H2918M4355 1074H4365M4455 1074H4473M4538 1074H4548M2898 1122H2918M3023 1122H3033M4070 1122H4080M4105 1122H4125M4225 1122H4240M4315 1122H4335M4508 1122H4528M4623 1122H4633M2843 1170H2853M2998 1170H3013M4060 1170H4070M4335 1170H4355M4365 1170H4380M4415 1170H4445M4483 1170H4493M4528 1170H4538M4563 1170H4583M2670 1218H2690M2805 1218H2820M2948 1218H2958M4105 1218H4125M2843 1266H2853M2918 1266H2933M4285 1266H4305M4415 1266H4425M4445 1266H4455M4548 1266H4563M4633 1266H4640M3638 1314H3648M4493 1314H4508M4548 1314H4563M4285 1361H4305M4538 1361H4548M4563 1361H4583M3050 1409H3080M4105 1457H4125M4155 1457H4175M4660 1457H4680M4690 1457H4705M4175 1505H4185M3125 1553H3140M3155 1553H3170M4145 1553H4155M4260 1553H4265M3050 1601H3060M3070 1601H3080M3155 1601H3170M3235 1601H3245M4095 1601H4105M4185 1601H4225M4240 1601H4260M4285 1601H4305M4483 1601H4508M3060 1648H3070M3155 1648H3170M3205 1648H3215M3468 1648H3478M3650 1648H3660M4105 1648H4125M4135 1648H4145M4195 1648H4210M4240 1648H4260M4265 1648H4285M4145 1696H4155M4225 1696H4240M4473 1696H4483M4563 1696H4583M4603 1696H4613M4548 1744H4563M3790 1792H3805M3883 1792H3903M3933 1792H3943M4013 1792H4023M3280 1840H3290M3305 1840H3315M3973 1888H3983M4013 1888H4043M3435 1983H3450M3290 2031H3305M3775 2031H3790M3858 2031H3868M3933 2031H3943M3973 2031H3993M3270 2079H3290M3330 2079H3350M4355 2079H4365M4380 2079H4390M3255 2127H3270M3280 2127H3290M3330 2127H3350M3365 2127H3385M3415 2127H3435M3330 2175H3350M3700 2175H3710M3845 2175H3858M3858 2175H3883M3943 2175H3963M4013 2175H4023M3395 2222H3415M3478 2222H3488M3528 2222H3538M4660 2222H4680M4690 2222H4705M3235 2270H3245M3190 2318H3215M3235 2318H3245M4563 2318H4583M3125 2366H3140M3685 2414H3700M3125 2509H3140M3170 2509H3190M3225 2509H3235M3598 2509H3608M4705 2509H4715M3050 2557H3060M3528 2557H3538M3578 2557H3598M3608 2557H3638M4715 2557H4735M3170 2605H3190M3745 2605H3755M3775 2605H3790M3815 2605H3825M3488 2653H3498M4705 2653H4735M3315 2701H3330M3415 2701H3435M3670 2701H3685M3730 2701H3755M3845 2701H3858M3913 2701H3943M3280 2749H3290M3315 2749H3330M3385 2749H3395M3450 2749H3458M3660 2749H3670M3720 2749H3730M3775 2749H3790M3973 2749H3993M3270 2797H3280M3330 2797H3350M3365 2797H3385M3415 2797H3435M3280 2844H3290M3305 2844H3315M3350 2844H3385M3755 2844H3790M3883 2844H3913M3270 2892H3280M3315 2892H3330M3670 2892H3685M3815 2892H3845M4003 2892H4013M3650 2940H3660M3700 2940H3710M3730 2940H3745M3815 2940H3825M3973 2940H3983M4003 2940H4013M4155 2940H4165M4210 2940H4240M2978 2988H2998M3385 2988H3395M3415 2988H3450M3710 2988H3720M3868 2988H3883M3933 2988H3943M4380 2988H4390M3350 3036H3385M3765 3036H3775M3790 3036H3805M3815 3036H3825M3903 3036H3913M3050 3084H3060M3215 3084H3225M3765 3084H3775M3825 3084H3858M3963 3084H3973M3983 3084H3993M4023 3084H4043M4060 3084H4070M4095 3084H4105M4195 3084H4210M3280 3131H3290M3660 3131H3670M3933 3131H3943M4043 3131H4060M3255 3179H3270M3330 3179H3365M3395 3179H3415M3825 3179H3845M4043 3179H4060M3270 3227H3280M3775 3227H3790M3845 3227H3858M4013 3227H4043M3365 3275H3385M3415 3275H3435M3450 3275H3458M3790 3275H3805M3963 3275H3973M4043 3275H4060M3270 3323H3290M3315 3323H3330M3415 3323H3435M3685 3323H3700M3805 3323H3815M3883 3323H3903M3933 3323H3943M3280 3371H3305M3650 3371H3670M3710 3371H3720M3730 3371H3745M3765 3371H3775M3815 3371H3825M3290 3418H3305M3395 3418H3415M3858 3418H3868M3290 3466H3305M3315 3466H3330M3415 3466H3435M3650 3466H3660M3710 3466H3720M3943 3466H3963M3993 3466H4003M4013 3466H4023M3660 3514H3670M3730 3514H3745M3913 3514H3933M3943 3514H3963M3983 3514H3993M4023 3514H4043M4650 3514H4660M3458 3562H3468M3618 3562H3638M3648 3562H3650M4080 3562H4105M4650 3562H4660M4705 3562H4735M3070 3610H3080M3140 3610H3155M4125 3610H4145M4445 3610H4455M4715 3610H4735M3070 3658H3080M3105 3658H3140M3225 3658H3235M3618 3658H3638M3648 3658H3650M4175 3658H4185M3070 3705H3080M3170 3705H3190M3558 3705H3578M4070 3705H4080M4175 3705H4185M4650 3705H4660M3050 3753H3060M3070 3753H3080M3140 3753H3155M3225 3753H3235M4060 3753H4070M3155 3801H3170M3205 3801H3215M3235 3801H3245M4155 3801H4165M3050 3849H3060M3090 3849H3105M3215 3849H3235M3458 3849H3468M4060 3849H4070M4690 3849H4705M4165 3897H4175M2933 3945H2958M3023 3945H3043M4175 3945H4185M4210 3945H4225M4305 3945H4315M2878 3992H2898M2958 3992H2998M3033 3992H3050M3478 3992H3488M3498 3992H3518M4165 3992H4175M2863 4040H2878M2998 4040H3013M3558 4040H3578M4165 4040H4175M4455 4040H4473M3558 4136H3578M4165 4136H4195M4210 4136H4225M4240 4136H4260M2878 4184H2918M2878 4232H2898M2958 4232H2968M3033 4232H3043M4335 4232H4355M2843 4279H2853M2968 4279H2998M3043 4279H3050M4390 4279H4400M4415 4279H4425M4455 4279H4473M2863 4327H2878M3205 4375H3215M3235 4375H3245M3070 4423H3090M4155 4423H4165M4548 4423H4563M3140 4471H3170M4538 4471H4548M4583 4471H4613M3155 4519H3170M4508 4519H4528M3140 4566H3155M3245 4566H3255M4380 4566H4390M4415 4566H4425M4473 4566H4483M3070 4614H3080M4355 4614H4365M3080 4662H3090M3105 4662H3125M3140 4662H3170M3215 4662H3225M4563 4662H4583M4613 4662H4623M3080 4710H3105M4473 4710H4483M3080 4758H3090M3205 4758H3215M3225 4758H3235M3488 4806H3498M3638 4806H3648M4715 4806H4735M3498 4853H3518M4660 4853H4680M3155 4901H3170M3648 4901H3650M4705 4901H4715M3468 4949H3478M3498 4949H3518M3578 4949H3598M4660 4949H4680M4715 4949H4735"/>
<path stroke="#08b564" stroke-width="54" fill="none" d="M2700 357H2710M4508 357H4528M4583 357H4603M4633 357H4640M2745 405H2765M2775 405H2795M2820 405H2830M2690 453H2700M2795 453H2805M2690 500H2700M2948 500H2958M2978 500H2998M4390 500H4400M4415 500H4445M2745 548H2765M2795 548H2805M2843 548H2853M2948 548H2958M2968 548H2978M3043 548H3050M3305 548H3315M3365 548H3385M3395 548H3415M4473 548H4483M4613 548H4623M2765 596H2775M2795 596H2805M3315 596H3330M3685 596H3700M3730 596H3745M3845 596H3858M4315 596H4335M4355 596H4365M4380 596H4390M4415 596H4425M4493 596H4508M2775 644H2805M2690 692H2700M2795 740H2805M2820 740H2830M2765 787H2775M4315 787H4335M4365 787H4380M4390 787H4400M4415 787H4425M2878 931H2898M2933 931H2948M3825 931H3845M4415 979H4425M2948 1027H2958M3993 1027H4003M4285 1027H4315M2968 1074H2978M2998 1074H3013M4315 1074H4335M4415 1074H4425M3013 1122H3023M4493 1122H4508M4528 1122H4538M2918 1170H2933M2968 1170H2998M4080 1170H4095M4145 1170H4155M4305 1170H4315M4380 1170H4390M4493 1170H4508M4623 1170H4633M2730 1218H2745M2775 1218H2795M2878 1218H2898M4473 1218H4483M4538 1218H4548M4583 1218H4603M4493 1266H4508M4538 1266H4548M4603 1266H4613M3235 1314H3245M3125 1361H3140M3170 1361H3190M3235 1361H3245M3140 1457H3155M3598 1457H3608M3060 1505H3070M3235 1505H3245M3205 1553H3215M4060 1553H4070M4175 1553H4185M4240 1553H4260M3190 1601H3205M4145 1601H4155M4583 1601H4603M4623 1601H4633M3488 1648H3498M3648 1648H3650M3720 1648H3730M4060 1648H4070M4210 1648H4225M3205 1696H3215M3235 1696H3245M4185 1696H4195M4528 1696H4538M4548 1696H4563M3070 1744H3080M3225 1744H3235M4225 1744H4240M3805 1792H3815M3943 1792H3973M4023 1792H4043M3255 1840H3280M3415 1840H3435M3290 1888H3305M3365 1888H3385M3913 1888H3963M3280 1983H3290M3365 1983H3385M3415 1983H3435M3395 2031H3415M3765 2031H3775M3963 2031H3973M3305 2079H3315M3365 2079H3385M3450 2079H3458M4265 2079H4285M4445 2079H4455M3395 2175H3415M3670 2175H3685M3720 2175H3745M3790 2175H3805M3963 2175H3973M3993 2175H4003M3170 2270H3190M3488 2270H3498M4650 2270H4680M4705 2270H4715M3225 2318H3235M4548 2318H4563M3558 2366H3578M4680 2366H4690M4705 2366H4715M3558 2414H3578M3598 2414H3608M3720 2414H3730M3775 2414H3790M3050 2509H3070M3235 2509H3245M3558 2509H3578M3618 2509H3638M4705 2557H4715M3205 2605H3215M3648 2605H3650M3973 2605H3983M3648 2653H3650M3255 2701H3270M3290 2701H3305M3365 2701H3395M3700 2701H3710M3790 2701H3805M3650 2749H3660M3845 2749H3858M3868 2749H3883M4013 2749H4023M3305 2797H3315M4003 2797H4013M4043 2797H4060M3255 2844H3270M3385 2844H3395M3435 2844H3458M3710 2844H3720M3730 2844H3745M3983 2844H3993M4043 2844H4060M3330 2892H3385M3395 2892H3415M3913 2892H3933M3963 2892H3973M4013 2892H4023M3435 2940H3450M3983 2940H3993M4095 2940H4105M3350 2988H3365M3650 2988H3670M3815 2988H3825M4445 2988H4455M3330 3036H3350M3685 3036H3700M3755 3036H3765M3868 3036H3883M3963 3036H3973M3090 3084H3105M3155 3084H3170M3415 3084H3435M3670 3084H3685M3710 3084H3720M3730 3084H3745M3933 3084H3943M3270 3131H3280M3435 3131H3450M3650 3131H3660M3790 3131H3805M3868 3131H3883M3280 3179H3290M3720 3227H3730M3858 3227H3903M3270 3275H3280M3305 3275H3330M4003 3275H4013M3255 3323H3270M3305 3323H3315M3365 3323H3385M3700 3323H3710M3755 3323H3775M4003 3323H4013M3435 3371H3450M4003 3371H4013M3883 3418H3903M3270 3466H3290M3305 3466H3315M3350 3466H3365M3450 3466H3458M3498 3514H3518M3815 3514H3825M3858 3514H3903M3518 3562H3528M4660 3562H4680M4095 3610H4105M4210 3610H4225M4260 3610H4265M3458 3658H3468M4080 3658H4095M4195 3658H4210M4135 3705H4145M4210 3705H4225M3090 3753H3140M4135 3753H4145M4210 3753H4225M3060 3801H3080M3105 3801H3125M4135 3801H4145M4185 3801H4195M3070 3849H3090M3105 3849H3170M3190 3849H3215M3235 3849H3255M4165 3945H4175M4415 3945H4425M4445 3945H4455M2853 3992H2863M2998 3992H3013M4155 3992H4165M4285 3992H4315M4445 3992H4455M4070 4040H4080M4390 4040H4400M4415 4040H4425M4445 4040H4455M3043 4088H3050M3468 4136H3478M3033 4184H3043M2948 4232H2958M4400 4232H4415M4455 4232H4473M4285 4327H4305M4425 4327H4445M4455 4327H4473M4483 4375H4493M4563 4423H4583M4633 4423H4640M4483 4471H4493M4548 4471H4563M3125 4519H3155M3235 4519H3245M4583 4519H4603M4633 4519H4640M4583 4566H4603M3050 4614H3060M3105 4614H3125M3235 4614H3255M3060 4662H3070M3125 4662H3140M3225 4662H3235M4563 4710H4583M4603 4710H4613M3060 4758H3070M3140 4758H3155M4473 4758H4483M4633 4758H4640M3060 4901H3070M3170 4901H3190M3468 4901H3478M3498 4901H3518M3518 4949H3528"/>
<path stroke="#14bd58" stroke-width="54" fill="none" d="M2690 357H2700M4613 405H4623M2745 500H2775M2795 500H2820M4483 500H4493M4508 500H4528M4563 500H4583M2853 548H2863M2978 548H2998M3315 548H3330M4563 548H4583M2843 596H2853M2933 596H2948M2998 596H3013M3745 596H3755M2730 692H2745M2765 692H2775M3043 692H3050M4455 692H4473M4473 692H4493M2898 740H2918M4355 740H4365M4548 740H4563M2745 787H2765M4548 787H4583M4305 835H4315M2998 931H3013M3043 931H3050M3755 931H3765M3790 931H3805M3815 931H3825M4305 931H4315M2898 979H2918M2948 979H2958M2968 979H2978M2853 1027H2898M2918 1027H2933M3023 1027H3033M4415 1027H4425M4265 1122H4285M4400 1122H4415M4633 1122H4640M4135 1170H4145M4240 1170H4260M2700 1218H2710M4265 1218H4285M4335 1218H4355M4483 1218H4493M2853 1266H2863M2958 1266H2968M3033 1266H3043M4390 1266H4400M4623 1266H4633M3070 1314H3080M3225 1314H3235M4528 1314H4538M4613 1314H4623M4483 1361H4493M4528 1361H4538M4623 1361H4633M4538 1409H4548M3170 1457H3190M4070 1457H4080M4095 1457H4105M4185 1457H4195M4225 1457H4240M3125 1505H3140M3090 1648H3105M3140 1648H3155M3528 1648H3538M3558 1648H3578M3710 1648H3720M3050 1744H3060M3450 1792H3458M3710 1792H3720M4003 1792H4013M3255 1888H3270M3385 1888H3395M3730 2031H3745M3805 2031H3815M3868 2031H3883M3315 2079H3330M3385 2079H3395M4285 2079H4305M3270 2127H3280M3350 2127H3365M3290 2175H3330M3350 2175H3365M3710 2175H3720M4043 2175H4060M3468 2222H3478M3538 2270H3558M4690 2270H4705M3170 2366H3190M4660 2366H4680M3478 2414H3488M3578 2414H3598M3618 2414H3638M3648 2414H3650M3815 2414H3825M3558 2462H3578M3458 2509H3468M3638 2509H3648M3205 2557H3215M3458 2557H3468M3478 2605H3488M3578 2605H3598M3685 2605H3700M3578 2653H3598M3618 2653H3638M3330 2749H3350M3933 2749H3943M3913 2797H3933M4013 2797H4023M3858 2844H3868M4013 2844H4023M3868 2892H3883M4043 2892H4060M4095 2892H4105M3330 2940H3350M3415 2940H3435M3868 2940H3883M3913 2940H3933M3033 2988H3043M3280 2988H3290M3365 2988H3385M3903 2988H3913M4043 2988H4060M3395 3036H3415M4013 3036H4023M3660 3084H3670M3745 3084H3755M4260 3084H4265M3350 3131H3365M3983 3131H3993M4023 3131H4043M3710 3179H3720M3868 3179H3883M3913 3179H3933M3943 3179H3963M3983 3179H3993M4023 3179H4043M3255 3275H3270M3385 3275H3395M3435 3275H3450M3650 3275H3660M3720 3275H3730M3730 3323H3745M3670 3371H3685M3745 3371H3755M3825 3371H3858M3883 3371H3903M3983 3371H3993M3280 3418H3290M3305 3418H3315M3350 3418H3365M3415 3418H3435M3660 3418H3700M3775 3418H3815M3913 3418H3943M3993 3418H4013M3385 3466H3395M3700 3466H3710M3730 3466H3745M3458 3514H3468M3578 3514H3608M3648 3514H3650M3845 3514H3858M4043 3514H4060M3215 3562H3225M4175 3562H4195M3060 3610H3070M3080 3610H3090M3155 3610H3170M3235 3610H3245M4060 3610H4070M4105 3610H4125M4155 3610H4165M4175 3610H4195M3170 3658H3190M3638 3658H3648M4125 3658H4135M3140 3705H3155M3478 3705H3488M3215 3753H3225M3235 3753H3245M3050 3801H3060M3090 3801H3105M4210 3801H4225M3060 3849H3070M3478 3849H3488M3538 3849H3558M3648 3849H3650M4125 3849H4135M4210 3849H4225M2978 3945H2998M4135 3945H4145M4285 3945H4305M4425 3945H4445M4455 3945H4473M2933 3992H2948M3023 3992H3033M4315 3992H4335M4365 3992H4380M4400 3992H4415M4060 4040H4070M4210 4040H4225M4380 4040H4390M4455 4184H4473M4285 4232H4305M4365 4232H4380M4445 4232H4455M2878 4279H2898M2948 4279H2958M3023 4279H3033M4265 4279H4305M4335 4279H4355M4400 4279H4415M4415 4327H4425M3050 4375H3060M3215 4375H3225M3050 4423H3070M3090 4423H3105M3215 4423H3225M3070 4471H3080M4493 4471H4508M3105 4519H3125M3205 4519H3215M4473 4519H4483M4563 4519H4583M3105 4566H3125M3215 4566H3225M4613 4566H4623M3215 4614H3225M3090 4662H3105M4493 4662H4528M4603 4662H4613M4623 4662H4633M3070 4710H3080M3155 4710H3170M3215 4710H3225M4493 4710H4508M3125 4758H3140M3155 4758H3190M4483 4758H4493M3458 4806H3468M3618 4806H3638M3528 4853H3538M4690 4853H4705M3538 4949H3558M3598 4949H3608M4690 4949H4705"/>
<path stroke="#29c349" stroke-width="54" fill="none" d="M2745 357H2765M2795 357H2805M4493 357H4508M4603 357H4613M2710 405H2730M4508 405H4528M2640 453H2650M2765 453H2775M2805 453H2830M4355 500H4365M4380 500H4390M4633 500H4640M2650 596H2670M2853 596H2863M2898 596H2918M3023 596H3033M3350 596H3365M2765 644H2775M2745 692H2765M4365 692H4380M4548 692H4563M4613 692H4623M2690 740H2700M3023 740H3033M4265 740H4285M4508 740H4528M2640 787H2650M2830 787H2843M2853 787H2863M2998 787H3013M4355 787H4365M4613 787H4623M4445 835H4455M2948 883H2958M2843 931H2853M3765 931H3790M4265 979H4285M4400 979H4415M2958 1027H2968M4380 1027H4390M4455 1027H4473M2878 1074H2898M2918 1074H2948M3023 1074H3033M4365 1074H4380M4400 1074H4415M2853 1122H2878M2918 1122H2933M2958 1122H2968M4355 1122H4365M4483 1122H4493M3043 1170H3050M4265 1170H4285M4355 1170H4365M4400 1170H4415M4445 1170H4455M4538 1170H4548M2843 1218H2863M2998 1218H3013M4380 1218H4400M4425 1218H4445M4623 1218H4633M3013 1266H3023M4265 1266H4285M4335 1266H4355M3125 1314H3140M3170 1314H3190M3205 1314H3215M4538 1314H4548M4623 1314H4633M3190 1361H3205M3225 1361H3235M4473 1361H4483M4508 1361H4528M3080 1409H3090M3245 1409H3255M4473 1409H4483M4548 1409H4563M4613 1409H4623M3080 1505H3090M3070 1553H3080M3190 1553H3205M3225 1553H3235M4473 1601H4483M4603 1601H4613M3225 1648H3235M3618 1648H3638M4095 1648H4105M4155 1648H4165M3060 1696H3070M3080 1696H3090M3105 1696H3125M4583 1696H4603M4633 1696H4640M3190 1744H3205M3235 1744H3245M4508 1744H4528M4538 1744H4548M4583 1744H4613M3350 1792H3365M3868 1792H3883M3913 1792H3933M3983 1792H3993M3270 1888H3280M3305 1888H3330M3395 1888H3435M3868 1888H3883M3315 1983H3330M3305 2031H3315M3330 2031H3350M3435 2031H3458M4365 2079H4380M4425 2079H4445M3305 2127H3315M3365 2175H3385M3435 2175H3450M3805 2175H3815M3330 2222H3350M3415 2222H3435M3458 2270H3468M3478 2270H3488M3488 2366H3498M4640 2366H4650M4690 2366H4705M3458 2414H3478M3498 2462H3518M3488 2509H3518M3538 2509H3558M3648 2509H3650M3478 2653H3488M3558 2653H3578M4680 2653H4690M3650 2701H3660M3710 2701H3720M3775 2701H3790M3943 2701H3963M4023 2701H4043M3670 2749H3685M3730 2749H3745M3755 2749H3765M3350 2797H3365M3868 2797H3883M3983 2797H3993M3330 2844H3350M3650 2844H3700M3825 2844H3845M3660 2892H3670M3720 2892H3730M3805 2892H3815M3933 2892H3943M3350 2940H3365M3660 2940H3670M4043 2940H4060M3023 2988H3033M3790 2988H3805M3913 2988H3933M3983 2988H3993M3350 3084H3365M3868 3084H3883M4043 3084H4060M3805 3131H3815M4013 3131H4023M3933 3179H3943M3350 3275H3365M3395 3275H3415M3700 3275H3710M3730 3275H3745M3765 3275H3775M3845 3275H3858M3903 3275H3933M3983 3275H4003M3858 3323H3883M3903 3323H3913M3255 3371H3270M3415 3371H3435M3868 3371H3883M3903 3371H3913M3963 3371H3973M3993 3371H4003M3255 3418H3270M3868 3418H3883M3973 3418H3983M3395 3466H3415M3660 3466H3670M3765 3466H3775M3745 3514H3755M3775 3514H3790M4013 3514H4023M4105 3562H4125M4155 3562H4165M3050 3610H3060M3090 3610H3105M4195 3610H4210M3080 3658H3090M3498 3658H3518M3050 3705H3060M3080 3705H3090M4060 3705H4070M4080 3705H4095M3155 3753H3170M3245 3753H3255M4165 3753H4175M3080 3801H3090M3125 3801H3155M3558 3849H3578M4070 3849H4080M4175 3849H4195M4265 3992H4285M4355 3992H4365M2878 4040H2898M4285 4088H4305M4380 4088H4390M4445 4088H4455M4335 4136H4355M4445 4136H4455M4380 4184H4390M4425 4279H4445M3190 4423H3205M3125 4471H3140M3245 4471H3255M3215 4519H3225M3205 4566H3215M3205 4614H3215M4538 4614H4548M3170 4662H3190M3225 4710H3235M4508 4758H4528M4563 4758H4583M3528 4806H3538M3558 4806H3618M4680 4806H4690M4705 4806H4715M4640 4853H4650M3478 4901H3488M3518 4901H3528M3538 4901H3558M4650 4901H4660M4690 4901H4705M3458 4949H3468"/>
<path stroke="#40ca38" stroke-width="54" fill="none" d="M2730 357H2745M2765 357H2775M2830 357H2843M2830 453H2843M2690 548H2700M2820 596H2830M2650 644H2670M4538 692H4548M4380 740H4400M4415 740H4425M4633 740H4640M4400 787H4415M4315 835H4335M4305 883H4315M4445 883H4455M2948 931H2958M3013 931H3023M4315 931H4335M4365 931H4380M4400 931H4425M2918 979H2933M4335 979H4355M2843 1074H2853M3013 1074H3023M4265 1074H4285M4390 1074H4400M4425 1074H4445M2878 1122H2898M4145 1122H4155M4538 1122H4548M4603 1122H4613M2933 1170H2948M2958 1170H2968M4390 1170H4400M2898 1218H2918M4365 1218H4380M2933 1266H2948M2978 1266H2998M4305 1266H4315M4365 1266H4380M4483 1266H4493M3080 1361H3090M3125 1409H3140M3125 1457H3140M4240 1457H4260M3170 1505H3190M3205 1505H3215M3060 1553H3070M3090 1553H3125M3060 1601H3070M3215 1601H3225M3245 1601H3255M4528 1601H4548M3215 1648H3225M3245 1648H3255M4185 1648H4195M3050 1696H3060M4483 1696H4493M4623 1696H4633M3330 1983H3350M3270 2031H3280M3350 2031H3365M3385 2031H3395M3415 2031H3435M3790 2031H3805M4043 2031H4060M3305 2222H3315M3558 2270H3578M3235 2366H3245M3468 2366H3478M3498 2366H3518M3598 2366H3608M4680 2509H4690M3558 2605H3578M3598 2605H3608M3720 2701H3730M3805 2701H3815M3868 2701H3913M4013 2701H4023M3685 2749H3700M3710 2749H3720M3745 2749H3755M3805 2749H3815M3903 2749H3913M3650 2797H3660M3903 2797H3913M3745 2844H3755M3845 2844H3858M3868 2844H3883M3685 2892H3700M3730 2892H3755M3983 2892H3993M3805 2940H3815M3305 3036H3315M3670 3036H3685M3745 3036H3755M3933 3036H3943M3805 3084H3815M3805 3179H3815M4023 3275H4043M3660 3323H3685M3315 3371H3330M3365 3371H3395M3270 3418H3280M3700 3418H3710M3685 3466H3700M3755 3466H3765M3720 3514H3730M4070 3562H4080M3125 3610H3140M4105 3658H4125M4185 3705H4195M3060 3753H3070M4165 3849H4175M4070 3945H4080M4335 3945H4355M4400 4040H4415M4305 4088H4335M4425 4088H4445M4305 4136H4315M4415 4136H4425M4455 4136H4473M4425 4232H4445M3033 4279H3043M4355 4279H4365M3033 4327H3043M4380 4327H4390M4538 4375H4548M4613 4375H4623M4538 4423H4548M3060 4471H3070M4508 4566H4528M4563 4566H4583M3140 4614H3155M4483 4614H4493M4583 4614H4613M4633 4614H4640M3050 4710H3060M3105 4710H3125M3140 4710H3155M3170 4710H3190M3205 4710H3215M4583 4710H4603M4623 4710H4633M4680 4901H4690M3558 4949H3578"/>
<path stroke="#57d027" stroke-width="54" fill="none" d="M4563 357H4583M2730 405H2745M2775 453H2795M2918 548H2933M4548 548H4563M2670 596H2690M2730 596H2745M2805 596H2820M4285 596H4305M4390 596H4400M2650 692H2670M2700 692H2710M2820 692H2830M4563 692H4583M2710 740H2730M2805 740H2820M4563 740H4583M2730 787H2745M2820 787H2830M2978 787H2998M4380 787H4390M4445 787H4473M3043 835H3050M2958 883H2968M3670 931H3685M2933 1027H2948M3013 1027H3023M4355 1027H4365M2853 1074H2863M2978 1074H2998M4380 1074H4390M4365 1122H4390M2853 1170H2863M2878 1170H2898M3023 1170H3033M3043 1218H3050M4380 1266H4390M3060 1314H3070M3090 1314H3105M4583 1314H4603M3050 1361H3060M3140 1361H3155M3090 1409H3105M4528 1409H4538M4145 1457H4155M3245 1553H3255M4548 1601H4563M4613 1601H4623M3050 1648H3060M3478 1648H3488M3538 1648H3558M3608 1648H3618M3638 1648H3648M4070 1648H4095M3090 1696H3105M3190 1696H3205M3225 1696H3235M4508 1696H4528M4613 1696H4623M4613 1744H4623M3255 1792H3280M3305 1792H3315M3435 1792H3450M4043 1792H4060M3435 1888H3450M4043 1888H4060M3270 1983H3280M3385 1983H3395M3315 2127H3330M3280 2175H3290M4680 2222H4690M3608 2414H3618M3468 2509H3478M3468 2557H3478M3933 2797H3943M3790 2844H3815M3710 2892H3720M3845 2892H3858M3730 2988H3745M3845 2988H3858M3825 3036H3845M3903 3084H3913M3730 3131H3745M3943 3275H3963M3650 3323H3660M3745 3323H3755M3943 3323H3963M3350 3371H3365M3720 3371H3730M3858 3371H3868M3983 3418H3993M4013 3418H4023M3720 3466H3730M3815 3466H3825M4023 3466H4043M3235 3562H3245M4135 3562H4145M3060 3658H3070M3155 3658H3170M3060 3705H3070M4165 3705H4175M3598 3849H3608M4135 3849H4145M4315 3945H4335M4285 4040H4305M4335 4184H4355M4425 4184H4445M4305 4232H4335M4380 4232H4390M2878 4327H2918M2948 4327H2958M4563 4375H4583M4633 4375H4640M3235 4423H3245M3105 4471H3125M4528 4519H4538M4493 4566H4508M4633 4566H4640M3125 4710H3140M4548 4710H4563M4633 4710H4640M3518 4806H3528M3458 4853H3478M3608 4853H3638M4650 4853H4660M4650 4949H4660M4705 4949H4715"/>
<path stroke="#72d513" stroke-width="54" fill="none" d="M2640 405H2650M2670 405H2690M4548 405H4563M2710 453H2730M2650 500H2670M4493 500H4508M2805 548H2820M2830 548H2843M2640 596H2650M2830 596H2843M2978 596H2998M2670 644H2690M2710 644H2745M2820 644H2830M2640 692H2650M4623 692H4633M4623 740H4633M2948 835H2958M2968 835H2978M4285 835H4305M4335 835H4355M2918 883H2933M4315 883H4335M4400 883H4425M4455 883H4473M2863 931H2878M2978 931H2998M4265 931H4305M4335 931H4355M4455 931H4473M2878 979H2898M2978 979H2998M3013 979H3023M4305 979H4315M4355 979H4380M4390 979H4400M4425 979H4455M2843 1027H2853M2898 1027H2918M4445 1027H4455M2978 1122H2998M4335 1122H4355M2933 1218H2948M2958 1218H2968M3023 1266H3033M3050 1314H3060M3215 1361H3225M4583 1361H4603M3215 1409H3225M3205 1457H3215M3225 1457H3235M3090 1505H3105M3080 1553H3090M3205 1601H3215M3458 1648H3468M4175 1648H4185M3245 1696H3255M3060 1744H3070M3080 1744H3090M3125 1744H3140M3245 1744H3255M3315 1792H3330M3385 1792H3395M3415 1792H3435M3280 1888H3290M3365 2031H3385M3270 2175H3280M3598 2270H3608M3458 2366H3468M3468 2462H3478M3578 2462H3608M3648 2462H3650M3578 2509H3598M3518 2557H3528M3498 2605H3518M3608 2605H3618M3458 2653H3468M3538 2653H3558M3608 2653H3618M3815 2749H3825M3700 2797H3710M3825 2797H3845M3330 2988H3350M3660 3036H3670M3730 3036H3745M3805 3036H3815M3660 3275H3670M3815 3275H3825M4013 3275H4023M3845 3323H3858M3395 3371H3415M3755 3371H3765M3913 3371H3943M3730 3418H3745M4043 3418H4060M3858 3466H3868M3913 3466H3933M4043 3466H4060M3155 3562H3190M3225 3562H3235M3050 3658H3060M3090 3658H3105M3235 3705H3245M2978 4040H2998M4355 4088H4365M4365 4136H4380M4390 4136H4400M4425 4136H4445M4285 4184H4305M4365 4184H4380M4400 4184H4415M4415 4232H4425M4583 4375H4613M3125 4423H3155M4473 4471H4483M4633 4471H4640M4548 4662H4563M4508 4710H4528M3518 4853H3528M3538 4853H3558M3638 4853H3648M3578 4901H3598M3608 4901H3618M4680 4949H4690"/>
<path stroke="#92da00" stroke-width="54" fill="none" d="M2805 405H2820M2830 405H2843M2775 500H2795M2670 692H2690M2775 692H2795M2710 787H2730M2843 835H2853M3013 835H3023M4265 835H4285M4355 835H4365M4455 835H4473M2863 883H2878M3043 883H3050M4265 883H4285M4335 883H4355M4390 931H4400M4445 931H4455M2843 979H2853M2933 979H2948M2998 979H3013M3043 979H3050M2998 1027H3013M3033 1027H3043M4335 1027H4355M3033 1074H3043M4335 1074H4355M2843 1122H2853M2933 1122H2948M3033 1170H3043M3023 1218H3043M3080 1314H3090M3155 1314H3170M4613 1361H4623M3225 1409H3235M3050 1457H3070M3050 1505H3060M3105 1505H3125M3190 1505H3205M4508 1601H4528M4225 1648H4240M3468 2270H3478M3498 2270H3518M4680 2270H4690M3538 2366H3558M3608 2366H3618M4715 2366H4735M3498 2414H3518M3468 2605H3478M3538 2605H3558M3720 2797H3730M3745 2988H3755M3825 2988H3845M3845 3036H3858M4013 3323H4023M3270 3371H3280M4013 3371H4023M3720 3418H3730M3815 3418H3825M3943 3418H3973M3170 3610H3190M4265 4088H4285M4390 4088H4415M4265 4136H4285M4380 4136H4390M4528 4423H4538M3205 4471H3215M4508 4471H4528M4623 4471H4633M4528 4566H4538M4493 4614H4508M4583 4662H4603M4538 4710H4548M4705 4853H4715M3528 4901H3538M3598 4901H3608M3638 4901H3648"/>
<path stroke="#b3df00" stroke-width="54" fill="none" d="M2730 453H2745M2700 500H2710M2730 500H2745M4623 500H4633M2710 548H2730M2710 692H2730M2805 692H2820M2670 740H2690M2670 787H2700M2958 931H2968M4380 931H4390M2958 979H2968M3023 979H3033M4285 979H4305M4425 1027H4445M3033 1122H3043M4390 1122H4400M4425 1122H4445M3190 1314H3205M4583 1409H4603M3070 1457H3080M3245 1457H3255M3140 1505H3170M3245 1505H3255M3518 1648H3528M4538 1696H4548M3385 2175H3395M3528 2270H3538M3648 2270H3650M3478 2366H3488M3638 2366H3650M3488 2414H3498M3638 2414H3648M3458 2462H3468M3528 2462H3558M3518 2509H3528M3488 2605H3498M3498 2653H3518M3528 2653H3538M3815 2701H3825M3755 2797H3765M3815 2797H3825M3963 3323H3973M3080 3562H3105M4365 3945H4380M4315 4040H4335M4365 4040H4380M4285 4136H4305M4400 4136H4415M4265 4184H4285M3105 4423H3125M4623 4519H4633M4603 4566H4613M4473 4614H4483M4613 4614H4623M4493 4758H4508M4528 4758H4538M4603 4758H4613M4680 4853H4690"/>
<path stroke="#cee100" stroke-width="54" fill="none" d="M2640 500H2650M2820 548H2830M2843 883H2853M2898 883H2918M4285 883H4305M2853 979H2863M3033 979H3043M4380 979H4390M3080 1457H3105M3190 1457H3205M3215 1553H3225M3155 1744H3170M3518 2270H3528M3578 2270H3598M3608 2270H3618M3528 2414H3538M3518 2462H3528M3618 2462H3648M3528 2605H3538M3638 2605H3648M3518 2653H3528M3845 2797H3858M3765 3418H3775M3845 3466H3858M3060 3562H3070M3105 3562H3125M4355 4040H4365M4415 4088H4425M4315 4136H4335M4355 4136H4365M4390 4184H4400M4548 4375H4563M4493 4423H4508M4528 4471H4538M4623 4566H4633M4508 4614H4538M4623 4614H4633"/>
<path stroke="#e7e300" stroke-width="54" fill="none" d="M2650 357H2670M2710 500H2730M2820 500H2843M4548 500H4563M2640 548H2650M4365 835H4380M4415 835H4425M2933 883H2948M2998 883H3013M4390 883H4400M3033 931H3043M3280 2031H3290M4715 2270H4735M3805 2988H3815M3943 3371H3963M3755 3418H3765M3070 3562H3080M3205 3562H3215M4305 4184H4315M4493 4375H4508M4623 4375H4633M4538 4662H4548M4538 4758H4563M4583 4758H4603"/>
<path stroke="#fde300" stroke-width="54" fill="none" d="M2640 357H2650M2670 357H2690M2710 357H2730M2820 357H2830M2670 548H2690M2853 835H2863M2878 835H2898M2933 835H2948M3023 835H3043M4380 835H4390M4400 835H4415M4425 835H4445M2853 883H2863M2878 883H2898M2978 883H2998M3013 883H3043M4355 883H4365M4425 883H4445M3023 931H3033M4425 931H4445M3215 1314H3225M3215 1457H3225M3215 1505H3225M4145 1648H4155M3215 1696H3225M3215 1744H3225M3518 2366H3538M3518 2414H3528M3608 2462H3618M3518 2605H3528M3660 2797H3670M3685 2797H3700M3710 2797H3720M3730 2797H3755M3765 2797H3790M3805 2797H3815M4335 4088H4355M4365 4088H4380M4415 4184H4425M4445 4184H4455M4508 4375H4538M3205 4423H3215M4623 4423H4633"/>
</g>
<rect x="283.95" y="33.0" width="0.7" height="464.0" fill="#fff" fill-opacity="0.22"/>
<rect x="304.65" y="33.0" width="0.7" height="464.0" fill="#fff" fill-opacity="0.22"/>
<rect x="325.15" y="33.0" width="0.7" height="464.0" fill="#fff" fill-opacity="0.22"/>
<rect x="345.40" y="33.0" width="0.7" height="464.0" fill="#fff" fill-opacity="0.22"/>
<rect x="364.65" y="33.0" width="0.7" height="464.0" fill="#fff" fill-opacity="0.22"/>
<rect x="385.45" y="33.0" width="0.7" height="464.0" fill="#fff" fill-opacity="0.22"/>
<rect x="405.65" y="33.0" width="0.7" height="464.0" fill="#fff" fill-opacity="0.22"/>
<rect x="426.15" y="33.0" width="0.7" height="464.0" fill="#fff" fill-opacity="0.22"/>
<rect x="446.95" y="33.0" width="0.7" height="464.0" fill="#fff" fill-opacity="0.22"/>
<rect x="463.65" y="33.0" width="0.7" height="464.0" fill="#fff" fill-opacity="0.22"/>
</g></g>
<text x="261.20" y="36.49" font-size="5.2" text-anchor="end" fill="#2a2a2a" >SGK1</text>
<text x="261.20" y="41.28" font-size="5.2" text-anchor="end" fill="#2a2a2a" >TPM4</text>
<text x="261.20" y="46.06" font-size="5.2" text-anchor="end" fill="#2a2a2a" >CD69</text>
<text x="261.20" y="50.84" font-size="5.2" text-anchor="end" fill="#2a2a2a" >EHMT1</text>
<text x="261.20" y="55.63" font-size="5.2" text-anchor="end" fill="#2a2a2a" >AQP3</text>
<text x="261.20" y="60.41" font-size="5.2" text-anchor="end" fill="#2a2a2a" >CCL3</text>
<text x="261.20" y="65.19" font-size="5.2" text-anchor="end" fill="#2a2a2a" >GBP4</text>
<text x="261.20" y="69.98" font-size="5.2" text-anchor="end" fill="#2a2a2a" >APOL1</text>
<text x="261.20" y="74.76" font-size="5.2" text-anchor="end" fill="#2a2a2a" >WFDC2</text>
<text x="261.20" y="79.54" font-size="5.2" text-anchor="end" fill="#2a2a2a" >PCDH9</text>
<text x="261.20" y="84.33" font-size="5.2" text-anchor="end" fill="#2a2a2a" >HBA2</text>
<text x="261.20" y="89.11" font-size="5.2" text-anchor="end" fill="#2a2a2a" >HBA1</text>
<text x="261.20" y="93.89" font-size="5.2" text-anchor="end" fill="#2a2a2a" >HBB</text>
<text x="261.20" y="98.68" font-size="5.2" text-anchor="end" fill="#2a2a2a" >RGS1</text>
<text x="261.20" y="103.46" font-size="5.2" text-anchor="end" fill="#2a2a2a" >AREG</text>
<text x="261.20" y="108.24" font-size="5.2" text-anchor="end" fill="#2a2a2a" >RGS2</text>
<text x="261.20" y="113.03" font-size="5.2" text-anchor="end" fill="#2a2a2a" >PRTN3</text>
<text x="261.20" y="117.81" font-size="5.2" text-anchor="end" fill="#2a2a2a" >ELANE</text>
<text x="261.20" y="122.59" font-size="5.2" text-anchor="end" fill="#2a2a2a" >EREG</text>
<text x="261.20" y="127.38" font-size="5.2" text-anchor="end" fill="#2a2a2a" >CST7</text>
<text x="261.20" y="132.16" font-size="5.2" text-anchor="end" fill="#2a2a2a" >MKI67</text>
<text x="261.20" y="136.95" font-size="5.2" text-anchor="end" fill="#2a2a2a" >HIST1H4C</text>
<text x="261.20" y="141.73" font-size="5.2" text-anchor="end" fill="#2a2a2a" >TUBA1B</text>
<text x="261.20" y="146.51" font-size="5.2" text-anchor="end" fill="#2a2a2a" >CCND2</text>
<text x="261.20" y="151.30" font-size="5.2" text-anchor="end" fill="#2a2a2a" >RRM2</text>
<text x="261.20" y="156.08" font-size="5.2" text-anchor="end" fill="#2a2a2a" >TMPO</text>
<text x="261.20" y="160.86" font-size="5.2" text-anchor="end" fill="#2a2a2a" >CENPF</text>
<text x="261.20" y="165.65" font-size="5.2" text-anchor="end" fill="#2a2a2a" >UCHL1</text>
<text x="261.20" y="170.43" font-size="5.2" text-anchor="end" fill="#2a2a2a" >SMC4</text>
<text x="261.20" y="175.21" font-size="5.2" text-anchor="end" fill="#2a2a2a" >TPX2</text>
<text x="261.20" y="180.00" font-size="5.2" text-anchor="end" fill="#2a2a2a" >ANXA1</text>
<text x="261.20" y="184.78" font-size="5.2" text-anchor="end" fill="#2a2a2a" >GZMH</text>
<text x="261.20" y="189.56" font-size="5.2" text-anchor="end" fill="#2a2a2a" >RP11-598F7.3</text>
<text x="261.20" y="194.35" font-size="5.2" text-anchor="end" fill="#2a2a2a" >VIM</text>
<text x="261.20" y="199.13" font-size="5.2" text-anchor="end" fill="#2a2a2a" >FKBP11</text>
<text x="261.20" y="203.91" font-size="5.2" text-anchor="end" fill="#2a2a2a" >KRTCAP2</text>
<text x="261.20" y="208.70" font-size="5.2" text-anchor="end" fill="#2a2a2a" >S100A6</text>
<text x="261.20" y="213.48" font-size="5.2" text-anchor="end" fill="#2a2a2a" >HLA-C</text>
<text x="261.20" y="218.26" font-size="5.2" text-anchor="end" fill="#2a2a2a" >VIMP</text>
<text x="261.20" y="223.05" font-size="5.2" text-anchor="end" fill="#2a2a2a" >EMP3</text>
<text x="261.20" y="227.83" font-size="5.2" text-anchor="end" fill="#2a2a2a" >HLA-DRB1</text>
<text x="261.20" y="232.62" font-size="5.2" text-anchor="end" fill="#2a2a2a" >TAOK1</text>
<text x="261.20" y="237.40" font-size="5.2" text-anchor="end" fill="#2a2a2a" >HLA-DRA</text>
<text x="261.20" y="242.18" font-size="5.2" text-anchor="end" fill="#2a2a2a" >IL32</text>
<text x="261.20" y="246.97" font-size="5.2" text-anchor="end" fill="#2a2a2a" >ITM2C</text>
<text x="261.20" y="251.75" font-size="5.2" text-anchor="end" fill="#2a2a2a" >HLA-DPA1</text>
<text x="261.20" y="256.53" font-size="5.2" text-anchor="end" fill="#2a2a2a" >CD74</text>
<text x="261.20" y="261.32" font-size="5.2" text-anchor="end" fill="#2a2a2a" >ITGB7</text>
<text x="261.20" y="266.10" font-size="5.2" text-anchor="end" fill="#2a2a2a" >HLA-DRB5</text>
<text x="261.20" y="270.88" font-size="5.2" text-anchor="end" fill="#2a2a2a" >GNB2L1</text>
<text x="261.20" y="275.67" font-size="5.2" text-anchor="end" fill="#2a2a2a" >RPS17</text>
<text x="261.20" y="280.45" font-size="5.2" text-anchor="end" fill="#2a2a2a" >ATP5J</text>
<text x="261.20" y="285.23" font-size="5.2" text-anchor="end" fill="#2a2a2a" >EEF2</text>
<text x="261.20" y="290.02" font-size="5.2" text-anchor="end" fill="#2a2a2a" >RPS12</text>
<text x="261.20" y="294.80" font-size="5.2" text-anchor="end" fill="#2a2a2a" >RPS28</text>
<text x="261.20" y="299.58" font-size="5.2" text-anchor="end" fill="#2a2a2a" >HBD</text>
<text x="261.20" y="304.37" font-size="5.2" text-anchor="end" fill="#2a2a2a" >RPL7</text>
<text x="261.20" y="309.15" font-size="5.2" text-anchor="end" fill="#2a2a2a" >TMSB4X</text>
<text x="261.20" y="313.94" font-size="5.2" text-anchor="end" fill="#2a2a2a" >RPL28</text>
<text x="261.20" y="318.72" font-size="5.2" text-anchor="end" fill="#2a2a2a" >MT1X</text>
<text x="261.20" y="323.50" font-size="5.2" text-anchor="end" fill="#2a2a2a" >MT2A</text>
<text x="261.20" y="328.29" font-size="5.2" text-anchor="end" fill="#2a2a2a" >RPL41</text>
<text x="261.20" y="333.07" font-size="5.2" text-anchor="end" fill="#2a2a2a" >PTP4A3</text>
<text x="261.20" y="337.85" font-size="5.2" text-anchor="end" fill="#2a2a2a" >ATP5L</text>
<text x="261.20" y="342.64" font-size="5.2" text-anchor="end" fill="#2a2a2a" >ATP5E</text>
<text x="261.20" y="347.42" font-size="5.2" text-anchor="end" fill="#2a2a2a" >ALDOA</text>
<text x="261.20" y="352.20" font-size="5.2" text-anchor="end" fill="#2a2a2a" >IFI27</text>
<text x="261.20" y="356.99" font-size="5.2" text-anchor="end" fill="#2a2a2a" >AP1S2</text>
<text x="261.20" y="361.77" font-size="5.2" text-anchor="end" fill="#2a2a2a" >IL5RA</text>
<text x="261.20" y="366.55" font-size="5.2" text-anchor="end" fill="#2a2a2a" >METTL7A</text>
<text x="261.20" y="371.34" font-size="5.2" text-anchor="end" fill="#2a2a2a" >TCF4</text>
<text x="261.20" y="376.12" font-size="5.2" text-anchor="end" fill="#2a2a2a" >PABPC1</text>
<text x="261.20" y="380.90" font-size="5.2" text-anchor="end" fill="#2a2a2a" >LINC01781</text>
<text x="261.20" y="385.69" font-size="5.2" text-anchor="end" fill="#2a2a2a" >AC026369.3</text>
<text x="261.20" y="390.47" font-size="5.2" text-anchor="end" fill="#2a2a2a" >NSD2</text>
<text x="261.20" y="395.25" font-size="5.2" text-anchor="end" fill="#2a2a2a" >S100A8</text>
<text x="261.20" y="400.04" font-size="5.2" text-anchor="end" fill="#2a2a2a" >DEFA3</text>
<text x="261.20" y="404.82" font-size="5.2" text-anchor="end" fill="#2a2a2a" >LYZ</text>
<text x="261.20" y="409.61" font-size="5.2" text-anchor="end" fill="#2a2a2a" >S100A9</text>
<text x="261.20" y="414.39" font-size="5.2" text-anchor="end" fill="#2a2a2a" >S100A12</text>
<text x="261.20" y="419.17" font-size="5.2" text-anchor="end" fill="#2a2a2a" >MNDA</text>
<text x="261.20" y="423.96" font-size="5.2" text-anchor="end" fill="#2a2a2a" >LTF</text>
<text x="261.20" y="428.74" font-size="5.2" text-anchor="end" fill="#2a2a2a" >DEFA4</text>
<text x="261.20" y="433.52" font-size="5.2" text-anchor="end" fill="#2a2a2a" >MPO</text>
<text x="261.20" y="438.31" font-size="5.2" text-anchor="end" fill="#2a2a2a" >TOP2A</text>
<text x="261.20" y="443.09" font-size="5.2" text-anchor="end" fill="#2a2a2a" >NUSAP1</text>
<text x="261.20" y="447.87" font-size="5.2" text-anchor="end" fill="#2a2a2a" >UBE2C</text>
<text x="261.20" y="452.66" font-size="5.2" text-anchor="end" fill="#2a2a2a" >CENPE</text>
<text x="261.20" y="457.44" font-size="5.2" text-anchor="end" fill="#2a2a2a" >PTTG1</text>
<text x="261.20" y="462.22" font-size="5.2" text-anchor="end" fill="#2a2a2a" >ASPM</text>
<text x="261.20" y="467.01" font-size="5.2" text-anchor="end" fill="#2a2a2a" >HMGB2</text>
<text x="261.20" y="471.79" font-size="5.2" text-anchor="end" fill="#2a2a2a" >HMMR</text>
<text x="261.20" y="476.57" font-size="5.2" text-anchor="end" fill="#2a2a2a" >TTK</text>
<text x="261.20" y="481.36" font-size="5.2" text-anchor="end" fill="#2a2a2a" >HLA-DPB1</text>
<text x="261.20" y="486.14" font-size="5.2" text-anchor="end" fill="#2a2a2a" >HLA-DQB1</text>
<text x="261.20" y="490.92" font-size="5.2" text-anchor="end" fill="#2a2a2a" >SOX4</text>
<text x="261.20" y="495.71" font-size="5.2" text-anchor="end" fill="#2a2a2a" >HLA-DQA1</text>
<text x="482.40" y="139.10" font-size="6.1" text-anchor="start" fill="#333" >Identity</text>
<circle cx="484.6" cy="147.60" r="1.9" fill="#0866b4"/>
<text x="490.00" y="149.70" font-size="5.9" text-anchor="start" fill="#2a2a2a" >MPC_1</text>
<circle cx="484.6" cy="157.16" r="1.9" fill="#f57d08"/>
<text x="490.00" y="159.26" font-size="5.9" text-anchor="start" fill="#2a2a2a" >MPC_2</text>
<circle cx="484.6" cy="166.72" r="1.9" fill="#0a9646"/>
<text x="490.00" y="168.82" font-size="5.9" text-anchor="start" fill="#2a2a2a" >MPC_3</text>
<circle cx="484.6" cy="176.28" r="1.9" fill="#f08ab2"/>
<text x="490.00" y="178.38" font-size="5.9" text-anchor="start" fill="#2a2a2a" >MPC_4</text>
<circle cx="484.6" cy="185.84" r="1.9" fill="#c6ba14"/>
<text x="490.00" y="187.94" font-size="5.9" text-anchor="start" fill="#2a2a2a" >MPC_5</text>
<circle cx="484.6" cy="195.40" r="1.9" fill="#d85c66"/>
<text x="490.00" y="197.50" font-size="5.9" text-anchor="start" fill="#2a2a2a" >MPC_6</text>
<circle cx="484.6" cy="204.96" r="1.9" fill="#c42a2e"/>
<text x="490.00" y="207.06" font-size="5.9" text-anchor="start" fill="#2a2a2a" >MPC_7</text>
<circle cx="484.6" cy="214.52" r="1.9" fill="#b062b0"/>
<text x="490.00" y="216.62" font-size="5.9" text-anchor="start" fill="#2a2a2a" >MPC_8</text>
<circle cx="484.6" cy="224.08" r="1.9" fill="#72c8ee"/>
<text x="490.00" y="226.18" font-size="5.9" text-anchor="start" fill="#2a2a2a" >MPC_9</text>
<circle cx="484.6" cy="233.64" r="1.9" fill="#f9b276"/>
<text x="490.00" y="235.74" font-size="5.9" text-anchor="start" fill="#2a2a2a" >MPC_10</text>
<circle cx="484.6" cy="243.20" r="1.9" fill="#12a2b6"/>
<text x="490.00" y="245.30" font-size="5.9" text-anchor="start" fill="#2a2a2a" >MPC_11</text>
<text x="482.90" y="263.80" font-size="5.9" text-anchor="start" fill="#333" >Expression</text>
<defs><linearGradient id="vg" x1="0" y1="0" x2="0" y2="1"><stop offset="0.00" stop-color="#fde300"/><stop offset="0.10" stop-color="#b6df00"/><stop offset="0.20" stop-color="#5cd124"/><stop offset="0.30" stop-color="#19bf54"/><stop offset="0.40" stop-color="#00a87b"/><stop offset="0.50" stop-color="#00918b"/><stop offset="0.60" stop-color="#07708e"/><stop offset="0.70" stop-color="#164f8d"/><stop offset="0.80" stop-color="#282d87"/><stop offset="0.90" stop-color="#380875"/><stop offset="1.00" stop-color="#440054"/></linearGradient></defs>
<rect x="483" y="268" width="11" height="53.5" fill="url(#vg)"/>
<line x1="483" y1="274.5" x2="485" y2="274.5" stroke="#fff" stroke-width="0.5"/><line x1="492" y1="274.5" x2="494" y2="274.5" stroke="#fff" stroke-width="0.5"/>
<text x="496.80" y="276.60" font-size="5.9" text-anchor="start" fill="#333" >2</text>
<line x1="483" y1="284.5" x2="485" y2="284.5" stroke="#fff" stroke-width="0.5"/><line x1="492" y1="284.5" x2="494" y2="284.5" stroke="#fff" stroke-width="0.5"/>
<text x="496.80" y="286.60" font-size="5.9" text-anchor="start" fill="#333" >1</text>
<line x1="483" y1="294.2" x2="485" y2="294.2" stroke="#fff" stroke-width="0.5"/><line x1="492" y1="294.2" x2="494" y2="294.2" stroke="#fff" stroke-width="0.5"/>
<text x="496.80" y="296.30" font-size="5.9" text-anchor="start" fill="#333" >0</text>
<line x1="483" y1="304.1" x2="485" y2="304.1" stroke="#fff" stroke-width="0.5"/><line x1="492" y1="304.1" x2="494" y2="304.1" stroke="#fff" stroke-width="0.5"/>
<text x="496.80" y="306.20" font-size="5.9" text-anchor="start" fill="#333" >−1</text>
<line x1="483" y1="314" x2="485" y2="314" stroke="#fff" stroke-width="0.5"/><line x1="492" y1="314" x2="494" y2="314" stroke="#fff" stroke-width="0.5"/>
<text x="496.80" y="316.10" font-size="5.9" text-anchor="start" fill="#333" >−2</text>
<rect x="259.0" y="522.3" width="55.80" height="3.3" fill="#0866b4"/>
<rect x="314.8" y="522.3" width="56.80" height="3.3" fill="#f57d08"/>
<defs><filter id="bd" x="0" y="0" width="1" height="1"><feGaussianBlur stdDeviation="0.45 0.2"/></filter><clipPath id="cd"><rect x="259" y="528.5" width="112.6" height="148.5"/></clipPath></defs>
<g clip-path="url(#cd)"><g filter="url(#bd)"><g transform="scale(0.1)">
</g>
<rect x="259.0" y="528.50" width="55.8" height="7.92" fill="#d289b7"/>
<rect x="314.8" y="528.50" width="56.8" height="7.92" fill="#927dce"/>
<rect x="259.0" y="535.92" width="55.8" height="7.92" fill="#d289b7"/>
<rect x="314.8" y="535.92" width="56.8" height="7.92" fill="#806ac7"/>
<rect x="259.0" y="543.35" width="55.8" height="7.92" fill="#b682c3"/>
<rect x="314.8" y="543.35" width="56.8" height="7.92" fill="#9a86d2"/>
<rect x="259.0" y="550.77" width="55.8" height="7.92" fill="#b682c3"/>
<rect x="314.8" y="550.77" width="56.8" height="7.92" fill="#9a86d2"/>
<rect x="259.0" y="558.20" width="55.8" height="7.92" fill="#bf84bf"/>
<rect x="314.8" y="558.20" width="56.8" height="7.92" fill="#806ac7"/>
<rect x="259.0" y="565.62" width="55.8" height="7.92" fill="#a884cb"/>
<rect x="314.8" y="565.62" width="56.8" height="7.92" fill="#9a86d2"/>
<rect x="259.0" y="573.05" width="55.8" height="7.92" fill="#d289b7"/>
<rect x="314.8" y="573.05" width="56.8" height="7.92" fill="#8974cb"/>
<rect x="259.0" y="580.48" width="55.8" height="7.92" fill="#bf84bf"/>
<rect x="314.8" y="580.48" width="56.8" height="7.92" fill="#8974cb"/>
<rect x="259.0" y="587.90" width="55.8" height="7.92" fill="#b682c3"/>
<rect x="314.8" y="587.90" width="56.8" height="7.92" fill="#8974cb"/>
<rect x="259.0" y="595.33" width="55.8" height="7.92" fill="#ae83c7"/>
<rect x="314.8" y="595.33" width="56.8" height="7.92" fill="#9a86d2"/>
<rect x="259.0" y="602.75" width="55.8" height="7.92" fill="#7660c3"/>
<rect x="314.8" y="602.75" width="56.8" height="7.92" fill="#dc93b7"/>
<rect x="259.0" y="610.17" width="55.8" height="7.92" fill="#927dce"/>
<rect x="314.8" y="610.17" width="56.8" height="7.92" fill="#dc93b7"/>
<rect x="259.0" y="617.60" width="55.8" height="7.92" fill="#927dce"/>
<rect x="314.8" y="617.60" width="56.8" height="7.92" fill="#dc93b7"/>
<rect x="259.0" y="625.02" width="55.8" height="7.92" fill="#8974cb"/>
<rect x="314.8" y="625.02" width="56.8" height="7.92" fill="#d98cb5"/>
<rect x="259.0" y="632.45" width="55.8" height="7.92" fill="#927dce"/>
<rect x="314.8" y="632.45" width="56.8" height="7.92" fill="#dc93b7"/>
<rect x="259.0" y="639.88" width="55.8" height="7.92" fill="#806ac7"/>
<rect x="314.8" y="639.88" width="56.8" height="7.92" fill="#d98cb5"/>
<rect x="259.0" y="647.30" width="55.8" height="7.92" fill="#927dce"/>
<rect x="314.8" y="647.30" width="56.8" height="7.92" fill="#d98cb5"/>
<rect x="259.0" y="654.73" width="55.8" height="7.92" fill="#927dce"/>
<rect x="314.8" y="654.73" width="56.8" height="7.92" fill="#dc93b7"/>
<rect x="259.0" y="662.15" width="55.8" height="7.92" fill="#927dce"/>
<rect x="314.8" y="662.15" width="56.8" height="7.92" fill="#d98cb5"/>
<rect x="259.0" y="669.58" width="55.8" height="7.92" fill="#927dce"/>
<rect x="314.8" y="669.58" width="56.8" height="7.92" fill="#d98cb5"/>
<g transform="scale(0.1)">
<path stroke="#1a1050" stroke-width="79" fill="none" d="M3548 6364H3558"/>
<path stroke="#24175f" stroke-width="79" fill="none" d="M3558 5399H3568M3393 6290H3403"/>
<path stroke="#291b66" stroke-width="79" fill="none" d="M3483 5399H3493M3483 5622H3493M3593 5622H3608M3493 5770H3503M3373 6290H3383"/>
<path stroke="#2e1f6e" stroke-width="79" fill="none" d="M3618 5399H3628M3663 5399H3673M3713 5622H3716M2850 5770H2860M3473 5844H3483M3105 6364H3115M3373 6364H3383"/>
<path stroke="#37267b" stroke-width="79" fill="none" d="M3568 5325H3583M3473 5399H3483M3353 5622H3363M3333 5770H3343M3503 5770H3518M3608 5770H3618M3663 5919H3673M2870 6364H2880"/>
<path stroke="#422f8c" stroke-width="79" fill="none" d="M3593 5325H3608M3085 5399H3095M3353 5399H3363M3373 5399H3383M3448 5399H3463M3568 5399H3583M3713 5399H3716M3218 5622H3233M2605 5696H2615M3085 5696H3095M3448 5770H3463M3568 5770H3583M3333 5844H3343M3353 5844H3363M3483 5844H3493M3593 5844H3608M3085 5993H3095M3105 6067H3115M3393 6216H3403M2790 6438H2800M2990 6438H3000M3065 6438H3075"/>
<path stroke="#4e389c" stroke-width="79" fill="none" d="M3125 5325H3135M3483 5325H3493M3528 5325H3538M3253 5399H3263M3283 5399H3293M3418 5399H3428M3528 5399H3538M2960 5473H2970M3055 5547H3065M3353 5770H3363M3373 5770H3383M3383 5844H3393M3135 5919H3145M3618 5919H3628M2625 6067H2640M2990 6067H3000M3045 6067H3055M3075 6290H3085M2920 6438H2930M2950 6438H2960M3095 6438H3105M3628 6438H3638M3373 6661H3383"/>
<path stroke="#5b45aa" stroke-width="79" fill="none" d="M2780 5325H2790M3208 5325H3218M2720 5399H2740M2800 5399H2810M3363 5399H3373M3593 5399H3608M3683 5399H3693M2590 5547H2605M2670 5547H2680M3085 5547H3095M2860 5622H2870M3193 5622H3208M3473 5622H3483M3528 5622H3538M3568 5622H3583M3618 5622H3638M3483 5696H3493M3618 5770H3628M3168 5844H3178M3283 5844H3293M3493 5844H3518M3208 5919H3233M3473 5919H3483M3558 5919H3568M3593 5919H3608M2830 6067H2840M2870 6067H2880M2950 6067H2960M3010 6067H3020M3085 6067H3095M3115 6067H3125M2980 6290H2990M3020 6290H3030M2710 6364H2720M2840 6438H2850M2980 6438H2990M3085 6438H3095M3135 6438H3145"/>
<path stroke="#6953b6" stroke-width="79" fill="none" d="M3628 5325H3638M3168 5399H3178M3333 5399H3343M3503 5399H3518M2670 5473H2680M2860 5547H2870M3158 5622H3168M3208 5622H3218M3363 5622H3373M3383 5622H3393M3518 5622H3528M3653 5622H3663M2720 5696H2730M2940 5770H2950M3218 5770H3233M3243 5770H3253M3518 5770H3528M3218 5844H3233M3528 5844H3538M3558 5844H3583M3713 5844H3716M3333 5919H3343M3518 5919H3528M2650 5993H2660M2690 5993H2700M2605 6067H2615M2640 6067H2650M2680 6067H2690M2840 6067H2850M2910 6067H2930M2960 6067H2970M3055 6067H3075M3125 6067H3145M2700 6290H2710M2950 6290H2960M3065 6290H3075M2590 6364H2605M2910 6364H2920M2590 6438H2605M3020 6438H3030M3618 6438H3628"/>
<path stroke="#7660c3" stroke-width="79" fill="none" d="M2940 5325H2950M3168 5325H3178M3218 5325H3233M3253 5325H3263M3333 5325H3343M3503 5325H3518M3558 5325H3568M3683 5325H3693M2710 5399H2720M3125 5399H3135M3208 5399H3218M3493 5399H3503M2590 5473H2605M2960 5547H2970M3010 5622H3020M3168 5622H3178M3448 5622H3463M2590 5696H2605M2860 5696H2870M3538 5696H3548M2670 5770H2680M2765 5770H2780M3663 5770H3673M3713 5770H3716M3178 5844H3208M3373 5844H3383M3418 5844H3428M3448 5844H3463M3583 5844H3593M3628 5844H3653M3683 5844H3713M3353 5919H3363M3403 5919H3418M3483 5919H3493M3528 5919H3538M3693 5919H3703M2590 5993H2605M2710 5993H2730M2765 5993H2780M2850 5993H2860M2615 6067H2625M2650 6067H2660M2670 6067H2680M2700 6067H2710M2720 6067H2740M2765 6067H2780M2790 6067H2800M2810 6067H2820M2850 6067H2860M2880 6067H2895M2930 6067H2950M2970 6067H2980M3020 6067H3045M3095 6067H3105M3158 6067H3168M2690 6290H2700M2830 6290H2840M2910 6290H2920M3055 6290H3065M3145 6290H3148M3293 6290H3303M3548 6290H3558M2690 6364H2700M2720 6364H2730M2940 6364H2950M2830 6438H2840M2870 6438H2880M2910 6438H2920M2930 6438H2940M2960 6438H2970M3000 6438H3020M3045 6438H3065M3105 6438H3125M3353 6513H3363M2870 6661H2880M3105 6735H3115"/>
<path stroke="#806ac7" stroke-width="79" fill="none" d="M2720 5325H2730M3085 5325H3095M3383 5325H3393M3493 5325H3503M3663 5325H3673M3693 5325H3703M3713 5325H3716M2605 5399H2615M3178 5399H3193M3673 5399H3683M2800 5473H2810M3713 5473H3716M2910 5547H2920M3483 5547H3493M3148 5622H3158M3178 5622H3193M3273 5622H3283M3558 5622H3568M3663 5622H3673M3683 5622H3693M3158 5770H3178M3418 5770H3428M3473 5770H3493M3548 5770H3558M3628 5770H3638M2670 5844H2680M3085 5844H3095M3135 5844H3145M3148 5844H3158M3208 5844H3218M3263 5844H3273M3428 5844H3438M3653 5844H3663M3193 5919H3208M3383 5919H3393M3568 5919H3583M3608 5919H3618M3713 5919H3716M2800 5993H2810M2870 5993H2880M3125 5993H3135M3208 5993H3218M3283 5993H3293M2690 6067H2700M2710 6067H2720M2755 6067H2765M2800 6067H2810M2820 6067H2830M2860 6067H2870M3145 6067H3148M2950 6141H2960M2950 6216H2960M2990 6216H3000M2650 6290H2660M2710 6290H2720M2870 6290H2895M2920 6290H2930M2940 6290H2950M2970 6290H2980M2605 6364H2615M2640 6364H2660M2990 6364H3000M3145 6364H3148M2680 6438H2690M2700 6438H2710M2940 6438H2950M3030 6438H3045M3145 6438H3148M3373 6438H3383M2990 6513H3000M3095 6513H3105M3493 6513H3503M3628 6513H3638M2710 6587H2730M2950 6587H2960M2980 6587H3000M3105 6587H3115M2625 6661H2660M2990 6661H3000M2940 6735H2950M2990 6735H3000M3095 6735H3105"/>
<path stroke="#8974cb" stroke-width="79" fill="none" d="M2870 5325H2880M3178 5325H3193M3448 5325H3483M3518 5325H3528M2590 5399H2605M2640 5399H2650M2870 5399H2880M2950 5399H2960M3193 5399H3208M3343 5399H3353M2720 5473H2730M2860 5473H2870M3218 5473H3233M3253 5473H3263M3353 5473H3363M3373 5473H3393M3483 5473H3493M3628 5473H3638M2640 5547H2650M3135 5547H3145M3333 5547H3343M3393 5547H3403M3503 5547H3518M3593 5547H3608M3618 5547H3628M3663 5547H3673M3713 5547H3716M2690 5622H2700M2960 5622H2970M3343 5622H3353M3393 5622H3403M3418 5622H3438M3538 5622H3548M3638 5622H3653M2690 5696H2700M3168 5696H3178M3343 5696H3353M2870 5770H2880M3283 5770H3293M3323 5770H3333M3583 5770H3593M2690 5844H2700M2790 5844H2800M2960 5844H2970M3253 5844H3263M3363 5844H3373M3393 5844H3403M3438 5844H3448M3518 5844H3528M3618 5844H3628M2690 5919H2700M3168 5919H3178M3233 5919H3243M3323 5919H3333M3373 5919H3383M3448 5919H3463M3493 5919H3503M2605 5993H2615M2860 5993H2870M3333 5993H3343M3373 5993H3383M3428 5993H3438M3483 5993H3493M3593 5993H3608M3618 5993H3628M3713 5993H3716M2590 6067H2605M2660 6067H2670M2895 6067H2910M2980 6067H2990M3000 6067H3010M3075 6067H3085M2910 6141H2920M3055 6141H3065M2700 6216H2720M2790 6216H2800M3030 6216H3055M3065 6216H3075M3115 6216H3125M2605 6290H2625M2670 6290H2690M2810 6290H2820M2840 6290H2860M2930 6290H2940M2960 6290H2970M3010 6290H3020M3148 6290H3158M2860 6364H2870M2920 6364H2940M2950 6364H2970M2980 6364H2990M3045 6364H3055M3075 6364H3095M3115 6364H3125M3343 6364H3353M3363 6364H3373M3403 6364H3418M2625 6438H2640M2670 6438H2680M2730 6438H2740M2850 6438H2860M3363 6438H3373M3393 6438H3403M3683 6438H3693M2650 6513H2660M2670 6513H2680M2790 6513H2800M2840 6513H2850M2870 6513H2880M2980 6513H2990M3030 6513H3045M3065 6513H3075M3105 6513H3115M3383 6513H3393M3618 6513H3628M2640 6587H2650M2690 6587H2700M2870 6587H2880M2910 6587H2930M3045 6587H3055M2670 6661H2680M2910 6661H2940M3055 6661H3075M3145 6661H3148M2615 6735H2625M2670 6735H2680M2910 6735H2930M3115 6735H3125M3135 6735H3145"/>
<path stroke="#927dce" stroke-width="79" fill="none" d="M3323 5325H3333M3343 5325H3383M3418 5325H3438M3608 5325H3618M3010 5399H3020M3135 5399H3145M3293 5399H3303M3313 5399H3323M2615 5473H2625M3148 5473H3158M3168 5473H3178M3208 5473H3218M3463 5473H3473M2710 5547H2720M2930 5547H2940M3158 5547H3168M3208 5547H3233M3263 5547H3273M3448 5547H3463M3473 5547H3483M3493 5547H3503M3518 5547H3528M3628 5547H3638M3653 5547H3663M3683 5547H3693M3243 5622H3253M3333 5622H3343M3373 5622H3383M3493 5622H3518M2670 5696H2680M2730 5696H2740M2765 5696H2780M2870 5696H2880M3095 5696H3105M3125 5696H3135M3208 5696H3233M3253 5696H3263M3283 5696H3293M3383 5696H3393M3503 5696H3518M3558 5696H3568M3618 5696H3638M3713 5696H3716M3683 5770H3703M2810 5844H2820M3055 5844H3065M3313 5844H3323M3343 5844H3353M2720 5919H2730M2980 5919H2990M3085 5919H3095M3283 5919H3303M3343 5919H3353M3418 5919H3428M3503 5919H3518M3683 5919H3693M3703 5919H3713M2640 5993H2650M2660 5993H2670M2810 5993H2820M2940 5993H2950M3010 5993H3020M3168 5993H3178M3253 5993H3263M3383 5993H3393M3418 5993H3428M3583 5993H3593M3628 5993H3638M3683 5993H3693M2740 6067H2755M2780 6067H2790M2625 6141H2650M2690 6141H2720M2730 6141H2740M2755 6141H2780M2790 6141H2800M2810 6141H2820M2830 6141H2840M2870 6141H2910M2940 6141H2950M2990 6141H3000M3045 6141H3055M3065 6141H3075M3095 6141H3105M3115 6141H3125M3135 6141H3148M3373 6141H3383M2590 6216H2605M2625 6216H2640M2650 6216H2680M2690 6216H2700M2720 6216H2740M2765 6216H2780M2850 6216H2860M2870 6216H2880M2910 6216H2930M3010 6216H3020M3095 6216H3115M3125 6216H3148M2590 6290H2605M2625 6290H2640M2730 6290H2740M2790 6290H2810M2860 6290H2870M2895 6290H2910M2990 6290H3000M3045 6290H3055M3085 6290H3105M3135 6290H3145M3483 6290H3493M2660 6364H2670M2840 6364H2850M3020 6364H3030M3065 6364H3075M3095 6364H3105M3135 6364H3145M3448 6364H3463M2690 6438H2700M2740 6438H2765M2780 6438H2790M2800 6438H2810M2860 6438H2870M2970 6438H2980M3075 6438H3085M3208 6438H3218M2615 6513H2640M2680 6513H2700M2850 6513H2860M2910 6513H2940M2950 6513H2960M3115 6513H3125M3135 6513H3145M2590 6587H2605M2625 6587H2640M2670 6587H2680M2700 6587H2710M2730 6587H2740M2810 6587H2820M2840 6587H2850M2860 6587H2870M2930 6587H2940M2960 6587H2970M3020 6587H3030M3055 6587H3065M3135 6587H3145M3273 6587H3283M3548 6587H3558M2590 6661H2605M2660 6661H2670M2690 6661H2710M2730 6661H2740M2820 6661H2830M2850 6661H2860M2880 6661H2895M2950 6661H2960M3010 6661H3020M3030 6661H3055M3095 6661H3105M2590 6735H2615M2840 6735H2850M2895 6735H2910M3000 6735H3010M3045 6735H3055M3065 6735H3075M3085 6735H3095"/>
<path stroke="#9a86d2" stroke-width="79" fill="none" d="M2670 5325H2680M2730 5325H2740M3273 5325H3283M3548 5325H3558M3583 5325H3593M3618 5325H3628M3653 5325H3663M2755 5399H2765M2960 5399H2970M3263 5399H3273M3583 5399H3593M3608 5399H3618M2700 5473H2710M2730 5473H2740M2980 5473H2990M3125 5473H3135M3193 5473H3208M3363 5473H3373M3393 5473H3428M3473 5473H3483M3528 5473H3538M3548 5473H3558M3568 5473H3593M3618 5473H3628M3653 5473H3673M3703 5473H3713M2720 5547H2730M2940 5547H2950M3020 5547H3030M3193 5547H3208M3253 5547H3263M3283 5547H3293M3323 5547H3333M3353 5547H3363M3373 5547H3393M3418 5547H3428M3463 5547H3473M3528 5547H3538M3703 5547H3713M2720 5622H2730M3253 5622H3263M3283 5622H3293M3403 5622H3418M3548 5622H3558M3693 5622H3703M2640 5696H2650M2700 5696H2710M2755 5696H2765M2810 5696H2820M2940 5696H2950M2970 5696H2980M3075 5696H3085M3135 5696H3145M3178 5696H3193M3353 5696H3373M3418 5696H3428M3448 5696H3473M3493 5696H3503M3518 5696H3528M3568 5696H3583M3608 5696H3618M3663 5696H3693M2860 5770H2870M2980 5770H2990M3085 5770H3095M3208 5770H3218M3363 5770H3373M3528 5770H3538M2910 5844H2920M3403 5844H3418M3313 5919H3323M3548 5919H3558M3583 5919H3593M3628 5919H3638M3673 5919H3683M2980 5993H2990M3218 5993H3233M3353 5993H3363M3403 5993H3418M3448 5993H3483M3568 5993H3583M3608 5993H3618M3653 5993H3673M3393 6067H3403M3583 6067H3593M2590 6141H2605M2615 6141H2625M2650 6141H2660M2670 6141H2690M2720 6141H2730M2780 6141H2790M2840 6141H2860M2920 6141H2940M2960 6141H2970M2980 6141H2990M3000 6141H3020M3030 6141H3045M3085 6141H3095M3105 6141H3115M3125 6141H3135M3178 6141H3193M2605 6216H2625M2640 6216H2650M2680 6216H2690M2740 6216H2765M2820 6216H2830M2840 6216H2850M2860 6216H2870M2895 6216H2910M2930 6216H2950M2960 6216H2970M2980 6216H2990M3020 6216H3030M3075 6216H3095M3493 6216H3503M2660 6290H2670M2720 6290H2730M2755 6290H2780M3030 6290H3045M3115 6290H3125M3383 6290H3393M2615 6364H2625M2680 6364H2690M2700 6364H2710M2740 6364H2765M2790 6364H2800M2820 6364H2830M2880 6364H2910M3000 6364H3010M3243 6364H3253M3393 6364H3403M2615 6438H2625M2640 6438H2650M2720 6438H2730M2810 6438H2830M2880 6438H2895M2590 6513H2615M2640 6513H2650M2660 6513H2670M2710 6513H2730M2810 6513H2830M2860 6513H2870M2880 6513H2910M2940 6513H2950M2960 6513H2970M3045 6513H3065M3075 6513H3085M3145 6513H3148M3273 6513H3283M2615 6587H2625M2660 6587H2670M2680 6587H2690M2790 6587H2810M2970 6587H2980M3010 6587H3020M3075 6587H3085M3125 6587H3135M3145 6587H3148M3373 6587H3383M3618 6587H3628M2740 6661H2755M2790 6661H2810M2830 6661H2840M2895 6661H2910M2940 6661H2950M2960 6661H2980M3000 6661H3010M3020 6661H3030M3075 6661H3085M3105 6661H3135M3148 6661H3158M3208 6661H3218M2625 6735H2660M2700 6735H2710M2720 6735H2740M2755 6735H2780M2790 6735H2810M2820 6735H2840M2850 6735H2880M2930 6735H2940M2950 6735H2990M3020 6735H3045M3055 6735H3065M3243 6735H3253M3273 6735H3283M3373 6735H3383M3548 6735H3558"/>
<path stroke="#a185ce" stroke-width="79" fill="none" d="M2690 5325H2700M2980 5325H2990M3243 5325H3253M3263 5325H3273M3283 5325H3293M3538 5325H3548M3638 5325H3653M2780 5399H2790M2860 5399H2870M3383 5399H3418M3628 5399H3638M3693 5399H3713M2650 5473H2660M2710 5473H2720M2780 5473H2790M2990 5473H3000M3158 5473H3168M3293 5473H3303M3333 5473H3353M3493 5473H3503M3518 5473H3528M3538 5473H3548M3558 5473H3568M2810 5547H2820M2850 5547H2860M3115 5547H3125M3168 5547H3178M3293 5547H3303M3343 5547H3353M3403 5547H3418M3428 5547H3438M3638 5547H3653M3673 5547H3683M3693 5547H3703M3263 5622H3273M3303 5622H3313M3463 5622H3473M3673 5622H3683M3703 5622H3713M2660 5696H2670M2710 5696H2720M2740 5696H2755M2780 5696H2790M2850 5696H2860M3158 5696H3168M3193 5696H3208M3243 5696H3253M3263 5696H3273M3428 5696H3438M3473 5696H3483M3548 5696H3558M3593 5696H3608M3693 5696H3703M2780 5770H2790M3055 5770H3065M3193 5770H3208M3233 5770H3243M3383 5770H3393M3428 5770H3438M3653 5770H3663M3703 5770H3713M2590 5844H2615M3233 5844H3243M3273 5844H3283M3538 5844H3558M3663 5844H3673M2650 5919H2660M2680 5919H2690M2710 5919H2720M2960 5919H2970M3125 5919H3135M3158 5919H3168M3253 5919H3263M3303 5919H3313M3363 5919H3373M3653 5919H3663M2670 5993H2680M2700 5993H2710M3095 5993H3105M3193 5993H3208M3233 5993H3243M3493 5993H3518M3528 5993H3568M3693 5993H3703M3208 6067H3218M2660 6141H2670M2740 6141H2755M2800 6141H2810M2820 6141H2830M2970 6141H2980M3020 6141H3030M3075 6141H3085M3273 6141H3283M3363 6141H3373M3393 6141H3403M3618 6141H3628M3683 6141H3693M2800 6216H2810M2880 6216H2895M2970 6216H2980M3000 6216H3010M3055 6216H3065M3208 6216H3218M2640 6290H2650M2740 6290H2755M2820 6290H2830M3105 6290H3115M3208 6290H3218M3538 6290H3548M3628 6290H3638M2625 6364H2640M2730 6364H2740M2780 6364H2790M3030 6364H3045M3323 6364H3333M3473 6364H3483M2605 6438H2615M2650 6438H2670M2710 6438H2720M3493 6438H3503M2755 6513H2790M3000 6513H3020M3085 6513H3095M3253 6513H3263M3403 6513H3418M3448 6513H3463M2650 6587H2660M2740 6587H2755M2765 6587H2780M2820 6587H2840M2895 6587H2910M2940 6587H2950M3000 6587H3010M3065 6587H3075M3085 6587H3105M3115 6587H3125M3243 6587H3253M3628 6587H3638M2710 6661H2730M2755 6661H2765M2810 6661H2820M2840 6661H2850M2860 6661H2870M2980 6661H2990M3085 6661H3095M3683 6661H3693M2660 6735H2670M2680 6735H2700M2710 6735H2720M2780 6735H2790M2880 6735H2895M3010 6735H3020M3075 6735H3085M3145 6735H3148M3343 6735H3353M3383 6735H3393M3653 6735H3663"/>
<path stroke="#a884cb" stroke-width="79" fill="none" d="M2850 5325H2860M3148 5325H3168M3233 5325H3243M3293 5325H3303M3313 5325H3323M3403 5325H3418M3673 5325H3683M3703 5325H3713M2650 5399H2660M3218 5399H3243M3303 5399H3313M3438 5399H3448M3653 5399H3663M3178 5473H3193M3233 5473H3253M3283 5473H3293M3448 5473H3463M3503 5473H3518M3593 5473H3618M3683 5473H3703M2700 5547H2710M2980 5547H2990M3065 5547H3075M3178 5547H3193M3233 5547H3253M3363 5547H3373M3548 5547H3583M2710 5622H2720M2820 5622H2830M2940 5622H2950M2980 5622H2990M3020 5622H3030M3233 5622H3243M3313 5622H3323M3438 5622H3448M3583 5622H3593M3608 5622H3618M2790 5696H2800M2920 5696H2930M2960 5696H2970M3045 5696H3065M3293 5696H3323M3373 5696H3383M3403 5696H3418M3528 5696H3538M3583 5696H3593M3638 5696H3663M3703 5696H3713M2720 5770H2730M2800 5770H2810M3030 5770H3045M3438 5770H3448M3463 5770H3473M3593 5770H3608M2680 5844H2690M2730 5844H2740M2765 5844H2790M2850 5844H2860M3293 5844H3313M3608 5844H3618M2670 5919H2680M2870 5919H2880M3148 5919H3158M3178 5919H3193M3263 5919H3273M3428 5919H3448M3463 5919H3473M3638 5919H3653M2730 5993H2740M3065 5993H3075M3148 5993H3158M3178 5993H3193M3273 5993H3283M3293 5993H3303M3343 5993H3353M3363 5993H3373M3393 5993H3403M2605 6141H2615M2860 6141H2870M3448 6141H3463M3673 6141H3683M2780 6216H2790M2810 6216H2820M2830 6216H2840M3343 6216H3353M3618 6216H3638M2780 6290H2790M3000 6290H3010M3125 6290H3135M3253 6290H3263M3403 6290H3418M2670 6364H2680M2765 6364H2780M2810 6364H2820M2850 6364H2860M3055 6364H3065M3125 6438H3135M3548 6438H3558M3663 6438H3673M2700 6513H2710M2730 6513H2740M2830 6513H2840M3020 6513H3030M3218 6513H3233M3363 6513H3373M3518 6513H3528M3548 6513H3558M2605 6587H2615M2755 6587H2765M2850 6587H2860M3663 6587H3673M2615 6661H2625M2680 6661H2690M2765 6661H2790M3135 6661H3145M3618 6661H3628M3673 6661H3683M2810 6735H2820M3208 6735H3218M3418 6735H3428"/>
<path stroke="#ae83c7" stroke-width="79" fill="none" d="M2615 5325H2625M3193 5325H3208M3393 5325H3403M3438 5325H3448M2790 5399H2800M2980 5399H2990M3055 5399H3075M3548 5399H3558M2605 5473H2615M2755 5473H2765M2810 5473H2820M2940 5473H2950M3010 5473H3020M3030 5473H3045M3135 5473H3145M3263 5473H3273M3313 5473H3323M3428 5473H3438M3638 5473H3653M3673 5473H3683M3148 5547H3158M3303 5547H3323M3538 5547H3548M3608 5547H3618M2790 5622H2800M3085 5622H3095M3323 5622H3333M2615 5696H2625M2800 5696H2810M3010 5696H3020M3148 5696H3158M3233 5696H3243M3323 5696H3343M2590 5770H2605M2640 5770H2650M2880 5770H2895M2990 5770H3000M3178 5770H3193M3343 5770H3353M2710 5844H2720M2940 5844H2950M2970 5844H2980M3145 5844H3148M3158 5844H3168M3243 5844H3253M3323 5844H3333M3463 5844H3473M2765 5919H2780M2830 5919H2840M3243 5919H3253M3538 5919H3548M2780 5993H2790M2970 5993H2980M3000 5993H3010M3105 5993H3115M3135 5993H3145M3243 5993H3253M3438 5993H3448M3518 5993H3528M3673 5993H3683M3178 6067H3193M3548 6067H3558M3208 6141H3218M3493 6141H3503M3548 6141H3558M3608 6141H3618M3273 6216H3283M3178 6290H3208M3303 6290H3313M3583 6290H3593M2970 6364H2980M3125 6364H3135M3273 6364H3283M3303 6364H3313M3638 6364H3653M2765 6438H2780M2895 6438H2910M3323 6438H3333M2740 6513H2755M2800 6513H2810M3125 6513H3135M3148 6513H3158M3303 6513H3313M3583 6513H3593M2780 6587H2790M2880 6587H2895M3030 6587H3045M3393 6587H3403M2605 6661H2615M3218 6661H3233M3243 6661H3253M3293 6661H3303M3438 6661H3448M3538 6661H3548M2740 6735H2755M3125 6735H3135M3303 6735H3313"/>
<path stroke="#b682c3" stroke-width="79" fill="none" d="M2700 5325H2710M3095 5325H3125M3303 5325H3313M3243 5399H3253M2690 5473H2700M2820 5473H2830M2850 5473H2860M3115 5473H3125M3303 5473H3313M2605 5547H2615M2780 5547H2790M2870 5547H2880M3075 5547H3085M3273 5547H3283M2650 5622H2660M2850 5622H2860M3055 5622H3065M3105 5622H3125M3293 5622H3303M2680 5696H2690M2820 5696H2830M2880 5696H2910M2950 5696H2960M3438 5696H3448M2605 5770H2615M3148 5770H3158M3313 5770H3323M3403 5770H3418M3538 5770H3548M3638 5770H3653M2615 5844H2625M2720 5844H2730M3020 5844H3030M3125 5844H3135M2590 5919H2605M2860 5919H2870M2880 5919H2895M2970 5919H2980M3273 5919H3283M3393 5919H3403M2615 5993H2625M2820 5993H2830M2950 5993H2960M3030 5993H3055M3075 5993H3085M3158 5993H3168M3263 5993H3273M3303 5993H3313M3323 5993H3333M3638 5993H3653M3703 5993H3713M3218 6141H3233M3353 6141H3363M3438 6141H3448M3628 6141H3638M3418 6216H3428M3218 6290H3233M3323 6290H3333M3418 6290H3428M2800 6364H2810M2830 6364H2840M3010 6364H3020M3673 6364H3683M3693 6364H3703M3148 6438H3158M3168 6438H3178M3263 6438H3273M3343 6438H3353M2970 6513H2980M3158 6513H3168M3208 6513H3218M3343 6513H3353M3263 6587H3273M3363 6661H3373M3518 6661H3528M3713 6661H3716M3323 6735H3333M3363 6735H3373M3403 6735H3418M3618 6735H3628"/>
<path stroke="#bf84bf" stroke-width="79" fill="none" d="M2640 5325H2650M2765 5325H2780M2790 5325H2800M2740 5399H2755M2880 5399H2895M3428 5399H3438M3518 5399H3528M2660 5473H2670M2790 5473H2800M2970 5473H2980M3000 5473H3010M3065 5473H3075M3085 5473H3095M3273 5473H3283M2650 5547H2660M2755 5547H2765M2800 5547H2810M2950 5547H2960M3438 5547H3448M3583 5547H3593M2640 5622H2650M2680 5622H2690M2870 5622H2880M2895 5622H2920M2625 5696H2640M2830 5696H2840M2930 5696H2940M3020 5696H3030M3115 5696H3125M3145 5696H3148M3273 5696H3283M3393 5696H3403M2710 5770H2720M2730 5770H2740M2970 5770H2980M3095 5770H3105M3293 5770H3303M3673 5770H3683M2640 5844H2650M2920 5844H2930M3065 5844H3075M3673 5844H3683M2740 5919H2765M2820 5919H2830M3030 5919H3045M2910 5993H2920M3115 5993H3125M3168 6141H3178M3243 6141H3253M3518 6141H3528M3583 6141H3593M3548 6216H3558M3683 6216H3693M3703 6216H3713M3263 6290H3273M3448 6290H3463M3608 6290H3618M3218 6364H3233M3463 6364H3473M3568 6364H3583M3568 6438H3583M3373 6513H3383M3253 6587H3263M3323 6587H3333M3583 6587H3593M3253 6661H3263M3323 6661H3333M3548 6661H3558M3703 6661H3713M3448 6735H3463"/>
<path stroke="#c887bb" stroke-width="79" fill="none" d="M2590 5325H2605M2650 5325H2660M2800 5325H2810M2860 5325H2870M2920 5325H2930M3045 5325H3055M3065 5325H3075M3135 5325H3145M2970 5399H2980M3158 5399H3168M3463 5399H3473M2910 5473H2920M3045 5473H3055M2690 5547H2700M2820 5547H2830M2970 5547H2980M3010 5547H3020M3095 5547H3105M2740 5622H2755M2810 5622H2820M2830 5622H2840M2880 5622H2895M3065 5622H3075M3135 5622H3145M2910 5696H2920M3030 5696H3045M3105 5696H3115M2650 5770H2660M2910 5770H2920M3065 5770H3075M3253 5770H3273M3558 5770H3568M2700 5844H2710M2820 5844H2830M2860 5844H2870M2950 5844H2960M2790 5919H2810M2940 5919H2950M3095 5919H3105M3145 5919H3148M2755 5993H2765M2790 5993H2800M2895 5993H2910M2960 5993H2970M3313 5993H3323M3293 6067H3303M3568 6067H3583M3663 6067H3673M3463 6141H3473M3483 6141H3493M3663 6141H3673M3693 6141H3703M3568 6216H3583M3673 6216H3683M3243 6290H3253M3493 6290H3503M3593 6290H3608M3703 6290H3713M3383 6364H3393M3218 6438H3233M3353 6438H3363M3583 6438H3593M3293 6513H3303M3323 6513H3333M3503 6513H3518M3538 6513H3548M3713 6513H3716M3168 6587H3178M3293 6587H3303M3448 6587H3463M3673 6587H3683M3158 6661H3168M3273 6661H3283M3343 6661H3353M3393 6661H3403M3428 6661H3438M3593 6661H3608M3393 6735H3403M3438 6735H3448"/>
<path stroke="#d289b7" stroke-width="79" fill="none" d="M2660 5325H2670M3010 5325H3020M2690 5399H2700M2895 5399H2920M2990 5399H3000M3273 5399H3283M3323 5399H3333M2830 5473H2840M2950 5473H2960M3055 5473H3065M3323 5473H3333M3438 5473H3448M2830 5547H2840M2880 5547H2895M3105 5547H3115M2605 5622H2615M2800 5622H2810M3145 5622H3148M2650 5696H2660M2990 5696H3000M3065 5696H3075M2690 5770H2700M3020 5770H3030M3095 5844H3105M2640 5919H2650M2700 5919H2710M2730 5919H2740M2810 5919H2820M2850 5919H2860M2920 5919H2930M3010 5919H3020M3055 5919H3065M3075 5919H3085M2930 5993H2940M3055 5993H3065M3168 6067H3178M3218 6067H3233M3353 6067H3363M3373 6067H3383M3403 6067H3418M3448 6067H3463M3168 6216H3178M3253 6216H3263M3618 6290H3628M3168 6364H3178M3438 6364H3448M3483 6364H3493M3608 6364H3618M3628 6364H3638M3448 6438H3463M3483 6438H3493M3538 6438H3548M3638 6438H3653M3703 6438H3713M3693 6513H3703M3303 6587H3313M3363 6587H3373M3483 6587H3493M3653 6587H3663M3178 6661H3193M3463 6661H3473M3253 6735H3263M3583 6735H3593"/>
<path stroke="#d98cb5" stroke-width="79" fill="none" d="M2680 5325H2690M2820 5325H2830M3148 5399H3158M3638 5399H3653M2640 5473H2650M2895 5473H2910M2680 5547H2690M2765 5547H2780M2950 5622H2960M3045 5622H3055M2840 5696H2850M2980 5696H2990M3000 5696H3010M2625 5770H2640M2680 5770H2690M2700 5770H2710M2755 5770H2765M2790 5770H2800M2950 5770H2960M3125 5770H3135M3393 5770H3403M2740 5844H2755M2800 5844H2810M2870 5844H2880M2990 5844H3000M2615 5919H2625M2660 5919H2670M3045 5919H3055M3065 5919H3075M2680 5993H2690M2920 5993H2930M3145 5993H3148M3193 6067H3208M3363 6067H3373M3148 6141H3158M3473 6141H3483M3148 6216H3158M3178 6216H3193M3218 6216H3233M3243 6216H3253M3283 6216H3293M3503 6216H3518M3583 6216H3593M3158 6290H3168M3713 6290H3716M3178 6364H3193M3293 6364H3303M3618 6364H3628M3193 6438H3208M3558 6438H3568M3653 6438H3663M3263 6513H3273M3593 6513H3618M3653 6513H3663M3703 6513H3713M3148 6587H3158M3218 6587H3233M3283 6587H3293M3343 6587H3353M3518 6587H3528M3538 6587H3548M3493 6661H3518M3638 6661H3653M3148 6735H3158M3503 6735H3518M3568 6735H3583"/>
<path stroke="#dc93b7" stroke-width="79" fill="none" d="M2625 5325H2640M2880 5325H2895M2615 5399H2625M2670 5399H2680M2700 5399H2710M2820 5399H2830M2740 5473H2755M2880 5473H2895M2920 5473H2940M3095 5473H3105M2625 5547H2640M2740 5547H2755M2895 5547H2910M2990 5547H3000M3030 5547H3045M3125 5547H3135M2590 5622H2605M2670 5622H2680M2765 5622H2780M3010 5770H3020M3075 5770H3085M3303 5770H3313M3010 5844H3020M3075 5844H3085M2780 5919H2790M2910 5919H2920M3020 5919H3030M3115 5919H3125M2625 5993H2640M2880 5993H2895M3020 5993H3030M3243 6067H3253M3463 6067H3473M3503 6067H3518M3618 6067H3628M3293 6141H3303M3383 6141H3393M3403 6141H3418M3263 6216H3273M3293 6216H3303M3363 6216H3373M3448 6216H3463M3438 6290H3448M3243 6438H3263M3283 6438H3293M3178 6513H3193M3673 6513H3683M3428 6587H3438M3703 6587H3713M3293 6735H3303M3628 6735H3638M3683 6735H3693"/>
<path stroke="#df9ab9" stroke-width="79" fill="none" d="M2710 5325H2720M2740 5325H2755M2895 5325H2920M2990 5325H3010M2625 5399H2640M2790 5547H2800M2615 5622H2625M2660 5622H2670M3030 5622H3045M3095 5622H3105M3125 5622H3135M2810 5770H2820M2895 5770H2910M3105 5770H3115M2650 5844H2670M2830 5844H2840M2880 5844H2895M2980 5844H2990M3105 5844H3115M2840 5993H2850M3263 6067H3283M3313 6067H3323M3343 6067H3353M3518 6067H3528M3593 6067H3618M3653 6067H3663M3538 6141H3548M3568 6141H3583M3638 6141H3653M3303 6216H3313M3323 6216H3333M3373 6216H3383M3428 6216H3448M3538 6216H3548M3608 6216H3618M3653 6216H3663M3273 6290H3283M3353 6290H3373M3638 6290H3653M3673 6290H3683M3208 6364H3218M3233 6364H3243M3593 6364H3608M3683 6364H3693M3418 6438H3428M3438 6438H3448M3608 6438H3618M3438 6513H3448M3208 6587H3218M3353 6587H3363M3383 6587H3393M3403 6587H3418M3558 6587H3568M3403 6661H3418M3628 6661H3638M3428 6735H3438"/>
<path stroke="#e2a0bb" stroke-width="79" fill="none" d="M2810 5325H2820M2840 5325H2850M2960 5325H2970M3030 5325H3045M2680 5399H2690M2765 5399H2780M2840 5399H2850M3020 5399H3030M3075 5399H3085M2625 5473H2640M2765 5473H2780M2660 5547H2670M2970 5622H2980M2660 5770H2670M2840 5844H2850M2895 5844H2910M3030 5844H3045M2625 5919H2640M2990 5919H3000M3105 5919H3115M2740 5993H2755M2830 5993H2840M2990 5993H3000M3148 6067H3158M3628 6067H3638M3683 6067H3693M3253 6141H3263M3713 6141H3716M3158 6216H3168M3383 6216H3393M3528 6290H3538M3653 6290H3663M3148 6364H3158M3263 6364H3273M3333 6364H3343M3703 6364H3713M3158 6438H3168M3383 6438H3393M3673 6438H3683M3663 6513H3673M3233 6587H3243M3683 6587H3693M3168 6661H3178M3193 6661H3208M3333 6661H3343M3418 6661H3428M3693 6661H3703M3218 6735H3233M3283 6735H3293M3353 6735H3363M3538 6735H3548M3608 6735H3618M3703 6735H3713"/>
<path stroke="#e29db6" stroke-width="79" fill="none" d="M2605 5325H2615M3075 5325H3085M3145 5325H3148M2660 5399H2670M2810 5399H2820M2850 5399H2860M3000 5399H3010M3030 5399H3045M3095 5399H3105M3075 5473H3085M3105 5473H3115M3000 5547H3010M3045 5547H3055M2625 5622H2640M2755 5622H2765M2920 5622H2930M3000 5622H3010M2740 5770H2755M2820 5770H2830M3000 5770H3010M3273 5770H3283M3045 5844H3055M3115 5844H3125M2840 5919H2850M2950 5919H2960M3528 6067H3548M3638 6067H3653M3693 6067H3703M3193 6141H3208M3263 6141H3273M3343 6141H3353M3418 6141H3428M3703 6141H3713M3193 6216H3208M3353 6216H3363M3558 6216H3568M3168 6290H3178M3343 6290H3353M3463 6290H3473M3683 6290H3693M3158 6364H3168M3583 6364H3593M3653 6364H3673M3233 6438H3243M3333 6438H3343M3428 6438H3438M3463 6438H3473M3593 6438H3608M3428 6513H3438M3568 6513H3583M3638 6513H3653M3178 6587H3193M3713 6587H3716M3473 6661H3493M3558 6661H3568M3313 6735H3323M3483 6735H3493M3593 6735H3608"/>
<path stroke="#de8ea9" stroke-width="79" fill="none" d="M3020 5325H3030M3055 5325H3065M3538 5399H3548M2680 5473H2690M3145 5473H3148M2615 5547H2625M2730 5622H2740M2780 5622H2790M2930 5622H2940M2830 5770H2840M2960 5770H2970M2755 5844H2765M2930 5844H2940M2605 5919H2615M3323 6067H3333M3713 6067H3716M3323 6141H3333M3653 6141H3663M3403 6216H3418M3463 6216H3473M3638 6216H3653M3283 6290H3293M3518 6290H3528M3313 6364H3323M3503 6364H3518M3178 6438H3193M3293 6438H3303M3418 6513H3428M3683 6513H3693M3493 6587H3518M3593 6587H3608M3638 6587H3653M3653 6661H3663M3158 6735H3193M3493 6735H3503M3673 6735H3683"/>
<path stroke="#da7f9c" stroke-width="79" fill="none" d="M2830 5325H2840M2830 5399H2840M3115 5399H3125M3020 5473H3030M2730 5547H2740M3075 5622H3085M2840 5770H2850M3703 6067H3713M3528 6216H3538M3593 6216H3608M3663 6216H3673M3693 6216H3703M3713 6216H3716M3333 6290H3343M3428 6290H3438M3503 6290H3518M3558 6290H3568M3693 6290H3703M3283 6364H3293M3713 6364H3716M3303 6438H3313M3518 6438H3528M3713 6438H3716M3193 6513H3208M3243 6513H3253M3313 6513H3323M3393 6513H3403M3158 6587H3168M3438 6587H3448M3263 6661H3273M3383 6661H3393M3233 6735H3243M3463 6735H3473"/>
<path stroke="#d6708f" stroke-width="79" fill="none" d="M2950 5325H2960M3105 5399H3115M2840 5547H2850M2700 5622H2710M2615 5770H2625M3045 5770H3055M3115 5770H3125M3135 5770H3145M2625 5844H2640M2895 5919H2910M3000 5919H3010M3673 6067H3683M3158 6141H3168M3528 6141H3538M3558 6141H3568M3593 6141H3608M3233 6216H3243M3663 6290H3673M3193 6364H3208M3428 6364H3438M3493 6364H3503M3518 6364H3528M3558 6364H3568M3473 6438H3483M3463 6513H3483M3528 6513H3538M3558 6513H3568M3193 6587H3208M3568 6587H3583M3608 6587H3618M3638 6735H3653M3663 6735H3673"/>
<path stroke="#d16383" stroke-width="79" fill="none" d="M2940 5399H2950M2870 5473H2880M2990 5622H3000M3000 5844H3010M2930 5919H2940M3333 6067H3343M3483 6067H3503M3333 6141H3343M3333 6216H3343M3483 6216H3493M3233 6290H3243M3253 6364H3263M3538 6364H3548M3168 6513H3178M3418 6587H3428M3303 6661H3323M3448 6661H3463M3193 6735H3208M3263 6735H3273M3558 6735H3568M3693 6735H3703"/>
<path stroke="#cc5979" stroke-width="79" fill="none" d="M2970 5325H2980M2920 5399H2930M2840 5473H2850M3145 5547H3148M2920 5770H2930M3253 6067H3263M3283 6067H3293M3383 6067H3393M3473 6067H3483M3558 6067H3568M3303 6141H3313M3428 6141H3438M3518 6216H3528M3313 6290H3323M3473 6290H3483M3353 6364H3363M3418 6364H3428M3273 6438H3283M3403 6438H3418M3233 6513H3243M3483 6513H3493M3313 6587H3323M3463 6587H3473M3528 6587H3538M3233 6661H3243M3353 6661H3363M3568 6661H3583M3608 6661H3618M3518 6735H3538M3713 6735H3716"/>
<path stroke="#c84f6f" stroke-width="79" fill="none" d="M3045 5399H3055M3145 5770H3148M3418 6067H3428M3438 6067H3448M3283 6661H3293M3583 6661H3593"/>
<path stroke="#c34464" stroke-width="79" fill="none" d="M2840 5622H2850M3303 6067H3313M3283 6141H3293M3313 6141H3323M3473 6216H3483M3528 6364H3538M3693 6438H3703M3333 6587H3343M3473 6587H3483M3693 6587H3703"/>
<path stroke="#bf3d5d" stroke-width="79" fill="none" d="M2930 5770H2940M3233 6067H3243M3528 6438H3538M3283 6513H3293"/>
<path stroke="#ba3858" stroke-width="79" fill="none" d="M2930 5399H2940M3233 6141H3243M3313 6216H3323M3568 6290H3583M3503 6438H3518M3528 6661H3538"/>
<path stroke="#b63252" stroke-width="79" fill="none" d="M2920 5547H2930M3313 6438H3323M3473 6735H3483"/>
<path stroke="#b12c4c" stroke-width="79" fill="none" d="M2930 5325H2940M3428 6067H3438M3333 6513H3343M3333 6735H3343"/>
<path stroke="#ac2646" stroke-width="79" fill="none" d="M2755 5325H2765M3145 5399H3148M3663 6661H3673"/>
<path stroke="#a82040" stroke-width="79" fill="none" d="M3503 6141H3518"/>
</g></g></g>
<text x="257.00" y="533.91" font-size="6.6" text-anchor="end" fill="#333" >SGK1</text>
<text x="257.00" y="541.34" font-size="6.6" text-anchor="end" fill="#333" >TPM4</text>
<text x="257.00" y="548.76" font-size="6.6" text-anchor="end" fill="#333" >CD69</text>
<text x="257.00" y="556.19" font-size="6.6" text-anchor="end" fill="#333" >GBP4</text>
<text x="257.00" y="563.61" font-size="6.6" text-anchor="end" fill="#333" >EHMT1</text>
<text x="257.00" y="571.04" font-size="6.6" text-anchor="end" fill="#333" >MT1X</text>
<text x="257.00" y="578.46" font-size="6.6" text-anchor="end" fill="#333" >AQP3</text>
<text x="257.00" y="585.89" font-size="6.6" text-anchor="end" fill="#333" >IFI27</text>
<text x="257.00" y="593.31" font-size="6.6" text-anchor="end" fill="#333" >GNB2L1</text>
<text x="257.00" y="600.74" font-size="6.6" text-anchor="end" fill="#333" >MT2A</text>
<text x="257.00" y="608.16" font-size="6.6" text-anchor="end" fill="#333" >DEFA3</text>
<text x="257.00" y="615.59" font-size="6.6" text-anchor="end" fill="#333" >HBA2</text>
<text x="257.00" y="623.01" font-size="6.6" text-anchor="end" fill="#333" >HBA1</text>
<text x="257.00" y="630.44" font-size="6.6" text-anchor="end" fill="#333" >S100A8</text>
<text x="257.00" y="637.86" font-size="6.6" text-anchor="end" fill="#333" >HBB</text>
<text x="257.00" y="645.29" font-size="6.6" text-anchor="end" fill="#333" >S100A9</text>
<text x="257.00" y="652.71" font-size="6.6" text-anchor="end" fill="#333" >RGS1</text>
<text x="257.00" y="660.14" font-size="6.6" text-anchor="end" fill="#333" >LYZ</text>
<text x="257.00" y="667.56" font-size="6.6" text-anchor="end" fill="#333" >ELANE</text>
<text x="257.00" y="674.99" font-size="6.6" text-anchor="end" fill="#333" >PRTN3</text>
<text x="378.00" y="573.10" font-size="6.0" text-anchor="start" fill="#333" >Identity</text>
<circle cx="379.5" cy="581" r="1.8" fill="#0866b4"/>
<text x="384.00" y="583.10" font-size="5.9" text-anchor="start" fill="#2a2a2a" >ME + PB</text>
<circle cx="379.5" cy="590.5" r="1.8" fill="#f57d08"/>
<text x="384.00" y="592.60" font-size="5.9" text-anchor="start" fill="#2a2a2a" >BM</text>
<text x="378.00" y="602.60" font-size="6.0" text-anchor="start" fill="#333" >Expression</text>
<defs><linearGradient id="dg" x1="0" y1="1" x2="0" y2="0"><stop offset="0.000" stop-color="#1a1050"/><stop offset="0.111" stop-color="#302070"/><stop offset="0.185" stop-color="#6040a8"/><stop offset="0.259" stop-color="#8262c0"/><stop offset="0.358" stop-color="#ad9dd8"/><stop offset="0.457" stop-color="#d8d0ec"/><stop offset="0.531" stop-color="#f6eef4"/><stop offset="0.605" stop-color="#f0c0cc"/><stop offset="0.728" stop-color="#e0808e"/><stop offset="0.852" stop-color="#d0404a"/><stop offset="1.000" stop-color="#b01c2a"/></linearGradient></defs>
<rect x="378" y="608.2" width="7.9" height="30.7" fill="url(#dg)"/>
<text x="389.00" y="614.70" font-size="5.9" text-anchor="start" fill="#333" >2</text>
<text x="389.00" y="622.40" font-size="5.9" text-anchor="start" fill="#333" >1</text>
<text x="389.00" y="629.90" font-size="5.9" text-anchor="start" fill="#333" >0</text>
<text x="389.00" y="637.50" font-size="5.9" text-anchor="start" fill="#333" >−1</text>
<rect x="0.5" y="0.5" width="519" height="684" fill="none" stroke="#5c5c5c" stroke-width="1"/>
</svg></body></html>
